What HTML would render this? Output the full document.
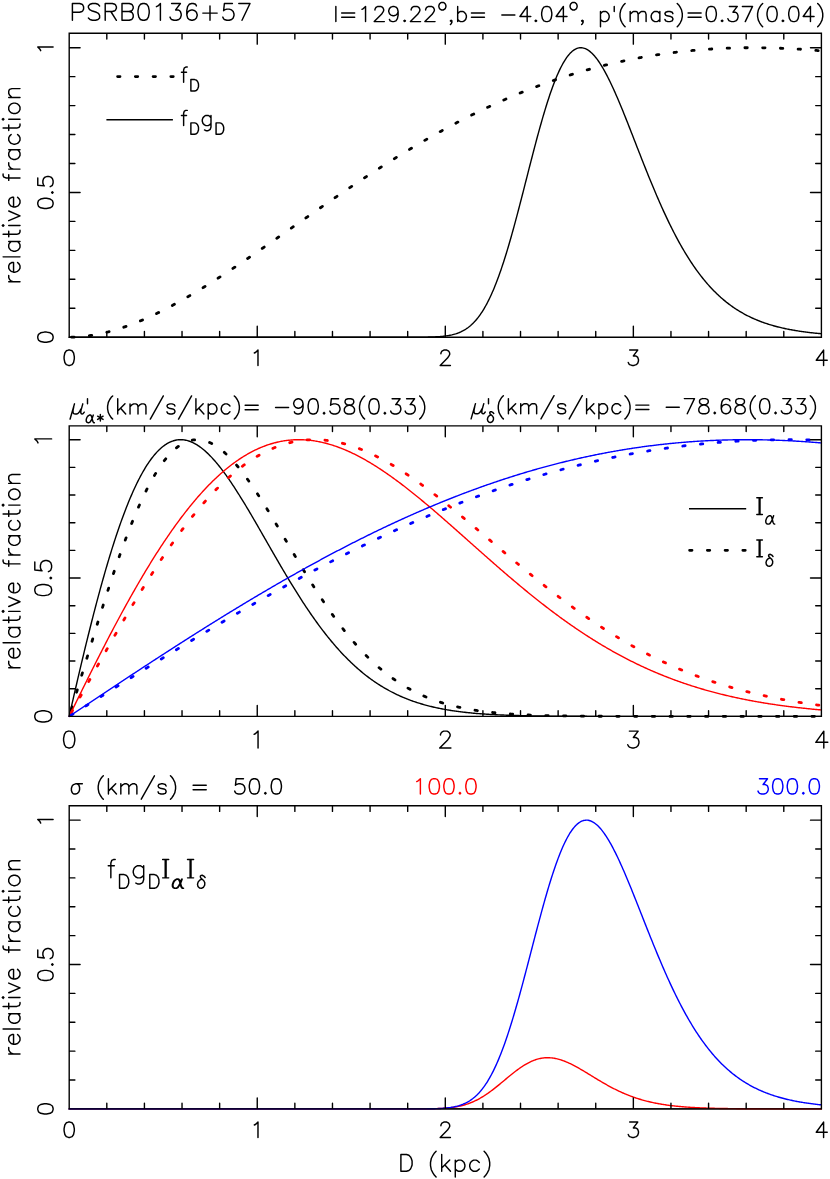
<!DOCTYPE html>
<html><head><meta charset="utf-8"><title>PSRB0136+57</title>
<style>html,body{margin:0;padding:0;background:#fff;font-family:"Liberation Sans",sans-serif}svg{display:block}</style>
</head><body>
<svg width="830" height="1179" viewBox="0 0 830 1179">
<title>PSRB0136+57 distance likelihood</title>
<desc>PSRB0136+57 l=129.22,b=-4.04, p'(mas)=0.37(0.04); relative fraction versus D (kpc); curves fD, fDgD, I alpha, I delta for sigma (km/s) = 50.0, 100.0, 300.0; mu'alpha*(km/s/kpc)= -90.58(0.33), mu'delta(km/s/kpc)= -78.68(0.33)</desc>
<rect width="830" height="1179" fill="#fff"/>
<g fill="none" stroke-linecap="round" stroke-linejoin="round">
<polyline points="69.20,337.20 70.14,337.20 71.08,337.19 72.02,337.17 72.96,337.15 73.90,337.12 74.84,337.08 75.78,337.04 76.72,336.99 77.66,336.93 78.60,336.87 79.54,336.80 80.48,336.73 81.42,336.64 82.36,336.56 83.30,336.46 84.24,336.36 85.18,336.26 86.12,336.15 87.06,336.03 88.01,335.91 88.95,335.78 89.89,335.64 90.83,335.50 91.77,335.35 92.71,335.20 93.65,335.04 94.59,334.88 95.53,334.71 96.47,334.53 97.41,334.35 98.35,334.17 99.29,333.98 100.23,333.78 101.17,333.58 102.11,333.37 103.05,333.16 103.99,332.94 104.93,332.72 105.87,332.49 106.81,332.25 107.75,332.01 108.69,331.77 109.63,331.52 110.57,331.27 111.51,331.01 112.45,330.75 113.39,330.48 114.33,330.20 115.27,329.93 116.21,329.64 117.15,329.36 118.09,329.06 119.03,328.77 119.97,328.46 120.91,328.16 121.85,327.85 122.79,327.53 123.73,327.21 124.67,326.89 125.62,326.56 126.56,326.23 127.50,325.89 128.44,325.55 129.38,325.21 130.32,324.86 131.26,324.50 132.20,324.14 133.14,323.78 134.08,323.42 135.02,323.05 135.96,322.67 136.90,322.29 137.84,321.91 138.78,321.53 139.72,321.14 140.66,320.74 141.60,320.34 142.54,319.94 143.48,319.54 144.42,319.13 145.36,318.72 146.30,318.30 147.24,317.88 148.18,317.46 149.12,317.03 150.06,316.60 151.00,316.17 151.94,315.73 152.88,315.29 153.82,314.85 154.76,314.40 155.70,313.95 156.64,313.50 157.58,313.04 158.52,312.58 159.46,312.12 160.40,311.65 161.34,311.18 162.28,310.71 163.23,310.23 164.17,309.76 165.11,309.27 166.05,308.79 166.99,308.30 167.93,307.81 168.87,307.32 169.81,306.82 170.75,306.32 171.69,305.82 172.63,305.32 173.57,304.81 174.51,304.30 175.45,303.79 176.39,303.27 177.33,302.75 178.27,302.23 179.21,301.71 180.15,301.18 181.09,300.66 182.03,300.12 182.97,299.59 183.91,299.06 184.85,298.52 185.79,297.98 186.73,297.44 187.67,296.89 188.61,296.34 189.55,295.79 190.49,295.24 191.43,294.69 192.37,294.13 193.31,293.57 194.25,293.01 195.19,292.45 196.13,291.89 197.07,291.32 198.01,290.75 198.95,290.18 199.89,289.61 200.84,289.03 201.78,288.46 202.72,287.88 203.66,287.30 204.60,286.72 205.54,286.13 206.48,285.55 207.42,284.96 208.36,284.37 209.30,283.78 210.24,283.19 211.18,282.59 212.12,282.00 213.06,281.40 214.00,280.80 214.94,280.20 215.88,279.60 216.82,279.00 217.76,278.39 218.70,277.78 219.64,277.18 220.58,276.57 221.52,275.96 222.46,275.34 223.40,274.73 224.34,274.11 225.28,273.50 226.22,272.88 227.16,272.26 228.10,271.64 229.04,271.02 229.98,270.40 230.92,269.77 231.86,269.15 232.80,268.52 233.74,267.89 234.68,267.26 235.62,266.64 236.56,266.00 237.50,265.37 238.45,264.74 239.39,264.11 240.33,263.47 241.27,262.84 242.21,262.20 243.15,261.56 244.09,260.92 245.03,260.28 245.97,259.64 246.91,259.00 247.85,258.36 248.79,257.72 249.73,257.08 250.67,256.43 251.61,255.79 252.55,255.14 253.49,254.49 254.43,253.85 255.37,253.20 256.31,252.55 257.25,251.90 258.19,251.25 259.13,250.60 260.07,249.95 261.01,249.30 261.95,248.65 262.89,248.00 263.83,247.34 264.77,246.69 265.71,246.04 266.65,245.38 267.59,244.73 268.53,244.07 269.47,243.42 270.41,242.76 271.35,242.11 272.29,241.45 273.23,240.79 274.17,240.14 275.11,239.48 276.06,238.82 277.00,238.16 277.94,237.50 278.88,236.85 279.82,236.19 280.76,235.53 281.70,234.87 282.64,234.21 283.58,233.55 284.52,232.89 285.46,232.23 286.40,231.57 287.34,230.91 288.28,230.25 289.22,229.59 290.16,228.93 291.10,228.27 292.04,227.61 292.98,226.95 293.92,226.29 294.86,225.64 295.80,224.98 296.74,224.32 297.68,223.66 298.62,223.00 299.56,222.34 300.50,221.68 301.44,221.02 302.38,220.36 303.32,219.70 304.26,219.04 305.20,218.39 306.14,217.73 307.08,217.07 308.02,216.41 308.96,215.75 309.90,215.10 310.84,214.44 311.78,213.78 312.72,213.13 313.67,212.47 314.61,211.82 315.55,211.16 316.49,210.51 317.43,209.85 318.37,209.20 319.31,208.55 320.25,207.89 321.19,207.24 322.13,206.59 323.07,205.94 324.01,205.28 324.95,204.63 325.89,203.98 326.83,203.33 327.77,202.68 328.71,202.04 329.65,201.39 330.59,200.74 331.53,200.09 332.47,199.45 333.41,198.80 334.35,198.15 335.29,197.51 336.23,196.87 337.17,196.22 338.11,195.58 339.05,194.94 339.99,194.30 340.93,193.65 341.87,193.01 342.81,192.38 343.75,191.74 344.69,191.10 345.63,190.46 346.57,189.82 347.51,189.19 348.45,188.55 349.39,187.92 350.33,187.29 351.28,186.65 352.22,186.02 353.16,185.39 354.10,184.76 355.04,184.13 355.98,183.50 356.92,182.87 357.86,182.25 358.80,181.62 359.74,181.00 360.68,180.37 361.62,179.75 362.56,179.13 363.50,178.51 364.44,177.88 365.38,177.27 366.32,176.65 367.26,176.03 368.20,175.41 369.14,174.80 370.08,174.18 371.02,173.57 371.96,172.95 372.90,172.34 373.84,171.73 374.78,171.12 375.72,170.51 376.66,169.91 377.60,169.30 378.54,168.69 379.48,168.09 380.42,167.49 381.36,166.88 382.30,166.28 383.24,165.68 384.18,165.08 385.12,164.49 386.06,163.89 387.00,163.29 387.94,162.70 388.89,162.10 389.83,161.51 390.77,160.92 391.71,160.33 392.65,159.74 393.59,159.16 394.53,158.57 395.47,157.98 396.41,157.40 397.35,156.82 398.29,156.24 399.23,155.66 400.17,155.08 401.11,154.50 402.05,153.92 402.99,153.35 403.93,152.77 404.87,152.20 405.81,151.63 406.75,151.06 407.69,150.49 408.63,149.92 409.57,149.35 410.51,148.79 411.45,148.23 412.39,147.66 413.33,147.10 414.27,146.54 415.21,145.98 416.15,145.43 417.09,144.87 418.03,144.32 418.97,143.76 419.91,143.21 420.85,142.66 421.79,142.11 422.73,141.56 423.67,141.02 424.61,140.47 425.55,139.93 426.50,139.39 427.44,138.85 428.38,138.31 429.32,137.77 430.26,137.23 431.20,136.70 432.14,136.16 433.08,135.63 434.02,135.10 434.96,134.57 435.90,134.04 436.84,133.52 437.78,132.99 438.72,132.47 439.66,131.94 440.60,131.42 441.54,130.91 442.48,130.39 443.42,129.87 444.36,129.36 445.30,128.84 446.24,128.33 447.18,127.82 448.12,127.31 449.06,126.81 450.00,126.30 450.94,125.80 451.88,125.29 452.82,124.79 453.76,124.29 454.70,123.79 455.64,123.30 456.58,122.80 457.52,122.31 458.46,121.82 459.40,121.33 460.34,120.84 461.28,120.35 462.22,119.86 463.16,119.38 464.11,118.90 465.05,118.42 465.99,117.94 466.93,117.46 467.87,116.98 468.81,116.51 469.75,116.03 470.69,115.56 471.63,115.09 472.57,114.62 473.51,114.16 474.45,113.69 475.39,113.23 476.33,112.76 477.27,112.30 478.21,111.85 479.15,111.39 480.09,110.93 481.03,110.48 481.97,110.03 482.91,109.57 483.85,109.13 484.79,108.68 485.73,108.23 486.67,107.79 487.61,107.34 488.55,106.90 489.49,106.46 490.43,106.03 491.37,105.59 492.31,105.16 493.25,104.72 494.19,104.29 495.13,103.86 496.07,103.43 497.01,103.01 497.95,102.58 498.89,102.16 499.83,101.74 500.77,101.32 501.72,100.90 502.66,100.48 503.60,100.07 504.54,99.66 505.48,99.24 506.42,98.84 507.36,98.43 508.30,98.02 509.24,97.62 510.18,97.21 511.12,96.81 512.06,96.41 513.00,96.01 513.94,95.62 514.88,95.22 515.82,94.83 516.76,94.44 517.70,94.05 518.64,93.66 519.58,93.27 520.52,92.89 521.46,92.51 522.40,92.12 523.34,91.75 524.28,91.37 525.22,90.99 526.16,90.62 527.10,90.24 528.04,89.87 528.98,89.50 529.92,89.14 530.86,88.77 531.80,88.40 532.74,88.04 533.68,87.68 534.62,87.32 535.56,86.96 536.50,86.61 537.44,86.25 538.38,85.90 539.33,85.55 540.27,85.20 541.21,84.85 542.15,84.51 543.09,84.16 544.03,83.82 544.97,83.48 545.91,83.14 546.85,82.80 547.79,82.47 548.73,82.13 549.67,81.80 550.61,81.47 551.55,81.14 552.49,80.82 553.43,80.49 554.37,80.17 555.31,79.84 556.25,79.52 557.19,79.21 558.13,78.89 559.07,78.57 560.01,78.26 560.95,77.95 561.89,77.64 562.83,77.33 563.77,77.02 564.71,76.72 565.65,76.41 566.59,76.11 567.53,75.81 568.47,75.51 569.41,75.22 570.35,74.92 571.29,74.63 572.23,74.34 573.17,74.05 574.11,73.76 575.05,73.47 575.99,73.19 576.94,72.90 577.88,72.62 578.82,72.34 579.76,72.06 580.70,71.79 581.64,71.51 582.58,71.24 583.52,70.97 584.46,70.70 585.40,70.43 586.34,70.16 587.28,69.90 588.22,69.64 589.16,69.38 590.10,69.12 591.04,68.86 591.98,68.60 592.92,68.35 593.86,68.09 594.80,67.84 595.74,67.59 596.68,67.34 597.62,67.10 598.56,66.85 599.50,66.61 600.44,66.37 601.38,66.13 602.32,65.89 603.26,65.65 604.20,65.42 605.14,65.19 606.08,64.96 607.02,64.73 607.96,64.50 608.90,64.27 609.84,64.05 610.78,63.82 611.72,63.60 612.66,63.38 613.60,63.16 614.55,62.95 615.49,62.73 616.43,62.52 617.37,62.31 618.31,62.10 619.25,61.89 620.19,61.68 621.13,61.47 622.07,61.27 623.01,61.07 623.95,60.87 624.89,60.67 625.83,60.47 626.77,60.28 627.71,60.08 628.65,59.89 629.59,59.70 630.53,59.51 631.47,59.32 632.41,59.14 633.35,58.95 634.29,58.77 635.23,58.59 636.17,58.41 637.11,58.23 638.05,58.05 638.99,57.88 639.93,57.71 640.87,57.53 641.81,57.36 642.75,57.20 643.69,57.03 644.63,56.86 645.57,56.70 646.51,56.54 647.45,56.38 648.39,56.22 649.33,56.06 650.27,55.90 651.21,55.75 652.16,55.60 653.10,55.45 654.04,55.30 654.98,55.15 655.92,55.00 656.86,54.86 657.80,54.71 658.74,54.57 659.68,54.43 660.62,54.29 661.56,54.15 662.50,54.02 663.44,53.88 664.38,53.75 665.32,53.62 666.26,53.49 667.20,53.36 668.14,53.24 669.08,53.11 670.02,52.99 670.96,52.87 671.90,52.74 672.84,52.63 673.78,52.51 674.72,52.39 675.66,52.28 676.60,52.16 677.54,52.05 678.48,51.94 679.42,51.83 680.36,51.73 681.30,51.62 682.24,51.52 683.18,51.41 684.12,51.31 685.06,51.21 686.00,51.12 686.94,51.02 687.88,50.92 688.82,50.83 689.77,50.74 690.71,50.65 691.65,50.56 692.59,50.47 693.53,50.38 694.47,50.30 695.41,50.21 696.35,50.13 697.29,50.05 698.23,49.97 699.17,49.89 700.11,49.82 701.05,49.74 701.99,49.67 702.93,49.59 703.87,49.52 704.81,49.45 705.75,49.39 706.69,49.32 707.63,49.25 708.57,49.19 709.51,49.13 710.45,49.07 711.39,49.01 712.33,48.95 713.27,48.89 714.21,48.84 715.15,48.78 716.09,48.73 717.03,48.68 717.97,48.63 718.91,48.58 719.85,48.53 720.79,48.49 721.73,48.44 722.67,48.40 723.61,48.36 724.55,48.32 725.49,48.28 726.43,48.24 727.38,48.21 728.32,48.17 729.26,48.14 730.20,48.10 731.14,48.07 732.08,48.04 733.02,48.02 733.96,47.99 734.90,47.96 735.84,47.94 736.78,47.92 737.72,47.89 738.66,47.87 739.60,47.86 740.54,47.84 741.48,47.82 742.42,47.81 743.36,47.79 744.30,47.78 745.24,47.77 746.18,47.76 747.12,47.75 748.06,47.74 749.00,47.74 749.94,47.73 750.88,47.73 751.82,47.72 752.76,47.72 753.70,47.72 754.64,47.73 755.58,47.73 756.52,47.73 757.46,47.74 758.40,47.74 759.34,47.75 760.28,47.76 761.22,47.77 762.16,47.78 763.10,47.79 764.04,47.81 764.99,47.82 765.93,47.84 766.87,47.86 767.81,47.88 768.75,47.90 769.69,47.92 770.63,47.94 771.57,47.96 772.51,47.99 773.45,48.01 774.39,48.04 775.33,48.07 776.27,48.10 777.21,48.13 778.15,48.16 779.09,48.19 780.03,48.23 780.97,48.26 781.91,48.30 782.85,48.34 783.79,48.38 784.73,48.42 785.67,48.46 786.61,48.50 787.55,48.54 788.49,48.59 789.43,48.63 790.37,48.68 791.31,48.73 792.25,48.78 793.19,48.83 794.13,48.88 795.07,48.93 796.01,48.99 796.95,49.04 797.89,49.10 798.83,49.15 799.77,49.21 800.71,49.27 801.65,49.33 802.60,49.39 803.54,49.46 804.48,49.52 805.42,49.58 806.36,49.65 807.30,49.72 808.24,49.78 809.18,49.85 810.12,49.92 811.06,49.99 812.00,50.07 812.94,50.14 813.88,50.21 814.82,50.29 815.76,50.37 816.70,50.44 817.64,50.52 818.58,50.60 819.52,50.68 820.46,50.76 821.40,50.85" stroke="#000" stroke-width="2.8" stroke-dasharray="2.4 15.35" stroke-dashoffset="-2.5"/>
<polyline points="69.20,337.20 70.14,337.20 71.08,337.20 72.02,337.20 72.96,337.20 73.90,337.20 74.84,337.20 75.78,337.20 76.72,337.20 77.66,337.20 78.60,337.20 79.54,337.20 80.48,337.20 81.42,337.20 82.36,337.20 83.30,337.20 84.24,337.20 85.18,337.20 86.12,337.20 87.06,337.20 88.01,337.20 88.95,337.20 89.89,337.20 90.83,337.20 91.77,337.20 92.71,337.20 93.65,337.20 94.59,337.20 95.53,337.20 96.47,337.20 97.41,337.20 98.35,337.20 99.29,337.20 100.23,337.20 101.17,337.20 102.11,337.20 103.05,337.20 103.99,337.20 104.93,337.20 105.87,337.20 106.81,337.20 107.75,337.20 108.69,337.20 109.63,337.20 110.57,337.20 111.51,337.20 112.45,337.20 113.39,337.20 114.33,337.20 115.27,337.20 116.21,337.20 117.15,337.20 118.09,337.20 119.03,337.20 119.97,337.20 120.91,337.20 121.85,337.20 122.79,337.20 123.73,337.20 124.67,337.20 125.62,337.20 126.56,337.20 127.50,337.20 128.44,337.20 129.38,337.20 130.32,337.20 131.26,337.20 132.20,337.20 133.14,337.20 134.08,337.20 135.02,337.20 135.96,337.20 136.90,337.20 137.84,337.20 138.78,337.20 139.72,337.20 140.66,337.20 141.60,337.20 142.54,337.20 143.48,337.20 144.42,337.20 145.36,337.20 146.30,337.20 147.24,337.20 148.18,337.20 149.12,337.20 150.06,337.20 151.00,337.20 151.94,337.20 152.88,337.20 153.82,337.20 154.76,337.20 155.70,337.20 156.64,337.20 157.58,337.20 158.52,337.20 159.46,337.20 160.40,337.20 161.34,337.20 162.28,337.20 163.23,337.20 164.17,337.20 165.11,337.20 166.05,337.20 166.99,337.20 167.93,337.20 168.87,337.20 169.81,337.20 170.75,337.20 171.69,337.20 172.63,337.20 173.57,337.20 174.51,337.20 175.45,337.20 176.39,337.20 177.33,337.20 178.27,337.20 179.21,337.20 180.15,337.20 181.09,337.20 182.03,337.20 182.97,337.20 183.91,337.20 184.85,337.20 185.79,337.20 186.73,337.20 187.67,337.20 188.61,337.20 189.55,337.20 190.49,337.20 191.43,337.20 192.37,337.20 193.31,337.20 194.25,337.20 195.19,337.20 196.13,337.20 197.07,337.20 198.01,337.20 198.95,337.20 199.89,337.20 200.84,337.20 201.78,337.20 202.72,337.20 203.66,337.20 204.60,337.20 205.54,337.20 206.48,337.20 207.42,337.20 208.36,337.20 209.30,337.20 210.24,337.20 211.18,337.20 212.12,337.20 213.06,337.20 214.00,337.20 214.94,337.20 215.88,337.20 216.82,337.20 217.76,337.20 218.70,337.20 219.64,337.20 220.58,337.20 221.52,337.20 222.46,337.20 223.40,337.20 224.34,337.20 225.28,337.20 226.22,337.20 227.16,337.20 228.10,337.20 229.04,337.20 229.98,337.20 230.92,337.20 231.86,337.20 232.80,337.20 233.74,337.20 234.68,337.20 235.62,337.20 236.56,337.20 237.50,337.20 238.45,337.20 239.39,337.20 240.33,337.20 241.27,337.20 242.21,337.20 243.15,337.20 244.09,337.20 245.03,337.20 245.97,337.20 246.91,337.20 247.85,337.20 248.79,337.20 249.73,337.20 250.67,337.20 251.61,337.20 252.55,337.20 253.49,337.20 254.43,337.20 255.37,337.20 256.31,337.20 257.25,337.20 258.19,337.20 259.13,337.20 260.07,337.20 261.01,337.20 261.95,337.20 262.89,337.20 263.83,337.20 264.77,337.20 265.71,337.20 266.65,337.20 267.59,337.20 268.53,337.20 269.47,337.20 270.41,337.20 271.35,337.20 272.29,337.20 273.23,337.20 274.17,337.20 275.11,337.20 276.06,337.20 277.00,337.20 277.94,337.20 278.88,337.20 279.82,337.20 280.76,337.20 281.70,337.20 282.64,337.20 283.58,337.20 284.52,337.20 285.46,337.20 286.40,337.20 287.34,337.20 288.28,337.20 289.22,337.20 290.16,337.20 291.10,337.20 292.04,337.20 292.98,337.20 293.92,337.20 294.86,337.20 295.80,337.20 296.74,337.20 297.68,337.20 298.62,337.20 299.56,337.20 300.50,337.20 301.44,337.20 302.38,337.20 303.32,337.20 304.26,337.20 305.20,337.20 306.14,337.20 307.08,337.20 308.02,337.20 308.96,337.20 309.90,337.20 310.84,337.20 311.78,337.20 312.72,337.20 313.67,337.20 314.61,337.20 315.55,337.20 316.49,337.20 317.43,337.20 318.37,337.20 319.31,337.20 320.25,337.20 321.19,337.20 322.13,337.20 323.07,337.20 324.01,337.20 324.95,337.20 325.89,337.20 326.83,337.20 327.77,337.20 328.71,337.20 329.65,337.20 330.59,337.20 331.53,337.20 332.47,337.20 333.41,337.20 334.35,337.20 335.29,337.20 336.23,337.20 337.17,337.20 338.11,337.20 339.05,337.20 339.99,337.20 340.93,337.20 341.87,337.20 342.81,337.20 343.75,337.20 344.69,337.20 345.63,337.20 346.57,337.20 347.51,337.20 348.45,337.20 349.39,337.20 350.33,337.20 351.28,337.20 352.22,337.20 353.16,337.20 354.10,337.20 355.04,337.20 355.98,337.20 356.92,337.20 357.86,337.20 358.80,337.20 359.74,337.20 360.68,337.20 361.62,337.20 362.56,337.20 363.50,337.20 364.44,337.20 365.38,337.20 366.32,337.20 367.26,337.20 368.20,337.20 369.14,337.20 370.08,337.20 371.02,337.20 371.96,337.20 372.90,337.20 373.84,337.20 374.78,337.20 375.72,337.20 376.66,337.20 377.60,337.20 378.54,337.20 379.48,337.20 380.42,337.20 381.36,337.20 382.30,337.20 383.24,337.20 384.18,337.20 385.12,337.20 386.06,337.20 387.00,337.20 387.94,337.20 388.89,337.20 389.83,337.20 390.77,337.20 391.71,337.20 392.65,337.20 393.59,337.20 394.53,337.20 395.47,337.20 396.41,337.20 397.35,337.20 398.29,337.20 399.23,337.20 400.17,337.20 401.11,337.20 402.05,337.20 402.99,337.20 403.93,337.20 404.87,337.20 405.81,337.20 406.75,337.20 407.69,337.20 408.63,337.19 409.57,337.19 410.51,337.19 411.45,337.19 412.39,337.19 413.33,337.19 414.27,337.19 415.21,337.18 416.15,337.18 417.09,337.18 418.03,337.17 418.97,337.17 419.91,337.16 420.85,337.16 421.79,337.15 422.73,337.14 423.67,337.13 424.61,337.12 425.55,337.11 426.50,337.10 427.44,337.08 428.38,337.06 429.32,337.04 430.26,337.02 431.20,337.00 432.14,336.97 433.08,336.94 434.02,336.90 434.96,336.86 435.90,336.82 436.84,336.77 437.78,336.72 438.72,336.66 439.66,336.60 440.60,336.52 441.54,336.45 442.48,336.36 443.42,336.26 444.36,336.16 445.30,336.04 446.24,335.92 447.18,335.78 448.12,335.63 449.06,335.47 450.00,335.29 450.94,335.09 451.88,334.89 452.82,334.66 453.76,334.41 454.70,334.15 455.64,333.87 456.58,333.56 457.52,333.23 458.46,332.88 459.40,332.50 460.34,332.09 461.28,331.66 462.22,331.19 463.16,330.70 464.11,330.17 465.05,329.61 465.99,329.01 466.93,328.37 467.87,327.70 468.81,326.99 469.75,326.24 470.69,325.44 471.63,324.60 472.57,323.71 473.51,322.78 474.45,321.80 475.39,320.77 476.33,319.68 477.27,318.55 478.21,317.36 479.15,316.11 480.09,314.81 481.03,313.45 481.97,312.03 482.91,310.56 483.85,309.02 484.79,307.42 485.73,305.76 486.67,304.04 487.61,302.25 488.55,300.40 489.49,298.48 490.43,296.50 491.37,294.45 492.31,292.34 493.25,290.16 494.19,287.92 495.13,285.61 496.07,283.23 497.01,280.79 497.95,278.29 498.89,275.72 499.83,273.09 500.77,270.40 501.72,267.64 502.66,264.83 503.60,261.96 504.54,259.02 505.48,256.04 506.42,252.99 507.36,249.89 508.30,246.75 509.24,243.55 510.18,240.30 511.12,237.01 512.06,233.67 513.00,230.29 513.94,226.87 514.88,223.42 515.82,219.93 516.76,216.40 517.70,212.85 518.64,209.27 519.58,205.67 520.52,202.05 521.46,198.40 522.40,194.75 523.34,191.07 524.28,187.39 525.22,183.70 526.16,180.01 527.10,176.32 528.04,172.63 528.98,168.95 529.92,165.27 530.86,161.61 531.80,157.96 532.74,154.33 533.68,150.72 534.62,147.13 535.56,143.57 536.50,140.04 537.44,136.55 538.38,133.08 539.33,129.66 540.27,126.28 541.21,122.95 542.15,119.66 543.09,116.42 544.03,113.23 544.97,110.10 545.91,107.02 546.85,104.01 547.79,101.05 548.73,98.16 549.67,95.34 550.61,92.58 551.55,89.90 552.49,87.28 553.43,84.74 554.37,82.28 555.31,79.89 556.25,77.58 557.19,75.35 558.13,73.20 559.07,71.14 560.01,69.16 560.95,67.26 561.89,65.45 562.83,63.72 563.77,62.08 564.71,60.53 565.65,59.07 566.59,57.70 567.53,56.41 568.47,55.21 569.41,54.11 570.35,53.09 571.29,52.16 572.23,51.32 573.17,50.57 574.11,49.91 575.05,49.34 575.99,48.85 576.94,48.45 577.88,48.14 578.82,47.92 579.76,47.78 580.70,47.72 581.64,47.75 582.58,47.86 583.52,48.06 584.46,48.33 585.40,48.69 586.34,49.12 587.28,49.63 588.22,50.21 589.16,50.87 590.10,51.61 591.04,52.41 591.98,53.29 592.92,54.23 593.86,55.25 594.80,56.33 595.74,57.47 596.68,58.68 597.62,59.94 598.56,61.27 599.50,62.66 600.44,64.10 601.38,65.60 602.32,67.15 603.26,68.75 604.20,70.40 605.14,72.10 606.08,73.85 607.02,75.64 607.96,77.48 608.90,79.35 609.84,81.27 610.78,83.22 611.72,85.21 612.66,87.24 613.60,89.30 614.55,91.39 615.49,93.51 616.43,95.66 617.37,97.83 618.31,100.03 619.25,102.26 620.19,104.51 621.13,106.77 622.07,109.06 623.01,111.36 623.95,113.68 624.89,116.02 625.83,118.37 626.77,120.73 627.71,123.10 628.65,125.48 629.59,127.87 630.53,130.27 631.47,132.67 632.41,135.07 633.35,137.48 634.29,139.90 635.23,142.31 636.17,144.72 637.11,147.13 638.05,149.54 638.99,151.95 639.93,154.35 640.87,156.75 641.81,159.14 642.75,161.53 643.69,163.90 644.63,166.27 645.57,168.63 646.51,170.98 647.45,173.32 648.39,175.65 649.33,177.96 650.27,180.26 651.21,182.55 652.16,184.83 653.10,187.09 654.04,189.33 654.98,191.56 655.92,193.77 656.86,195.97 657.80,198.15 658.74,200.31 659.68,202.45 660.62,204.58 661.56,206.68 662.50,208.77 663.44,210.84 664.38,212.89 665.32,214.91 666.26,216.92 667.20,218.91 668.14,220.88 669.08,222.82 670.02,224.75 670.96,226.65 671.90,228.53 672.84,230.39 673.78,232.23 674.72,234.05 675.66,235.84 676.60,237.62 677.54,239.37 678.48,241.10 679.42,242.81 680.36,244.49 681.30,246.15 682.24,247.80 683.18,249.42 684.12,251.01 685.06,252.59 686.00,254.14 686.94,255.67 687.88,257.18 688.82,258.67 689.77,260.14 690.71,261.59 691.65,263.01 692.59,264.41 693.53,265.79 694.47,267.16 695.41,268.50 696.35,269.81 697.29,271.11 698.23,272.39 699.17,273.65 700.11,274.89 701.05,276.11 701.99,277.30 702.93,278.48 703.87,279.64 704.81,280.78 705.75,281.90 706.69,283.01 707.63,284.09 708.57,285.16 709.51,286.20 710.45,287.23 711.39,288.24 712.33,289.24 713.27,290.21 714.21,291.17 715.15,292.11 716.09,293.04 717.03,293.95 717.97,294.84 718.91,295.72 719.85,296.58 720.79,297.42 721.73,298.25 722.67,299.06 723.61,299.86 724.55,300.64 725.49,301.41 726.43,302.17 727.38,302.91 728.32,303.63 729.26,304.35 730.20,305.05 731.14,305.73 732.08,306.40 733.02,307.06 733.96,307.71 734.90,308.34 735.84,308.96 736.78,309.57 737.72,310.17 738.66,310.75 739.60,311.33 740.54,311.89 741.48,312.44 742.42,312.98 743.36,313.51 744.30,314.03 745.24,314.53 746.18,315.03 747.12,315.52 748.06,316.00 749.00,316.46 749.94,316.92 750.88,317.37 751.82,317.81 752.76,318.24 753.70,318.66 754.64,319.07 755.58,319.48 756.52,319.87 757.46,320.26 758.40,320.64 759.34,321.01 760.28,321.37 761.22,321.73 762.16,322.07 763.10,322.41 764.04,322.75 764.99,323.07 765.93,323.39 766.87,323.70 767.81,324.01 768.75,324.31 769.69,324.60 770.63,324.89 771.57,325.17 772.51,325.44 773.45,325.71 774.39,325.97 775.33,326.22 776.27,326.48 777.21,326.72 778.15,326.96 779.09,327.19 780.03,327.42 780.97,327.65 781.91,327.87 782.85,328.08 783.79,328.29 784.73,328.50 785.67,328.70 786.61,328.89 787.55,329.08 788.49,329.27 789.43,329.45 790.37,329.63 791.31,329.81 792.25,329.98 793.19,330.15 794.13,330.31 795.07,330.47 796.01,330.62 796.95,330.78 797.89,330.93 798.83,331.07 799.77,331.21 800.71,331.35 801.65,331.49 802.60,331.62 803.54,331.75 804.48,331.88 805.42,332.00 806.36,332.12 807.30,332.24 808.24,332.36 809.18,332.47 810.12,332.58 811.06,332.69 812.00,332.80 812.94,332.90 813.88,333.00 814.82,333.10 815.76,333.19 816.70,333.29 817.64,333.38 818.58,333.47 819.52,333.56 820.46,333.64 821.40,333.72" stroke="#000" stroke-width="1.4"/>
<path d="M69.20 33.25H821.40V337.20H69.20ZM69.20 33.25v10.90M69.20 337.20v-10.90M106.81 33.25v5.70M106.81 337.20v-5.70M144.42 33.25v5.70M144.42 337.20v-5.70M182.03 33.25v5.70M182.03 337.20v-5.70M219.64 33.25v5.70M219.64 337.20v-5.70M257.25 33.25v10.90M257.25 337.20v-10.90M294.86 33.25v5.70M294.86 337.20v-5.70M332.47 33.25v5.70M332.47 337.20v-5.70M370.08 33.25v5.70M370.08 337.20v-5.70M407.69 33.25v5.70M407.69 337.20v-5.70M445.30 33.25v10.90M445.30 337.20v-10.90M482.91 33.25v5.70M482.91 337.20v-5.70M520.52 33.25v5.70M520.52 337.20v-5.70M558.13 33.25v5.70M558.13 337.20v-5.70M595.74 33.25v5.70M595.74 337.20v-5.70M633.35 33.25v10.90M633.35 337.20v-10.90M670.96 33.25v5.70M670.96 337.20v-5.70M708.57 33.25v5.70M708.57 337.20v-5.70M746.18 33.25v5.70M746.18 337.20v-5.70M783.79 33.25v5.70M783.79 337.20v-5.70M821.40 33.25v10.90M821.40 337.20v-10.90M69.20 337.20h10.90M821.40 337.20h-10.90M69.20 308.25h5.70M821.40 308.25h-5.70M69.20 279.30h5.70M821.40 279.30h-5.70M69.20 250.36h5.70M821.40 250.36h-5.70M69.20 221.41h5.70M821.40 221.41h-5.70M69.20 192.46h10.90M821.40 192.46h-10.90M69.20 163.51h5.70M821.40 163.51h-5.70M69.20 134.57h5.70M821.40 134.57h-5.70M69.20 105.62h5.70M821.40 105.62h-5.70M69.20 76.67h5.70M821.40 76.67h-5.70M69.20 47.72h10.90M821.40 47.72h-10.90" stroke="#000" stroke-width="1.4" stroke-linejoin="miter"/>
<path d="M68.47 350.07L69.93 350.07L72.12 350.80L73.58 352.99L74.31 356.64L74.31 358.83L73.58 362.48L72.12 364.67L69.93 365.40L68.47 365.40L66.28 364.67L64.82 362.48L64.09 358.83L64.09 356.64L64.82 352.99L66.28 350.80L68.47 350.07" stroke="#000" stroke-width="1.45"/>
<path d="M254.33 352.99L255.79 352.26L257.98 350.07L257.98 365.40" stroke="#000" stroke-width="1.45"/>
<path d="M440.92 353.72L440.92 352.99L441.65 351.53L442.38 350.80L443.84 350.07L446.76 350.07L448.22 350.80L448.95 351.53L449.68 352.99L449.68 354.45L448.95 355.91L447.49 358.10L440.19 365.40L450.41 365.40" stroke="#000" stroke-width="1.45"/>
<path d="M629.70 350.07L637.73 350.07L633.35 355.91L635.54 355.91L637.00 356.64L637.73 357.37L638.46 359.56L638.46 361.02L637.73 363.21L636.27 364.67L634.08 365.40L631.89 365.40L629.70 364.67L628.97 363.94L628.24 362.48" stroke="#000" stroke-width="1.45"/>
<path d="M827.24 360.29L823.59 360.29L823.59 350.07L816.29 360.29L823.59 360.29L823.59 365.40" stroke="#000" stroke-width="1.45"/>
<path d="M37.77 337.93L37.77 336.47L38.50 334.28L40.69 332.82L44.34 332.09L46.53 332.09L50.18 332.82L52.37 334.28L53.10 336.47L53.10 337.93L52.37 340.12L50.18 341.58L46.53 342.31L44.34 342.31L40.69 341.58L38.50 340.12L37.77 337.93" stroke="#000" stroke-width="1.45"/>
<path d="M37.77 204.14L37.77 202.68L38.50 200.49L40.69 199.03L44.34 198.30L46.53 198.30L50.18 199.03L52.37 200.49L53.10 202.68L53.10 204.14L52.37 206.33L50.18 207.79L46.53 208.52L44.34 208.52L40.69 207.79L38.50 206.33L37.77 204.14M51.64 192.46L52.37 193.19L53.10 192.46L52.37 191.73L51.64 192.46M52.37 192.46L52.37 192.46M37.77 177.86L37.77 185.16L44.34 185.89L43.61 185.16L42.88 182.97L42.88 180.78L43.61 178.59L45.07 177.13L47.26 176.40L48.72 176.40L50.91 177.13L52.37 178.59L53.10 180.78L53.10 182.97L52.37 185.16L51.64 185.89L50.18 186.62" stroke="#000" stroke-width="1.45"/>
<path d="M40.69 50.64L39.96 49.18L37.77 46.99L53.10 46.99" stroke="#000" stroke-width="1.45"/>
<path d="M8.73 281.82L13.56 281.82L11.14 281.02L9.53 279.41L8.73 277.80L8.73 275.38M13.56 281.82L20.00 281.82M13.56 272.17L11.14 271.36L9.53 269.75L8.73 268.14L8.73 265.73L9.53 264.12L10.34 263.31L11.95 262.50L13.56 262.50L13.56 272.17L15.17 272.17L17.58 271.36L19.19 269.75L20.00 268.14L20.00 265.73L19.19 264.12L17.58 262.50M3.09 256.87L20.00 256.87M8.73 241.57L11.14 241.57L9.53 243.19L8.73 244.79L8.73 247.21L9.53 248.82L11.14 250.43L13.56 251.24L15.17 251.24L17.58 250.43L19.19 248.82L20.00 247.21L20.00 244.79L19.19 243.19L17.58 241.57L11.14 241.57M17.58 241.57L20.00 241.57M3.09 234.33L8.73 234.33L8.73 236.75M8.73 231.11L8.73 234.33L16.78 234.33L19.19 233.53L20.00 231.91L20.00 230.31M8.73 225.47L20.00 225.47M2.29 225.47L3.09 226.28L3.90 225.47L3.09 224.67L2.29 225.47M8.73 220.64L20.00 215.81L8.73 210.98M13.56 206.96L11.14 206.16L9.54 204.54L8.73 202.94L8.73 200.52L9.54 198.91L10.34 198.10L11.95 197.30L13.56 197.30L13.56 206.96L15.17 206.96L17.59 206.16L19.20 204.54L20.00 202.94L20.00 200.52L19.20 198.91L17.59 197.30M3.09 173.95L3.09 175.56L3.90 177.17L6.31 177.98L8.73 177.98L8.73 180.39M8.73 174.76L8.73 177.98L20.00 177.98M8.73 169.12L13.56 169.12L11.14 168.32L9.54 166.71L8.73 165.10L8.73 162.69M13.56 169.12L20.00 169.12M8.73 149.81L11.15 149.81L9.54 151.41L8.73 153.02L8.73 155.44L9.54 157.05L11.14 158.66L13.56 159.47L15.17 159.47L17.59 158.66L19.20 157.05L20.00 155.44L20.00 153.02L19.20 151.41L17.59 149.81L11.15 149.81M17.59 149.81L20.00 149.81M11.15 134.51L9.54 136.12L8.73 137.73L8.73 140.14L9.54 141.75L11.15 143.37L13.56 144.17L15.17 144.17L17.59 143.37L19.20 141.75L20.00 140.14L20.00 137.73L19.20 136.12L17.59 134.51M3.10 128.07L8.73 128.07L8.73 130.48M8.73 124.85L8.73 128.07L16.78 128.07L19.20 127.26L20.00 125.66L20.00 124.04M8.73 119.21L20.00 119.21M2.29 119.21L3.10 120.02L3.90 119.21L3.10 118.41L2.29 119.21M8.73 109.55L8.73 107.14L9.54 105.53L11.15 103.92L13.56 103.11L15.17 103.11L17.59 103.92L19.20 105.53L20.00 107.14L20.00 109.55L19.20 111.16L17.59 112.77L15.17 113.58L13.56 113.58L11.15 112.77L9.54 111.16L8.73 109.55M8.73 97.48L11.95 97.48L9.54 95.06L8.73 93.45L8.73 91.04L9.54 89.43L11.95 88.62L20.00 88.62M11.95 97.48L20.00 97.48" stroke="#000" stroke-width="1.45"/>
<polyline points="69.20,716.40 70.14,712.23 71.08,708.08 72.02,703.94 72.96,699.82 73.90,695.71 74.84,691.61 75.78,687.53 76.72,683.47 77.66,679.43 78.60,675.40 79.54,671.39 80.48,667.40 81.42,663.44 82.36,659.49 83.30,655.56 84.24,651.65 85.18,647.77 86.12,643.91 87.06,640.08 88.01,636.26 88.95,632.48 89.89,628.72 90.83,624.98 91.77,621.27 92.71,617.59 93.65,613.93 94.59,610.31 95.53,606.71 96.47,603.14 97.41,599.60 98.35,596.09 99.29,592.62 100.23,589.17 101.17,585.75 102.11,582.37 103.05,579.02 103.99,575.70 104.93,572.42 105.87,569.17 106.81,565.96 107.75,562.78 108.69,559.63 109.63,556.52 110.57,553.45 111.51,550.41 112.45,547.41 113.39,544.45 114.33,541.52 115.27,538.64 116.21,535.79 117.15,532.98 118.09,530.20 119.03,527.47 119.97,524.78 120.91,522.12 121.85,519.51 122.79,516.94 123.73,514.40 124.67,511.91 125.62,509.46 126.56,507.05 127.50,504.68 128.44,502.35 129.38,500.07 130.32,497.82 131.26,495.62 132.20,493.46 133.14,491.34 134.08,489.27 135.02,487.24 135.96,485.25 136.90,483.30 137.84,481.40 138.78,479.54 139.72,477.72 140.66,475.95 141.60,474.21 142.54,472.53 143.48,470.88 144.42,469.28 145.36,467.72 146.30,466.21 147.24,464.74 148.18,463.31 149.12,461.92 150.06,460.58 151.00,459.28 151.94,458.03 152.88,456.81 153.82,455.64 154.76,454.52 155.70,453.43 156.64,452.39 157.58,451.39 158.52,450.43 159.46,449.52 160.40,448.65 161.34,447.82 162.28,447.03 163.23,446.28 164.17,445.57 165.11,444.91 166.05,444.28 166.99,443.70 167.93,443.16 168.87,442.66 169.81,442.19 170.75,441.77 171.69,441.39 172.63,441.05 173.57,440.74 174.51,440.48 175.45,440.25 176.39,440.06 177.33,439.91 178.27,439.80 179.21,439.73 180.15,439.69 181.09,439.69 182.03,439.72 182.97,439.79 183.91,439.90 184.85,440.04 185.79,440.22 186.73,440.43 187.67,440.68 188.61,440.96 189.55,441.27 190.49,441.62 191.43,442.00 192.37,442.41 193.31,442.86 194.25,443.34 195.19,443.84 196.13,444.38 197.07,444.95 198.01,445.55 198.95,446.18 199.89,446.84 200.84,447.53 201.78,448.25 202.72,448.99 203.66,449.76 204.60,450.56 205.54,451.39 206.48,452.24 207.42,453.12 208.36,454.02 209.30,454.95 210.24,455.91 211.18,456.89 212.12,457.89 213.06,458.91 214.00,459.96 214.94,461.03 215.88,462.12 216.82,463.23 217.76,464.37 218.70,465.52 219.64,466.70 220.58,467.90 221.52,469.11 222.46,470.34 223.40,471.59 224.34,472.86 225.28,474.15 226.22,475.45 227.16,476.78 228.10,478.11 229.04,479.46 229.98,480.83 230.92,482.21 231.86,483.61 232.80,485.02 233.74,486.45 234.68,487.88 235.62,489.33 236.56,490.80 237.50,492.27 238.45,493.76 239.39,495.25 240.33,496.76 241.27,498.28 242.21,499.80 243.15,501.34 244.09,502.88 245.03,504.44 245.97,506.00 246.91,507.57 247.85,509.14 248.79,510.72 249.73,512.31 250.67,513.91 251.61,515.51 252.55,517.12 253.49,518.73 254.43,520.34 255.37,521.96 256.31,523.59 257.25,525.21 258.19,526.84 259.13,528.48 260.07,530.11 261.01,531.75 261.95,533.39 262.89,535.03 263.83,536.67 264.77,538.31 265.71,539.95 266.65,541.60 267.59,543.24 268.53,544.88 269.47,546.52 270.41,548.16 271.35,549.80 272.29,551.43 273.23,553.07 274.17,554.70 275.11,556.33 276.06,557.95 277.00,559.58 277.94,561.20 278.88,562.81 279.82,564.42 280.76,566.03 281.70,567.63 282.64,569.23 283.58,570.83 284.52,572.41 285.46,574.00 286.40,575.57 287.34,577.14 288.28,578.71 289.22,580.27 290.16,581.82 291.10,583.37 292.04,584.90 292.98,586.44 293.92,587.96 294.86,589.48 295.80,590.99 296.74,592.49 297.68,593.98 298.62,595.47 299.56,596.94 300.50,598.41 301.44,599.87 302.38,601.32 303.32,602.77 304.26,604.20 305.20,605.63 306.14,607.04 307.08,608.45 308.02,609.84 308.96,611.23 309.90,612.61 310.84,613.98 311.78,615.33 312.72,616.68 313.67,618.02 314.61,619.35 315.55,620.66 316.49,621.97 317.43,623.27 318.37,624.55 319.31,625.83 320.25,627.09 321.19,628.35 322.13,629.59 323.07,630.82 324.01,632.05 324.95,633.26 325.89,634.46 326.83,635.65 327.77,636.82 328.71,637.99 329.65,639.15 330.59,640.29 331.53,641.43 332.47,642.55 333.41,643.66 334.35,644.76 335.29,645.85 336.23,646.93 337.17,648.00 338.11,649.05 339.05,650.10 339.99,651.13 340.93,652.16 341.87,653.17 342.81,654.17 343.75,655.16 344.69,656.14 345.63,657.11 346.57,658.06 347.51,659.01 348.45,659.94 349.39,660.87 350.33,661.78 351.28,662.68 352.22,663.57 353.16,664.45 354.10,665.32 355.04,666.18 355.98,667.03 356.92,667.87 357.86,668.70 358.80,669.51 359.74,670.32 360.68,671.12 361.62,671.90 362.56,672.68 363.50,673.44 364.44,674.20 365.38,674.94 366.32,675.68 367.26,676.40 368.20,677.12 369.14,677.82 370.08,678.52 371.02,679.21 371.96,679.88 372.90,680.55 373.84,681.21 374.78,681.85 375.72,682.49 376.66,683.12 377.60,683.74 378.54,684.35 379.48,684.96 380.42,685.55 381.36,686.13 382.30,686.71 383.24,687.27 384.18,687.83 385.12,688.38 386.06,688.92 387.00,689.46 387.94,689.98 388.89,690.50 389.83,691.00 390.77,691.50 391.71,692.00 392.65,692.48 393.59,692.96 394.53,693.42 395.47,693.89 396.41,694.34 397.35,694.78 398.29,695.22 399.23,695.65 400.17,696.08 401.11,696.49 402.05,696.90 402.99,697.31 403.93,697.70 404.87,698.09 405.81,698.47 406.75,698.85 407.69,699.22 408.63,699.58 409.57,699.94 410.51,700.29 411.45,700.63 412.39,700.97 413.33,701.30 414.27,701.62 415.21,701.94 416.15,702.26 417.09,702.56 418.03,702.87 418.97,703.16 419.91,703.45 420.85,703.74 421.79,704.02 422.73,704.29 423.67,704.56 424.61,704.83 425.55,705.09 426.50,705.34 427.44,705.59 428.38,705.84 429.32,706.08 430.26,706.31 431.20,706.54 432.14,706.77 433.08,706.99 434.02,707.21 434.96,707.42 435.90,707.63 436.84,707.83 437.78,708.03 438.72,708.23 439.66,708.42 440.60,708.61 441.54,708.79 442.48,708.97 443.42,709.15 444.36,709.32 445.30,709.49 446.24,709.66 447.18,709.82 448.12,709.98 449.06,710.14 450.00,710.29 450.94,710.44 451.88,710.59 452.82,710.73 453.76,710.87 454.70,711.00 455.64,711.14 456.58,711.27 457.52,711.40 458.46,711.52 459.40,711.64 460.34,711.76 461.28,711.88 462.22,711.99 463.16,712.11 464.11,712.22 465.05,712.32 465.99,712.43 466.93,712.53 467.87,712.63 468.81,712.73 469.75,712.82 470.69,712.91 471.63,713.00 472.57,713.09 473.51,713.18 474.45,713.26 475.39,713.35 476.33,713.43 477.27,713.51 478.21,713.58 479.15,713.66 480.09,713.73 481.03,713.80 481.97,713.87 482.91,713.94 483.85,714.01 484.79,714.07 485.73,714.13 486.67,714.19 487.61,714.26 488.55,714.31 489.49,714.37 490.43,714.43 491.37,714.48 492.31,714.53 493.25,714.59 494.19,714.64 495.13,714.69 496.07,714.73 497.01,714.78 497.95,714.83 498.89,714.87 499.83,714.91 500.77,714.95 501.72,715.00 502.66,715.04 503.60,715.07 504.54,715.11 505.48,715.15 506.42,715.18 507.36,715.22 508.30,715.25 509.24,715.29 510.18,715.32 511.12,715.35 512.06,715.38 513.00,715.41 513.94,715.44 514.88,715.47 515.82,715.50 516.76,715.52 517.70,715.55 518.64,715.57 519.58,715.60 520.52,715.62 521.46,715.65 522.40,715.67 523.34,715.69 524.28,715.71 525.22,715.73 526.16,715.75 527.10,715.77 528.04,715.79 528.98,715.81 529.92,715.83 530.86,715.85 531.80,715.86 532.74,715.88 533.68,715.89 534.62,715.91 535.56,715.93 536.50,715.94 537.44,715.95 538.38,715.97 539.33,715.98 540.27,715.99 541.21,716.01 542.15,716.02 543.09,716.03 544.03,716.04 544.97,716.05 545.91,716.07 546.85,716.08 547.79,716.09 548.73,716.10 549.67,716.11 550.61,716.12 551.55,716.13 552.49,716.13 553.43,716.14 554.37,716.15 555.31,716.16 556.25,716.17 557.19,716.17 558.13,716.18 559.07,716.19 560.01,716.20 560.95,716.20 561.89,716.21 562.83,716.22 563.77,716.22 564.71,716.23 565.65,716.23 566.59,716.24 567.53,716.24 568.47,716.25 569.41,716.25 570.35,716.26 571.29,716.26 572.23,716.27 573.17,716.27 574.11,716.28 575.05,716.28 575.99,716.29 576.94,716.29 577.88,716.29 578.82,716.30 579.76,716.30 580.70,716.30 581.64,716.31 582.58,716.31 583.52,716.31 584.46,716.32 585.40,716.32 586.34,716.32 587.28,716.33 588.22,716.33 589.16,716.33 590.10,716.33 591.04,716.34 591.98,716.34 592.92,716.34 593.86,716.34 594.80,716.34 595.74,716.35 596.68,716.35 597.62,716.35 598.56,716.35 599.50,716.35 600.44,716.35 601.38,716.36 602.32,716.36 603.26,716.36 604.20,716.36 605.14,716.36 606.08,716.36 607.02,716.37 607.96,716.37 608.90,716.37 609.84,716.37 610.78,716.37 611.72,716.37 612.66,716.37 613.60,716.37 614.55,716.37 615.49,716.38 616.43,716.38 617.37,716.38 618.31,716.38 619.25,716.38 620.19,716.38 621.13,716.38 622.07,716.38 623.01,716.38 623.95,716.38 624.89,716.38 625.83,716.38 626.77,716.38 627.71,716.38 628.65,716.39 629.59,716.39 630.53,716.39 631.47,716.39 632.41,716.39 633.35,716.39 634.29,716.39 635.23,716.39 636.17,716.39 637.11,716.39 638.05,716.39 638.99,716.39 639.93,716.39 640.87,716.39 641.81,716.39 642.75,716.39 643.69,716.39 644.63,716.39 645.57,716.39 646.51,716.39 647.45,716.39 648.39,716.39 649.33,716.39 650.27,716.39 651.21,716.39 652.16,716.39 653.10,716.39 654.04,716.40 654.98,716.40 655.92,716.40 656.86,716.40 657.80,716.40 658.74,716.40 659.68,716.40 660.62,716.40 661.56,716.40 662.50,716.40 663.44,716.40 664.38,716.40 665.32,716.40 666.26,716.40 667.20,716.40 668.14,716.40 669.08,716.40 670.02,716.40 670.96,716.40 671.90,716.40 672.84,716.40 673.78,716.40 674.72,716.40 675.66,716.40 676.60,716.40 677.54,716.40 678.48,716.40 679.42,716.40 680.36,716.40 681.30,716.40 682.24,716.40 683.18,716.40 684.12,716.40 685.06,716.40 686.00,716.40 686.94,716.40 687.88,716.40 688.82,716.40 689.77,716.40 690.71,716.40 691.65,716.40 692.59,716.40 693.53,716.40 694.47,716.40 695.41,716.40 696.35,716.40 697.29,716.40 698.23,716.40 699.17,716.40 700.11,716.40 701.05,716.40 701.99,716.40 702.93,716.40 703.87,716.40 704.81,716.40 705.75,716.40 706.69,716.40 707.63,716.40 708.57,716.40 709.51,716.40 710.45,716.40 711.39,716.40 712.33,716.40 713.27,716.40 714.21,716.40 715.15,716.40 716.09,716.40 717.03,716.40 717.97,716.40 718.91,716.40 719.85,716.40 720.79,716.40 721.73,716.40 722.67,716.40 723.61,716.40 724.55,716.40 725.49,716.40 726.43,716.40 727.38,716.40 728.32,716.40 729.26,716.40 730.20,716.40 731.14,716.40 732.08,716.40 733.02,716.40 733.96,716.40 734.90,716.40 735.84,716.40 736.78,716.40 737.72,716.40 738.66,716.40 739.60,716.40 740.54,716.40 741.48,716.40 742.42,716.40 743.36,716.40 744.30,716.40 745.24,716.40 746.18,716.40 747.12,716.40 748.06,716.40 749.00,716.40 749.94,716.40 750.88,716.40 751.82,716.40 752.76,716.40 753.70,716.40 754.64,716.40 755.58,716.40 756.52,716.40 757.46,716.40 758.40,716.40 759.34,716.40 760.28,716.40 761.22,716.40 762.16,716.40 763.10,716.40 764.04,716.40 764.99,716.40 765.93,716.40 766.87,716.40 767.81,716.40 768.75,716.40 769.69,716.40 770.63,716.40 771.57,716.40 772.51,716.40 773.45,716.40 774.39,716.40 775.33,716.40 776.27,716.40 777.21,716.40 778.15,716.40 779.09,716.40 780.03,716.40 780.97,716.40 781.91,716.40 782.85,716.40 783.79,716.40 784.73,716.40 785.67,716.40 786.61,716.40 787.55,716.40 788.49,716.40 789.43,716.40 790.37,716.40 791.31,716.40 792.25,716.40 793.19,716.40 794.13,716.40 795.07,716.40 796.01,716.40 796.95,716.40 797.89,716.40 798.83,716.40 799.77,716.40 800.71,716.40 801.65,716.40 802.60,716.40 803.54,716.40 804.48,716.40 805.42,716.40 806.36,716.40 807.30,716.40 808.24,716.40 809.18,716.40 810.12,716.40 811.06,716.40 812.00,716.40 812.94,716.40 813.88,716.40 814.82,716.40 815.76,716.40 816.70,716.40 817.64,716.40 818.58,716.40 819.52,716.40 820.46,716.40 821.40,716.40" stroke="#000" stroke-width="1.4"/>
<polyline points="69.20,716.40 70.14,713.35 71.08,710.29 72.02,707.22 72.96,704.15 73.90,701.07 74.84,697.98 75.78,694.89 76.72,691.80 77.66,688.70 78.60,685.59 79.54,682.49 80.48,679.38 81.42,676.27 82.36,673.16 83.30,670.04 84.24,666.93 85.18,663.82 86.12,660.71 87.06,657.60 88.01,654.50 88.95,651.40 89.89,648.30 90.83,645.21 91.77,642.12 92.71,639.03 93.65,635.96 94.59,632.89 95.53,629.82 96.47,626.77 97.41,623.72 98.35,620.68 99.29,617.66 100.23,614.64 101.17,611.63 102.11,608.64 103.05,605.66 103.99,602.69 104.93,599.73 105.87,596.79 106.81,593.86 107.75,590.94 108.69,588.05 109.63,585.16 110.57,582.30 111.51,579.45 112.45,576.62 113.39,573.80 114.33,571.01 115.27,568.24 116.21,565.48 117.15,562.74 118.09,560.03 119.03,557.34 119.97,554.66 120.91,552.02 121.85,549.39 122.79,546.78 123.73,544.20 124.67,541.65 125.62,539.12 126.56,536.61 127.50,534.13 128.44,531.67 129.38,529.24 130.32,526.84 131.26,524.46 132.20,522.12 133.14,519.80 134.08,517.50 135.02,515.24 135.96,513.00 136.90,510.80 137.84,508.62 138.78,506.48 139.72,504.36 140.66,502.27 141.60,500.22 142.54,498.20 143.48,496.20 144.42,494.24 145.36,492.32 146.30,490.42 147.24,488.56 148.18,486.73 149.12,484.93 150.06,483.17 151.00,481.43 151.94,479.74 152.88,478.07 153.82,476.45 154.76,474.85 155.70,473.29 156.64,471.77 157.58,470.28 158.52,468.82 159.46,467.40 160.40,466.01 161.34,464.66 162.28,463.35 163.23,462.07 164.17,460.82 165.11,459.62 166.05,458.44 166.99,457.31 167.93,456.21 168.87,455.14 169.81,454.11 170.75,453.12 171.69,452.16 172.63,451.24 173.57,450.35 174.51,449.50 175.45,448.69 176.39,447.91 177.33,447.17 178.27,446.46 179.21,445.79 180.15,445.16 181.09,444.56 182.03,444.00 182.97,443.47 183.91,442.97 184.85,442.51 185.79,442.09 186.73,441.70 187.67,441.35 188.61,441.03 189.55,440.74 190.49,440.49 191.43,440.28 192.37,440.10 193.31,439.95 194.25,439.83 195.19,439.75 196.13,439.70 197.07,439.69 198.01,439.70 198.95,439.75 199.89,439.83 200.84,439.95 201.78,440.09 202.72,440.27 203.66,440.48 204.60,440.72 205.54,440.99 206.48,441.29 207.42,441.62 208.36,441.98 209.30,442.37 210.24,442.79 211.18,443.24 212.12,443.72 213.06,444.23 214.00,444.76 214.94,445.32 215.88,445.91 216.82,446.53 217.76,447.17 218.70,447.84 219.64,448.54 220.58,449.26 221.52,450.01 222.46,450.78 223.40,451.58 224.34,452.40 225.28,453.24 226.22,454.11 227.16,455.00 228.10,455.92 229.04,456.85 229.98,457.81 230.92,458.80 231.86,459.80 232.80,460.82 233.74,461.87 234.68,462.93 235.62,464.02 236.56,465.12 237.50,466.24 238.45,467.38 239.39,468.54 240.33,469.72 241.27,470.92 242.21,472.13 243.15,473.36 244.09,474.60 245.03,475.87 245.97,477.14 246.91,478.44 247.85,479.74 248.79,481.06 249.73,482.40 250.67,483.75 251.61,485.11 252.55,486.49 253.49,487.87 254.43,489.27 255.37,490.68 256.31,492.11 257.25,493.54 258.19,494.98 259.13,496.44 260.07,497.90 261.01,499.38 261.95,500.86 262.89,502.35 263.83,503.85 264.77,505.36 265.71,506.87 266.65,508.39 267.59,509.92 268.53,511.46 269.47,513.00 270.41,514.54 271.35,516.10 272.29,517.65 273.23,519.22 274.17,520.78 275.11,522.35 276.06,523.93 277.00,525.50 277.94,527.09 278.88,528.67 279.82,530.25 280.76,531.84 281.70,533.43 282.64,535.02 283.58,536.61 284.52,538.21 285.46,539.80 286.40,541.39 287.34,542.99 288.28,544.58 289.22,546.17 290.16,547.76 291.10,549.35 292.04,550.94 292.98,552.53 293.92,554.12 294.86,555.70 295.80,557.28 296.74,558.86 297.68,560.43 298.62,562.00 299.56,563.57 300.50,565.13 301.44,566.69 302.38,568.25 303.32,569.80 304.26,571.35 305.20,572.89 306.14,574.42 307.08,575.96 308.02,577.48 308.96,579.00 309.90,580.52 310.84,582.02 311.78,583.53 312.72,585.02 313.67,586.51 314.61,587.99 315.55,589.47 316.49,590.93 317.43,592.39 318.37,593.85 319.31,595.29 320.25,596.73 321.19,598.16 322.13,599.58 323.07,601.00 324.01,602.40 324.95,603.80 325.89,605.19 326.83,606.57 327.77,607.94 328.71,609.30 329.65,610.65 330.59,612.00 331.53,613.33 332.47,614.66 333.41,615.97 334.35,617.28 335.29,618.58 336.23,619.86 337.17,621.14 338.11,622.41 339.05,623.67 339.99,624.91 340.93,626.15 341.87,627.38 342.81,628.60 343.75,629.81 344.69,631.00 345.63,632.19 346.57,633.37 347.51,634.54 348.45,635.69 349.39,636.84 350.33,637.97 351.28,639.10 352.22,640.21 353.16,641.32 354.10,642.41 355.04,643.50 355.98,644.57 356.92,645.63 357.86,646.68 358.80,647.72 359.74,648.75 360.68,649.77 361.62,650.78 362.56,651.78 363.50,652.77 364.44,653.75 365.38,654.72 366.32,655.67 367.26,656.62 368.20,657.56 369.14,658.48 370.08,659.40 371.02,660.30 371.96,661.20 372.90,662.08 373.84,662.95 374.78,663.82 375.72,664.67 376.66,665.52 377.60,666.35 378.54,667.17 379.48,667.98 380.42,668.79 381.36,669.58 382.30,670.36 383.24,671.14 384.18,671.90 385.12,672.66 386.06,673.40 387.00,674.14 387.94,674.86 388.89,675.58 389.83,676.28 390.77,676.98 391.71,677.67 392.65,678.35 393.59,679.01 394.53,679.67 395.47,680.33 396.41,680.97 397.35,681.60 398.29,682.22 399.23,682.84 400.17,683.45 401.11,684.04 402.05,684.63 402.99,685.21 403.93,685.79 404.87,686.35 405.81,686.91 406.75,687.45 407.69,687.99 408.63,688.52 409.57,689.05 410.51,689.56 411.45,690.07 412.39,690.57 413.33,691.06 414.27,691.55 415.21,692.02 416.15,692.49 417.09,692.95 418.03,693.41 418.97,693.86 419.91,694.30 420.85,694.73 421.79,695.16 422.73,695.58 423.67,695.99 424.61,696.39 425.55,696.79 426.50,697.19 427.44,697.57 428.38,697.95 429.32,698.32 430.26,698.69 431.20,699.05 432.14,699.41 433.08,699.75 434.02,700.10 434.96,700.43 435.90,700.76 436.84,701.09 437.78,701.41 438.72,701.72 439.66,702.03 440.60,702.33 441.54,702.63 442.48,702.92 443.42,703.21 444.36,703.49 445.30,703.76 446.24,704.03 447.18,704.30 448.12,704.56 449.06,704.82 450.00,705.07 450.94,705.32 451.88,705.56 452.82,705.80 453.76,706.03 454.70,706.26 455.64,706.48 456.58,706.70 457.52,706.92 458.46,707.13 459.40,707.34 460.34,707.54 461.28,707.74 462.22,707.94 463.16,708.13 464.11,708.32 465.05,708.50 465.99,708.68 466.93,708.86 467.87,709.03 468.81,709.20 469.75,709.37 470.69,709.53 471.63,709.69 472.57,709.85 473.51,710.00 474.45,710.15 475.39,710.30 476.33,710.44 477.27,710.58 478.21,710.72 479.15,710.86 480.09,710.99 481.03,711.12 481.97,711.24 482.91,711.37 483.85,711.49 484.79,711.61 485.73,711.73 486.67,711.84 487.61,711.95 488.55,712.06 489.49,712.17 490.43,712.27 491.37,712.37 492.31,712.47 493.25,712.57 494.19,712.66 495.13,712.76 496.07,712.85 497.01,712.94 497.95,713.02 498.89,713.11 499.83,713.19 500.77,713.27 501.72,713.35 502.66,713.43 503.60,713.51 504.54,713.58 505.48,713.65 506.42,713.72 507.36,713.79 508.30,713.86 509.24,713.93 510.18,713.99 511.12,714.05 512.06,714.11 513.00,714.17 513.94,714.23 514.88,714.29 515.82,714.34 516.76,714.40 517.70,714.45 518.64,714.50 519.58,714.55 520.52,714.60 521.46,714.65 522.40,714.70 523.34,714.74 524.28,714.79 525.22,714.83 526.16,714.88 527.10,714.92 528.04,714.96 528.98,715.00 529.92,715.03 530.86,715.07 531.80,715.11 532.74,715.14 533.68,715.18 534.62,715.21 535.56,715.25 536.50,715.28 537.44,715.31 538.38,715.34 539.33,715.37 540.27,715.40 541.21,715.43 542.15,715.45 543.09,715.48 544.03,715.51 544.97,715.53 545.91,715.56 546.85,715.58 547.79,715.60 548.73,715.63 549.67,715.65 550.61,715.67 551.55,715.69 552.49,715.71 553.43,715.73 554.37,715.75 555.31,715.77 556.25,715.79 557.19,715.81 558.13,715.82 559.07,715.84 560.01,715.86 560.95,715.87 561.89,715.89 562.83,715.90 563.77,715.92 564.71,715.93 565.65,715.95 566.59,715.96 567.53,715.97 568.47,715.99 569.41,716.00 570.35,716.01 571.29,716.02 572.23,716.03 573.17,716.05 574.11,716.06 575.05,716.07 575.99,716.08 576.94,716.09 577.88,716.10 578.82,716.11 579.76,716.11 580.70,716.12 581.64,716.13 582.58,716.14 583.52,716.15 584.46,716.16 585.40,716.16 586.34,716.17 587.28,716.18 588.22,716.19 589.16,716.19 590.10,716.20 591.04,716.20 591.98,716.21 592.92,716.22 593.86,716.22 594.80,716.23 595.74,716.23 596.68,716.24 597.62,716.24 598.56,716.25 599.50,716.25 600.44,716.26 601.38,716.26 602.32,716.27 603.26,716.27 604.20,716.28 605.14,716.28 606.08,716.28 607.02,716.29 607.96,716.29 608.90,716.30 609.84,716.30 610.78,716.30 611.72,716.31 612.66,716.31 613.60,716.31 614.55,716.31 615.49,716.32 616.43,716.32 617.37,716.32 618.31,716.33 619.25,716.33 620.19,716.33 621.13,716.33 622.07,716.33 623.01,716.34 623.95,716.34 624.89,716.34 625.83,716.34 626.77,716.35 627.71,716.35 628.65,716.35 629.59,716.35 630.53,716.35 631.47,716.35 632.41,716.36 633.35,716.36 634.29,716.36 635.23,716.36 636.17,716.36 637.11,716.36 638.05,716.36 638.99,716.37 639.93,716.37 640.87,716.37 641.81,716.37 642.75,716.37 643.69,716.37 644.63,716.37 645.57,716.37 646.51,716.37 647.45,716.37 648.39,716.38 649.33,716.38 650.27,716.38 651.21,716.38 652.16,716.38 653.10,716.38 654.04,716.38 654.98,716.38 655.92,716.38 656.86,716.38 657.80,716.38 658.74,716.38 659.68,716.38 660.62,716.38 661.56,716.39 662.50,716.39 663.44,716.39 664.38,716.39 665.32,716.39 666.26,716.39 667.20,716.39 668.14,716.39 669.08,716.39 670.02,716.39 670.96,716.39 671.90,716.39 672.84,716.39 673.78,716.39 674.72,716.39 675.66,716.39 676.60,716.39 677.54,716.39 678.48,716.39 679.42,716.39 680.36,716.39 681.30,716.39 682.24,716.39 683.18,716.39 684.12,716.39 685.06,716.39 686.00,716.39 686.94,716.39 687.88,716.39 688.82,716.40 689.77,716.40 690.71,716.40 691.65,716.40 692.59,716.40 693.53,716.40 694.47,716.40 695.41,716.40 696.35,716.40 697.29,716.40 698.23,716.40 699.17,716.40 700.11,716.40 701.05,716.40 701.99,716.40 702.93,716.40 703.87,716.40 704.81,716.40 705.75,716.40 706.69,716.40 707.63,716.40 708.57,716.40 709.51,716.40 710.45,716.40 711.39,716.40 712.33,716.40 713.27,716.40 714.21,716.40 715.15,716.40 716.09,716.40 717.03,716.40 717.97,716.40 718.91,716.40 719.85,716.40 720.79,716.40 721.73,716.40 722.67,716.40 723.61,716.40 724.55,716.40 725.49,716.40 726.43,716.40 727.38,716.40 728.32,716.40 729.26,716.40 730.20,716.40 731.14,716.40 732.08,716.40 733.02,716.40 733.96,716.40 734.90,716.40 735.84,716.40 736.78,716.40 737.72,716.40 738.66,716.40 739.60,716.40 740.54,716.40 741.48,716.40 742.42,716.40 743.36,716.40 744.30,716.40 745.24,716.40 746.18,716.40 747.12,716.40 748.06,716.40 749.00,716.40 749.94,716.40 750.88,716.40 751.82,716.40 752.76,716.40 753.70,716.40 754.64,716.40 755.58,716.40 756.52,716.40 757.46,716.40 758.40,716.40 759.34,716.40 760.28,716.40 761.22,716.40 762.16,716.40 763.10,716.40 764.04,716.40 764.99,716.40 765.93,716.40 766.87,716.40 767.81,716.40 768.75,716.40 769.69,716.40 770.63,716.40 771.57,716.40 772.51,716.40 773.45,716.40 774.39,716.40 775.33,716.40 776.27,716.40 777.21,716.40 778.15,716.40 779.09,716.40 780.03,716.40 780.97,716.40 781.91,716.40 782.85,716.40 783.79,716.40 784.73,716.40 785.67,716.40 786.61,716.40 787.55,716.40 788.49,716.40 789.43,716.40 790.37,716.40 791.31,716.40 792.25,716.40 793.19,716.40 794.13,716.40 795.07,716.40 796.01,716.40 796.95,716.40 797.89,716.40 798.83,716.40 799.77,716.40 800.71,716.40 801.65,716.40 802.60,716.40 803.54,716.40 804.48,716.40 805.42,716.40 806.36,716.40 807.30,716.40 808.24,716.40 809.18,716.40 810.12,716.40 811.06,716.40 812.00,716.40 812.94,716.40 813.88,716.40 814.82,716.40 815.76,716.40 816.70,716.40 817.64,716.40 818.58,716.40 819.52,716.40 820.46,716.40 821.40,716.40" stroke="#000" stroke-width="2.8" stroke-dasharray="2.4 15.35" stroke-dashoffset="-7.55"/>
<polyline points="69.20,716.40 70.14,714.47 71.08,712.54 72.02,710.61 72.96,708.69 73.90,706.76 74.84,704.84 75.78,702.92 76.72,701.00 77.66,699.08 78.60,697.17 79.54,695.25 80.48,693.34 81.42,691.44 82.36,689.53 83.30,687.63 84.24,685.73 85.18,683.83 86.12,681.94 87.06,680.04 88.01,678.15 88.95,676.27 89.89,674.39 90.83,672.51 91.77,670.63 92.71,668.76 93.65,666.89 94.59,665.02 95.53,663.16 96.47,661.30 97.41,659.44 98.35,657.59 99.29,655.74 100.23,653.90 101.17,652.06 102.11,650.22 103.05,648.39 103.99,646.56 104.93,644.74 105.87,642.92 106.81,641.11 107.75,639.30 108.69,637.49 109.63,635.69 110.57,633.90 111.51,632.11 112.45,630.32 113.39,628.54 114.33,626.77 115.27,625.00 116.21,623.23 117.15,621.47 118.09,619.72 119.03,617.97 119.97,616.22 120.91,614.49 121.85,612.75 122.79,611.03 123.73,609.31 124.67,607.59 125.62,605.88 126.56,604.18 127.50,602.48 128.44,600.79 129.38,599.11 130.32,597.43 131.26,595.76 132.20,594.09 133.14,592.43 134.08,590.78 135.02,589.13 135.96,587.49 136.90,585.86 137.84,584.24 138.78,582.62 139.72,581.00 140.66,579.40 141.60,577.80 142.54,576.21 143.48,574.63 144.42,573.05 145.36,571.48 146.30,569.92 147.24,568.36 148.18,566.82 149.12,565.28 150.06,563.75 151.00,562.22 151.94,560.70 152.88,559.19 153.82,557.69 154.76,556.20 155.70,554.71 156.64,553.24 157.58,551.77 158.52,550.31 159.46,548.85 160.40,547.41 161.34,545.97 162.28,544.54 163.23,543.12 164.17,541.71 165.11,540.31 166.05,538.91 166.99,537.53 167.93,536.15 168.87,534.78 169.81,533.42 170.75,532.07 171.69,530.72 172.63,529.39 173.57,528.06 174.51,526.75 175.45,525.44 176.39,524.14 177.33,522.85 178.27,521.57 179.21,520.30 180.15,519.03 181.09,517.78 182.03,516.54 182.97,515.30 183.91,514.08 184.85,512.86 185.79,511.65 186.73,510.46 187.67,509.27 188.61,508.09 189.55,506.92 190.49,505.76 191.43,504.61 192.37,503.47 193.31,502.34 194.25,501.22 195.19,500.11 196.13,499.00 197.07,497.91 198.01,496.83 198.95,495.76 199.89,494.69 200.84,493.64 201.78,492.60 202.72,491.57 203.66,490.54 204.60,489.53 205.54,488.53 206.48,487.53 207.42,486.55 208.36,485.58 209.30,484.61 210.24,483.66 211.18,482.72 212.12,481.78 213.06,480.86 214.00,479.95 214.94,479.05 215.88,478.15 216.82,477.27 217.76,476.40 218.70,475.54 219.64,474.69 220.58,473.85 221.52,473.02 222.46,472.20 223.40,471.39 224.34,470.59 225.28,469.80 226.22,469.02 227.16,468.25 228.10,467.49 229.04,466.74 229.98,466.00 230.92,465.28 231.86,464.56 232.80,463.85 233.74,463.15 234.68,462.47 235.62,461.79 236.56,461.13 237.50,460.47 238.45,459.83 239.39,459.19 240.33,458.57 241.27,457.96 242.21,457.35 243.15,456.76 244.09,456.18 245.03,455.60 245.97,455.04 246.91,454.49 247.85,453.95 248.79,453.42 249.73,452.90 250.67,452.39 251.61,451.89 252.55,451.40 253.49,450.92 254.43,450.45 255.37,449.99 256.31,449.54 257.25,449.11 258.19,448.68 259.13,448.26 260.07,447.85 261.01,447.45 261.95,447.07 262.89,446.69 263.83,446.32 264.77,445.97 265.71,445.62 266.65,445.28 267.59,444.96 268.53,444.64 269.47,444.33 270.41,444.04 271.35,443.75 272.29,443.48 273.23,443.21 274.17,442.95 275.11,442.71 276.06,442.47 277.00,442.24 277.94,442.03 278.88,441.82 279.82,441.62 280.76,441.43 281.70,441.26 282.64,441.09 283.58,440.93 284.52,440.78 285.46,440.64 286.40,440.51 287.34,440.39 288.28,440.28 289.22,440.18 290.16,440.09 291.10,440.01 292.04,439.93 292.98,439.87 293.92,439.82 294.86,439.77 295.80,439.74 296.74,439.71 297.68,439.69 298.62,439.69 299.56,439.69 300.50,439.70 301.44,439.72 302.38,439.75 303.32,439.78 304.26,439.83 305.20,439.89 306.14,439.95 307.08,440.02 308.02,440.11 308.96,440.20 309.90,440.30 310.84,440.40 311.78,440.52 312.72,440.65 313.67,440.78 314.61,440.92 315.55,441.07 316.49,441.23 317.43,441.40 318.37,441.58 319.31,441.76 320.25,441.95 321.19,442.15 322.13,442.36 323.07,442.58 324.01,442.81 324.95,443.04 325.89,443.28 326.83,443.53 327.77,443.79 328.71,444.05 329.65,444.32 330.59,444.60 331.53,444.89 332.47,445.19 333.41,445.49 334.35,445.80 335.29,446.12 336.23,446.45 337.17,446.78 338.11,447.12 339.05,447.47 339.99,447.82 340.93,448.19 341.87,448.55 342.81,448.93 343.75,449.31 344.69,449.71 345.63,450.10 346.57,450.51 347.51,450.92 348.45,451.34 349.39,451.76 350.33,452.19 351.28,452.63 352.22,453.08 353.16,453.53 354.10,453.98 355.04,454.45 355.98,454.92 356.92,455.40 357.86,455.88 358.80,456.37 359.74,456.86 360.68,457.37 361.62,457.87 362.56,458.39 363.50,458.91 364.44,459.43 365.38,459.96 366.32,460.50 367.26,461.04 368.20,461.59 369.14,462.14 370.08,462.70 371.02,463.27 371.96,463.84 372.90,464.41 373.84,464.99 374.78,465.58 375.72,466.17 376.66,466.77 377.60,467.37 378.54,467.98 379.48,468.59 380.42,469.20 381.36,469.82 382.30,470.45 383.24,471.08 384.18,471.72 385.12,472.36 386.06,473.00 387.00,473.65 387.94,474.31 388.89,474.96 389.83,475.63 390.77,476.29 391.71,476.96 392.65,477.64 393.59,478.32 394.53,479.00 395.47,479.69 396.41,480.38 397.35,481.08 398.29,481.78 399.23,482.48 400.17,483.18 401.11,483.90 402.05,484.61 402.99,485.33 403.93,486.05 404.87,486.77 405.81,487.50 406.75,488.23 407.69,488.97 408.63,489.70 409.57,490.45 410.51,491.19 411.45,491.94 412.39,492.69 413.33,493.44 414.27,494.20 415.21,494.95 416.15,495.72 417.09,496.48 418.03,497.25 418.97,498.02 419.91,498.79 420.85,499.57 421.79,500.34 422.73,501.12 423.67,501.90 424.61,502.69 425.55,503.48 426.50,504.26 427.44,505.06 428.38,505.85 429.32,506.64 430.26,507.44 431.20,508.24 432.14,509.04 433.08,509.84 434.02,510.65 434.96,511.46 435.90,512.26 436.84,513.07 437.78,513.88 438.72,514.70 439.66,515.51 440.60,516.33 441.54,517.14 442.48,517.96 443.42,518.78 444.36,519.60 445.30,520.43 446.24,521.25 447.18,522.07 448.12,522.90 449.06,523.73 450.00,524.55 450.94,525.38 451.88,526.21 452.82,527.04 453.76,527.87 454.70,528.70 455.64,529.54 456.58,530.37 457.52,531.20 458.46,532.04 459.40,532.87 460.34,533.71 461.28,534.54 462.22,535.38 463.16,536.21 464.11,537.05 465.05,537.89 465.99,538.72 466.93,539.56 467.87,540.40 468.81,541.23 469.75,542.07 470.69,542.91 471.63,543.74 472.57,544.58 473.51,545.42 474.45,546.25 475.39,547.09 476.33,547.93 477.27,548.76 478.21,549.60 479.15,550.43 480.09,551.26 481.03,552.10 481.97,552.93 482.91,553.76 483.85,554.60 484.79,555.43 485.73,556.26 486.67,557.09 487.61,557.92 488.55,558.75 489.49,559.58 490.43,560.40 491.37,561.23 492.31,562.05 493.25,562.88 494.19,563.70 495.13,564.52 496.07,565.35 497.01,566.17 497.95,566.99 498.89,567.80 499.83,568.62 500.77,569.44 501.72,570.25 502.66,571.06 503.60,571.87 504.54,572.69 505.48,573.49 506.42,574.30 507.36,575.11 508.30,575.91 509.24,576.72 510.18,577.52 511.12,578.32 512.06,579.12 513.00,579.91 513.94,580.71 514.88,581.50 515.82,582.29 516.76,583.08 517.70,583.87 518.64,584.66 519.58,585.45 520.52,586.23 521.46,587.01 522.40,587.79 523.34,588.57 524.28,589.34 525.22,590.12 526.16,590.89 527.10,591.66 528.04,592.43 528.98,593.19 529.92,593.96 530.86,594.72 531.80,595.48 532.74,596.23 533.68,596.99 534.62,597.74 535.56,598.49 536.50,599.24 537.44,599.99 538.38,600.73 539.33,601.47 540.27,602.21 541.21,602.95 542.15,603.69 543.09,604.42 544.03,605.15 544.97,605.88 545.91,606.60 546.85,607.33 547.79,608.05 548.73,608.77 549.67,609.48 550.61,610.20 551.55,610.91 552.49,611.62 553.43,612.32 554.37,613.02 555.31,613.73 556.25,614.42 557.19,615.12 558.13,615.81 559.07,616.50 560.01,617.19 560.95,617.88 561.89,618.56 562.83,619.24 563.77,619.92 564.71,620.59 565.65,621.26 566.59,621.93 567.53,622.60 568.47,623.26 569.41,623.93 570.35,624.58 571.29,625.24 572.23,625.89 573.17,626.54 574.11,627.19 575.05,627.84 575.99,628.48 576.94,629.12 577.88,629.75 578.82,630.39 579.76,631.02 580.70,631.65 581.64,632.27 582.58,632.89 583.52,633.51 584.46,634.13 585.40,634.74 586.34,635.35 587.28,635.96 588.22,636.57 589.16,637.17 590.10,637.77 591.04,638.37 591.98,638.96 592.92,639.55 593.86,640.14 594.80,640.72 595.74,641.31 596.68,641.89 597.62,642.46 598.56,643.04 599.50,643.61 600.44,644.17 601.38,644.74 602.32,645.30 603.26,645.86 604.20,646.41 605.14,646.97 606.08,647.52 607.02,648.06 607.96,648.61 608.90,649.15 609.84,649.69 610.78,650.22 611.72,650.76 612.66,651.29 613.60,651.81 614.55,652.34 615.49,652.86 616.43,653.38 617.37,653.89 618.31,654.40 619.25,654.91 620.19,655.42 621.13,655.92 622.07,656.42 623.01,656.92 623.95,657.42 624.89,657.91 625.83,658.40 626.77,658.88 627.71,659.37 628.65,659.85 629.59,660.33 630.53,660.80 631.47,661.27 632.41,661.74 633.35,662.21 634.29,662.67 635.23,663.13 636.17,663.59 637.11,664.04 638.05,664.50 638.99,664.94 639.93,665.39 640.87,665.83 641.81,666.27 642.75,666.71 643.69,667.15 644.63,667.58 645.57,668.01 646.51,668.44 647.45,668.86 648.39,669.28 649.33,669.70 650.27,670.12 651.21,670.53 652.16,670.94 653.10,671.35 654.04,671.75 654.98,672.15 655.92,672.55 656.86,672.95 657.80,673.34 658.74,673.73 659.68,674.12 660.62,674.51 661.56,674.89 662.50,675.27 663.44,675.65 664.38,676.03 665.32,676.40 666.26,676.77 667.20,677.14 668.14,677.50 669.08,677.86 670.02,678.22 670.96,678.58 671.90,678.93 672.84,679.29 673.78,679.64 674.72,679.98 675.66,680.33 676.60,680.67 677.54,681.01 678.48,681.35 679.42,681.68 680.36,682.01 681.30,682.34 682.24,682.67 683.18,682.99 684.12,683.32 685.06,683.64 686.00,683.95 686.94,684.27 687.88,684.58 688.82,684.89 689.77,685.20 690.71,685.50 691.65,685.81 692.59,686.11 693.53,686.40 694.47,686.70 695.41,686.99 696.35,687.29 697.29,687.57 698.23,687.86 699.17,688.15 700.11,688.43 701.05,688.71 701.99,688.99 702.93,689.26 703.87,689.54 704.81,689.81 705.75,690.08 706.69,690.34 707.63,690.61 708.57,690.87 709.51,691.13 710.45,691.39 711.39,691.64 712.33,691.90 713.27,692.15 714.21,692.40 715.15,692.65 716.09,692.89 717.03,693.14 717.97,693.38 718.91,693.62 719.85,693.85 720.79,694.09 721.73,694.32 722.67,694.55 723.61,694.78 724.55,695.01 725.49,695.24 726.43,695.46 727.38,695.68 728.32,695.90 729.26,696.12 730.20,696.33 731.14,696.55 732.08,696.76 733.02,696.97 733.96,697.18 734.90,697.39 735.84,697.59 736.78,697.79 737.72,697.99 738.66,698.19 739.60,698.39 740.54,698.59 741.48,698.78 742.42,698.97 743.36,699.16 744.30,699.35 745.24,699.54 746.18,699.72 747.12,699.91 748.06,700.09 749.00,700.27 749.94,700.45 750.88,700.63 751.82,700.80 752.76,700.97 753.70,701.15 754.64,701.32 755.58,701.49 756.52,701.65 757.46,701.82 758.40,701.98 759.34,702.15 760.28,702.31 761.22,702.47 762.16,702.62 763.10,702.78 764.04,702.94 764.99,703.09 765.93,703.24 766.87,703.39 767.81,703.54 768.75,703.69 769.69,703.83 770.63,703.98 771.57,704.12 772.51,704.26 773.45,704.40 774.39,704.54 775.33,704.68 776.27,704.82 777.21,704.95 778.15,705.09 779.09,705.22 780.03,705.35 780.97,705.48 781.91,705.61 782.85,705.73 783.79,705.86 784.73,705.99 785.67,706.11 786.61,706.23 787.55,706.35 788.49,706.47 789.43,706.59 790.37,706.71 791.31,706.82 792.25,706.94 793.19,707.05 794.13,707.16 795.07,707.27 796.01,707.38 796.95,707.49 797.89,707.60 798.83,707.71 799.77,707.81 800.71,707.92 801.65,708.02 802.60,708.12 803.54,708.22 804.48,708.32 805.42,708.42 806.36,708.52 807.30,708.62 808.24,708.71 809.18,708.81 810.12,708.90 811.06,709.00 812.00,709.09 812.94,709.18 813.88,709.27 814.82,709.36 815.76,709.45 816.70,709.53 817.64,709.62 818.58,709.70 819.52,709.79 820.46,709.87 821.40,709.95" stroke="#ff0000" stroke-width="1.4"/>
<polyline points="69.20,716.40 70.14,714.73 71.08,713.05 72.02,711.38 72.96,709.70 73.90,708.02 74.84,706.35 75.78,704.67 76.72,702.99 77.66,701.31 78.60,699.63 79.54,697.95 80.48,696.27 81.42,694.59 82.36,692.90 83.30,691.22 84.24,689.54 85.18,687.86 86.12,686.18 87.06,684.50 88.01,682.82 88.95,681.14 89.89,679.46 90.83,677.78 91.77,676.10 92.71,674.42 93.65,672.75 94.59,671.07 95.53,669.40 96.47,667.72 97.41,666.05 98.35,664.38 99.29,662.71 100.23,661.04 101.17,659.37 102.11,657.71 103.05,656.05 103.99,654.38 104.93,652.72 105.87,651.06 106.81,649.41 107.75,647.75 108.69,646.10 109.63,644.45 110.57,642.80 111.51,641.16 112.45,639.52 113.39,637.88 114.33,636.24 115.27,634.60 116.21,632.97 117.15,631.34 118.09,629.71 119.03,628.09 119.97,626.47 120.91,624.85 121.85,623.24 122.79,621.63 123.73,620.02 124.67,618.42 125.62,616.82 126.56,615.22 127.50,613.63 128.44,612.04 129.38,610.45 130.32,608.87 131.26,607.29 132.20,605.72 133.14,604.15 134.08,602.59 135.02,601.02 135.96,599.47 136.90,597.92 137.84,596.37 138.78,594.83 139.72,593.29 140.66,591.75 141.60,590.22 142.54,588.70 143.48,587.18 144.42,585.67 145.36,584.16 146.30,582.65 147.24,581.16 148.18,579.66 149.12,578.17 150.06,576.69 151.00,575.21 151.94,573.74 152.88,572.28 153.82,570.81 154.76,569.36 155.70,567.91 156.64,566.47 157.58,565.03 158.52,563.60 159.46,562.17 160.40,560.76 161.34,559.34 162.28,557.94 163.23,556.54 164.17,555.14 165.11,553.75 166.05,552.37 166.99,551.00 167.93,549.63 168.87,548.27 169.81,546.91 170.75,545.57 171.69,544.22 172.63,542.89 173.57,541.56 174.51,540.24 175.45,538.93 176.39,537.62 177.33,536.32 178.27,535.03 179.21,533.75 180.15,532.47 181.09,531.20 182.03,529.94 182.97,528.68 183.91,527.43 184.85,526.19 185.79,524.96 186.73,523.74 187.67,522.52 188.61,521.31 189.55,520.11 190.49,518.91 191.43,517.73 192.37,516.55 193.31,515.38 194.25,514.22 195.19,513.06 196.13,511.92 197.07,510.78 198.01,509.65 198.95,508.53 199.89,507.42 200.84,506.31 201.78,505.21 202.72,504.13 203.66,503.05 204.60,501.97 205.54,500.91 206.48,499.86 207.42,498.81 208.36,497.77 209.30,496.75 210.24,495.73 211.18,494.71 212.12,493.71 213.06,492.72 214.00,491.73 214.94,490.76 215.88,489.79 216.82,488.83 217.76,487.88 218.70,486.94 219.64,486.01 220.58,485.08 221.52,484.17 222.46,483.26 223.40,482.37 224.34,481.48 225.28,480.60 226.22,479.73 227.16,478.87 228.10,478.02 229.04,477.18 229.98,476.35 230.92,475.53 231.86,474.71 232.80,473.91 233.74,473.11 234.68,472.33 235.62,471.55 236.56,470.78 237.50,470.03 238.45,469.28 239.39,468.54 240.33,467.81 241.27,467.09 242.21,466.37 243.15,465.67 244.09,464.98 245.03,464.30 245.97,463.62 246.91,462.96 247.85,462.30 248.79,461.66 249.73,461.02 250.67,460.40 251.61,459.78 252.55,459.17 253.49,458.57 254.43,457.98 255.37,457.40 256.31,456.83 257.25,456.27 258.19,455.72 259.13,455.18 260.07,454.65 261.01,454.13 261.95,453.61 262.89,453.11 263.83,452.62 264.77,452.13 265.71,451.66 266.65,451.19 267.59,450.74 268.53,450.29 269.47,449.85 270.41,449.42 271.35,449.00 272.29,448.60 273.23,448.20 274.17,447.81 275.11,447.42 276.06,447.05 277.00,446.69 277.94,446.34 278.88,445.99 279.82,445.66 280.76,445.34 281.70,445.02 282.64,444.71 283.58,444.42 284.52,444.13 285.46,443.85 286.40,443.58 287.34,443.32 288.28,443.07 289.22,442.83 290.16,442.60 291.10,442.37 292.04,442.16 292.98,441.95 293.92,441.76 294.86,441.57 295.80,441.39 296.74,441.22 297.68,441.06 298.62,440.91 299.56,440.77 300.50,440.63 301.44,440.51 302.38,440.39 303.32,440.29 304.26,440.19 305.20,440.10 306.14,440.02 307.08,439.95 308.02,439.89 308.96,439.83 309.90,439.79 310.84,439.75 311.78,439.72 312.72,439.70 313.67,439.69 314.61,439.69 315.55,439.69 316.49,439.71 317.43,439.73 318.37,439.76 319.31,439.80 320.25,439.84 321.19,439.90 322.13,439.96 323.07,440.04 324.01,440.12 324.95,440.21 325.89,440.30 326.83,440.41 327.77,440.52 328.71,440.64 329.65,440.77 330.59,440.90 331.53,441.05 332.47,441.20 333.41,441.36 334.35,441.53 335.29,441.70 336.23,441.89 337.17,442.08 338.11,442.27 339.05,442.48 339.99,442.69 340.93,442.91 341.87,443.14 342.81,443.38 343.75,443.62 344.69,443.87 345.63,444.13 346.57,444.39 347.51,444.67 348.45,444.94 349.39,445.23 350.33,445.52 351.28,445.82 352.22,446.13 353.16,446.45 354.10,446.77 355.04,447.09 355.98,447.43 356.92,447.77 357.86,448.12 358.80,448.47 359.74,448.83 360.68,449.20 361.62,449.58 362.56,449.96 363.50,450.34 364.44,450.74 365.38,451.14 366.32,451.54 367.26,451.95 368.20,452.37 369.14,452.80 370.08,453.23 371.02,453.66 371.96,454.11 372.90,454.56 373.84,455.01 374.78,455.47 375.72,455.94 376.66,456.41 377.60,456.89 378.54,457.37 379.48,457.86 380.42,458.35 381.36,458.85 382.30,459.36 383.24,459.87 384.18,460.38 385.12,460.90 386.06,461.43 387.00,461.96 387.94,462.50 388.89,463.04 389.83,463.59 390.77,464.14 391.71,464.69 392.65,465.26 393.59,465.82 394.53,466.39 395.47,466.97 396.41,467.55 397.35,468.13 398.29,468.72 399.23,469.32 400.17,469.92 401.11,470.52 402.05,471.13 402.99,471.74 403.93,472.36 404.87,472.98 405.81,473.60 406.75,474.23 407.69,474.86 408.63,475.50 409.57,476.14 410.51,476.78 411.45,477.43 412.39,478.08 413.33,478.74 414.27,479.40 415.21,480.06 416.15,480.73 417.09,481.40 418.03,482.07 418.97,482.75 419.91,483.43 420.85,484.12 421.79,484.80 422.73,485.50 423.67,486.19 424.61,486.89 425.55,487.59 426.50,488.29 427.44,489.00 428.38,489.71 429.32,490.42 430.26,491.13 431.20,491.85 432.14,492.57 433.08,493.29 434.02,494.02 434.96,494.75 435.90,495.48 436.84,496.21 437.78,496.95 438.72,497.69 439.66,498.43 440.60,499.17 441.54,499.92 442.48,500.66 443.42,501.41 444.36,502.17 445.30,502.92 446.24,503.68 447.18,504.43 448.12,505.19 449.06,505.96 450.00,506.72 450.94,507.49 451.88,508.25 452.82,509.02 453.76,509.79 454.70,510.56 455.64,511.34 456.58,512.11 457.52,512.89 458.46,513.67 459.40,514.45 460.34,515.23 461.28,516.01 462.22,516.79 463.16,517.58 464.11,518.36 465.05,519.15 465.99,519.94 466.93,520.73 467.87,521.52 468.81,522.31 469.75,523.10 470.69,523.89 471.63,524.69 472.57,525.48 473.51,526.28 474.45,527.07 475.39,527.87 476.33,528.67 477.27,529.46 478.21,530.26 479.15,531.06 480.09,531.86 481.03,532.66 481.97,533.46 482.91,534.26 483.85,535.06 484.79,535.86 485.73,536.66 486.67,537.46 487.61,538.26 488.55,539.07 489.49,539.87 490.43,540.67 491.37,541.47 492.31,542.27 493.25,543.07 494.19,543.87 495.13,544.67 496.07,545.48 497.01,546.28 497.95,547.08 498.89,547.88 499.83,548.68 500.77,549.48 501.72,550.27 502.66,551.07 503.60,551.87 504.54,552.67 505.48,553.46 506.42,554.26 507.36,555.06 508.30,555.85 509.24,556.65 510.18,557.44 511.12,558.23 512.06,559.02 513.00,559.82 513.94,560.61 514.88,561.40 515.82,562.19 516.76,562.97 517.70,563.76 518.64,564.55 519.58,565.33 520.52,566.11 521.46,566.90 522.40,567.68 523.34,568.46 524.28,569.24 525.22,570.02 526.16,570.79 527.10,571.57 528.04,572.34 528.98,573.12 529.92,573.89 530.86,574.66 531.80,575.43 532.74,576.20 533.68,576.96 534.62,577.73 535.56,578.49 536.50,579.25 537.44,580.01 538.38,580.77 539.33,581.53 540.27,582.29 541.21,583.04 542.15,583.79 543.09,584.54 544.03,585.29 544.97,586.04 545.91,586.79 546.85,587.53 547.79,588.27 548.73,589.01 549.67,589.75 550.61,590.49 551.55,591.22 552.49,591.96 553.43,592.69 554.37,593.42 555.31,594.14 556.25,594.87 557.19,595.59 558.13,596.32 559.07,597.03 560.01,597.75 560.95,598.47 561.89,599.18 562.83,599.89 563.77,600.60 564.71,601.31 565.65,602.01 566.59,602.72 567.53,603.42 568.47,604.12 569.41,604.81 570.35,605.51 571.29,606.20 572.23,606.89 573.17,607.58 574.11,608.26 575.05,608.95 575.99,609.63 576.94,610.30 577.88,610.98 578.82,611.66 579.76,612.33 580.70,613.00 581.64,613.66 582.58,614.33 583.52,614.99 584.46,615.65 585.40,616.31 586.34,616.96 587.28,617.61 588.22,618.26 589.16,618.91 590.10,619.56 591.04,620.20 591.98,620.84 592.92,621.48 593.86,622.11 594.80,622.75 595.74,623.38 596.68,624.01 597.62,624.63 598.56,625.25 599.50,625.87 600.44,626.49 601.38,627.11 602.32,627.72 603.26,628.33 604.20,628.94 605.14,629.54 606.08,630.15 607.02,630.75 607.96,631.34 608.90,631.94 609.84,632.53 610.78,633.12 611.72,633.71 612.66,634.29 613.60,634.87 614.55,635.45 615.49,636.03 616.43,636.60 617.37,637.17 618.31,637.74 619.25,638.31 620.19,638.87 621.13,639.43 622.07,639.99 623.01,640.55 623.95,641.10 624.89,641.65 625.83,642.20 626.77,642.74 627.71,643.29 628.65,643.82 629.59,644.36 630.53,644.90 631.47,645.43 632.41,645.96 633.35,646.48 634.29,647.01 635.23,647.53 636.17,648.05 637.11,648.56 638.05,649.08 638.99,649.59 639.93,650.09 640.87,650.60 641.81,651.10 642.75,651.60 643.69,652.10 644.63,652.59 645.57,653.08 646.51,653.57 647.45,654.06 648.39,654.54 649.33,655.03 650.27,655.50 651.21,655.98 652.16,656.45 653.10,656.92 654.04,657.39 654.98,657.86 655.92,658.32 656.86,658.78 657.80,659.24 658.74,659.69 659.68,660.15 660.62,660.60 661.56,661.04 662.50,661.49 663.44,661.93 664.38,662.37 665.32,662.81 666.26,663.24 667.20,663.67 668.14,664.10 669.08,664.53 670.02,664.95 670.96,665.38 671.90,665.79 672.84,666.21 673.78,666.62 674.72,667.04 675.66,667.45 676.60,667.85 677.54,668.26 678.48,668.66 679.42,669.06 680.36,669.45 681.30,669.85 682.24,670.24 683.18,670.63 684.12,671.01 685.06,671.40 686.00,671.78 686.94,672.16 687.88,672.54 688.82,672.91 689.77,673.28 690.71,673.65 691.65,674.02 692.59,674.38 693.53,674.75 694.47,675.11 695.41,675.46 696.35,675.82 697.29,676.17 698.23,676.52 699.17,676.87 700.11,677.22 701.05,677.56 701.99,677.90 702.93,678.24 703.87,678.58 704.81,678.91 705.75,679.24 706.69,679.57 707.63,679.90 708.57,680.22 709.51,680.55 710.45,680.87 711.39,681.18 712.33,681.50 713.27,681.81 714.21,682.13 715.15,682.44 716.09,682.74 717.03,683.05 717.97,683.35 718.91,683.65 719.85,683.95 720.79,684.25 721.73,684.54 722.67,684.83 723.61,685.12 724.55,685.41 725.49,685.70 726.43,685.98 727.38,686.26 728.32,686.54 729.26,686.82 730.20,687.09 731.14,687.37 732.08,687.64 733.02,687.91 733.96,688.18 734.90,688.44 735.84,688.70 736.78,688.96 737.72,689.22 738.66,689.48 739.60,689.74 740.54,689.99 741.48,690.24 742.42,690.49 743.36,690.74 744.30,690.98 745.24,691.23 746.18,691.47 747.12,691.71 748.06,691.95 749.00,692.18 749.94,692.42 750.88,692.65 751.82,692.88 752.76,693.11 753.70,693.34 754.64,693.56 755.58,693.78 756.52,694.01 757.46,694.23 758.40,694.44 759.34,694.66 760.28,694.87 761.22,695.09 762.16,695.30 763.10,695.51 764.04,695.71 764.99,695.92 765.93,696.12 766.87,696.33 767.81,696.53 768.75,696.73 769.69,696.92 770.63,697.12 771.57,697.31 772.51,697.51 773.45,697.70 774.39,697.89 775.33,698.07 776.27,698.26 777.21,698.45 778.15,698.63 779.09,698.81 780.03,698.99 780.97,699.17 781.91,699.34 782.85,699.52 783.79,699.69 784.73,699.87 785.67,700.04 786.61,700.21 787.55,700.37 788.49,700.54 789.43,700.71 790.37,700.87 791.31,701.03 792.25,701.19 793.19,701.35 794.13,701.51 795.07,701.66 796.01,701.82 796.95,701.97 797.89,702.13 798.83,702.28 799.77,702.43 800.71,702.57 801.65,702.72 802.60,702.87 803.54,703.01 804.48,703.15 805.42,703.29 806.36,703.43 807.30,703.57 808.24,703.71 809.18,703.85 810.12,703.98 811.06,704.12 812.00,704.25 812.94,704.38 813.88,704.51 814.82,704.64 815.76,704.77 816.70,704.90 817.64,705.02 818.58,705.14 819.52,705.27 820.46,705.39 821.40,705.51" stroke="#ff0000" stroke-width="2.8" stroke-dasharray="2.4 15.35" stroke-dashoffset="-4.35"/>
<polyline points="69.20,716.40 70.14,715.77 71.08,715.14 72.02,714.52 72.96,713.89 73.90,713.26 74.84,712.63 75.78,712.00 76.72,711.38 77.66,710.75 78.60,710.12 79.54,709.49 80.48,708.86 81.42,708.24 82.36,707.61 83.30,706.98 84.24,706.36 85.18,705.73 86.12,705.10 87.06,704.47 88.01,703.85 88.95,703.22 89.89,702.59 90.83,701.97 91.77,701.34 92.71,700.72 93.65,700.09 94.59,699.46 95.53,698.84 96.47,698.21 97.41,697.59 98.35,696.96 99.29,696.34 100.23,695.71 101.17,695.09 102.11,694.46 103.05,693.84 103.99,693.21 104.93,692.59 105.87,691.96 106.81,691.34 107.75,690.72 108.69,690.09 109.63,689.47 110.57,688.85 111.51,688.22 112.45,687.60 113.39,686.98 114.33,686.36 115.27,685.73 116.21,685.11 117.15,684.49 118.09,683.87 119.03,683.25 119.97,682.62 120.91,682.00 121.85,681.38 122.79,680.76 123.73,680.14 124.67,679.52 125.62,678.90 126.56,678.28 127.50,677.66 128.44,677.04 129.38,676.42 130.32,675.80 131.26,675.19 132.20,674.57 133.14,673.95 134.08,673.33 135.02,672.71 135.96,672.10 136.90,671.48 137.84,670.86 138.78,670.25 139.72,669.63 140.66,669.01 141.60,668.40 142.54,667.78 143.48,667.17 144.42,666.55 145.36,665.94 146.30,665.33 147.24,664.71 148.18,664.10 149.12,663.48 150.06,662.87 151.00,662.26 151.94,661.65 152.88,661.03 153.82,660.42 154.76,659.81 155.70,659.20 156.64,658.59 157.58,657.98 158.52,657.37 159.46,656.76 160.40,656.15 161.34,655.54 162.28,654.93 163.23,654.32 164.17,653.72 165.11,653.11 166.05,652.50 166.99,651.89 167.93,651.29 168.87,650.68 169.81,650.08 170.75,649.47 171.69,648.87 172.63,648.26 173.57,647.66 174.51,647.05 175.45,646.45 176.39,645.85 177.33,645.24 178.27,644.64 179.21,644.04 180.15,643.44 181.09,642.84 182.03,642.24 182.97,641.64 183.91,641.04 184.85,640.44 185.79,639.84 186.73,639.24 187.67,638.64 188.61,638.04 189.55,637.45 190.49,636.85 191.43,636.25 192.37,635.66 193.31,635.06 194.25,634.47 195.19,633.87 196.13,633.28 197.07,632.68 198.01,632.09 198.95,631.50 199.89,630.91 200.84,630.31 201.78,629.72 202.72,629.13 203.66,628.54 204.60,627.95 205.54,627.36 206.48,626.77 207.42,626.18 208.36,625.60 209.30,625.01 210.24,624.42 211.18,623.84 212.12,623.25 213.06,622.66 214.00,622.08 214.94,621.50 215.88,620.91 216.82,620.33 217.76,619.75 218.70,619.16 219.64,618.58 220.58,618.00 221.52,617.42 222.46,616.84 223.40,616.26 224.34,615.68 225.28,615.10 226.22,614.52 227.16,613.95 228.10,613.37 229.04,612.79 229.98,612.22 230.92,611.64 231.86,611.07 232.80,610.49 233.74,609.92 234.68,609.35 235.62,608.78 236.56,608.20 237.50,607.63 238.45,607.06 239.39,606.49 240.33,605.92 241.27,605.35 242.21,604.79 243.15,604.22 244.09,603.65 245.03,603.09 245.97,602.52 246.91,601.95 247.85,601.39 248.79,600.83 249.73,600.26 250.67,599.70 251.61,599.14 252.55,598.58 253.49,598.02 254.43,597.46 255.37,596.90 256.31,596.34 257.25,595.78 258.19,595.22 259.13,594.67 260.07,594.11 261.01,593.55 261.95,593.00 262.89,592.45 263.83,591.89 264.77,591.34 265.71,590.79 266.65,590.24 267.59,589.68 268.53,589.13 269.47,588.58 270.41,588.04 271.35,587.49 272.29,586.94 273.23,586.39 274.17,585.85 275.11,585.30 276.06,584.76 277.00,584.21 277.94,583.67 278.88,583.13 279.82,582.59 280.76,582.05 281.70,581.50 282.64,580.97 283.58,580.43 284.52,579.89 285.46,579.35 286.40,578.81 287.34,578.28 288.28,577.74 289.22,577.21 290.16,576.67 291.10,576.14 292.04,575.61 292.98,575.08 293.92,574.55 294.86,574.02 295.80,573.49 296.74,572.96 297.68,572.43 298.62,571.90 299.56,571.38 300.50,570.85 301.44,570.33 302.38,569.80 303.32,569.28 304.26,568.76 305.20,568.24 306.14,567.72 307.08,567.20 308.02,566.68 308.96,566.16 309.90,565.64 310.84,565.12 311.78,564.61 312.72,564.09 313.67,563.58 314.61,563.07 315.55,562.55 316.49,562.04 317.43,561.53 318.37,561.02 319.31,560.51 320.25,560.00 321.19,559.49 322.13,558.99 323.07,558.48 324.01,557.98 324.95,557.47 325.89,556.97 326.83,556.46 327.77,555.96 328.71,555.46 329.65,554.96 330.59,554.46 331.53,553.96 332.47,553.47 333.41,552.97 334.35,552.47 335.29,551.98 336.23,551.48 337.17,550.99 338.11,550.50 339.05,550.01 339.99,549.52 340.93,549.03 341.87,548.54 342.81,548.05 343.75,547.56 344.69,547.07 345.63,546.59 346.57,546.10 347.51,545.62 348.45,545.14 349.39,544.66 350.33,544.18 351.28,543.70 352.22,543.22 353.16,542.74 354.10,542.26 355.04,541.78 355.98,541.31 356.92,540.83 357.86,540.36 358.80,539.89 359.74,539.42 360.68,538.95 361.62,538.48 362.56,538.01 363.50,537.54 364.44,537.07 365.38,536.60 366.32,536.14 367.26,535.68 368.20,535.21 369.14,534.75 370.08,534.29 371.02,533.83 371.96,533.37 372.90,532.91 373.84,532.45 374.78,531.99 375.72,531.54 376.66,531.08 377.60,530.63 378.54,530.18 379.48,529.73 380.42,529.27 381.36,528.82 382.30,528.38 383.24,527.93 384.18,527.48 385.12,527.03 386.06,526.59 387.00,526.14 387.94,525.70 388.89,525.26 389.83,524.82 390.77,524.38 391.71,523.94 392.65,523.50 393.59,523.06 394.53,522.63 395.47,522.19 396.41,521.76 397.35,521.33 398.29,520.89 399.23,520.46 400.17,520.03 401.11,519.60 402.05,519.17 402.99,518.75 403.93,518.32 404.87,517.90 405.81,517.47 406.75,517.05 407.69,516.63 408.63,516.21 409.57,515.79 410.51,515.37 411.45,514.95 412.39,514.53 413.33,514.12 414.27,513.70 415.21,513.29 416.15,512.88 417.09,512.47 418.03,512.06 418.97,511.65 419.91,511.24 420.85,510.83 421.79,510.42 422.73,510.02 423.67,509.61 424.61,509.21 425.55,508.81 426.50,508.41 427.44,508.01 428.38,507.61 429.32,507.21 430.26,506.81 431.20,506.42 432.14,506.02 433.08,505.63 434.02,505.24 434.96,504.85 435.90,504.46 436.84,504.07 437.78,503.68 438.72,503.29 439.66,502.91 440.60,502.52 441.54,502.14 442.48,501.76 443.42,501.37 444.36,500.99 445.30,500.61 446.24,500.24 447.18,499.86 448.12,499.48 449.06,499.11 450.00,498.73 450.94,498.36 451.88,497.99 452.82,497.62 453.76,497.25 454.70,496.88 455.64,496.51 456.58,496.15 457.52,495.78 458.46,495.42 459.40,495.06 460.34,494.69 461.28,494.33 462.22,493.97 463.16,493.62 464.11,493.26 465.05,492.90 465.99,492.55 466.93,492.19 467.87,491.84 468.81,491.49 469.75,491.14 470.69,490.79 471.63,490.44 472.57,490.09 473.51,489.75 474.45,489.40 475.39,489.06 476.33,488.72 477.27,488.38 478.21,488.04 479.15,487.70 480.09,487.36 481.03,487.02 481.97,486.69 482.91,486.35 483.85,486.02 484.79,485.69 485.73,485.36 486.67,485.03 487.61,484.70 488.55,484.37 489.49,484.04 490.43,483.72 491.37,483.39 492.31,483.07 493.25,482.75 494.19,482.43 495.13,482.11 496.07,481.79 497.01,481.47 497.95,481.16 498.89,480.84 499.83,480.53 500.77,480.22 501.72,479.90 502.66,479.59 503.60,479.29 504.54,478.98 505.48,478.67 506.42,478.37 507.36,478.06 508.30,477.76 509.24,477.46 510.18,477.16 511.12,476.86 512.06,476.56 513.00,476.26 513.94,475.97 514.88,475.67 515.82,475.38 516.76,475.08 517.70,474.79 518.64,474.50 519.58,474.21 520.52,473.93 521.46,473.64 522.40,473.35 523.34,473.07 524.28,472.79 525.22,472.51 526.16,472.22 527.10,471.95 528.04,471.67 528.98,471.39 529.92,471.11 530.86,470.84 531.80,470.57 532.74,470.29 533.68,470.02 534.62,469.75 535.56,469.48 536.50,469.22 537.44,468.95 538.38,468.69 539.33,468.42 540.27,468.16 541.21,467.90 542.15,467.64 543.09,467.38 544.03,467.12 544.97,466.86 545.91,466.61 546.85,466.35 547.79,466.10 548.73,465.85 549.67,465.60 550.61,465.35 551.55,465.10 552.49,464.86 553.43,464.61 554.37,464.36 555.31,464.12 556.25,463.88 557.19,463.64 558.13,463.40 559.07,463.16 560.01,462.92 560.95,462.69 561.89,462.45 562.83,462.22 563.77,461.99 564.71,461.75 565.65,461.52 566.59,461.30 567.53,461.07 568.47,460.84 569.41,460.62 570.35,460.39 571.29,460.17 572.23,459.95 573.17,459.73 574.11,459.51 575.05,459.29 575.99,459.07 576.94,458.86 577.88,458.64 578.82,458.43 579.76,458.22 580.70,458.01 581.64,457.80 582.58,457.59 583.52,457.39 584.46,457.18 585.40,456.98 586.34,456.77 587.28,456.57 588.22,456.37 589.16,456.17 590.10,455.97 591.04,455.77 591.98,455.58 592.92,455.38 593.86,455.19 594.80,455.00 595.74,454.81 596.68,454.62 597.62,454.43 598.56,454.24 599.50,454.05 600.44,453.87 601.38,453.69 602.32,453.50 603.26,453.32 604.20,453.14 605.14,452.96 606.08,452.78 607.02,452.61 607.96,452.43 608.90,452.26 609.84,452.09 610.78,451.91 611.72,451.74 612.66,451.58 613.60,451.41 614.55,451.24 615.49,451.08 616.43,450.91 617.37,450.75 618.31,450.59 619.25,450.43 620.19,450.27 621.13,450.11 622.07,449.95 623.01,449.79 623.95,449.64 624.89,449.49 625.83,449.33 626.77,449.18 627.71,449.03 628.65,448.89 629.59,448.74 630.53,448.59 631.47,448.45 632.41,448.30 633.35,448.16 634.29,448.02 635.23,447.88 636.17,447.74 637.11,447.60 638.05,447.47 638.99,447.33 639.93,447.20 640.87,447.07 641.81,446.93 642.75,446.80 643.69,446.67 644.63,446.55 645.57,446.42 646.51,446.29 647.45,446.17 648.39,446.05 649.33,445.93 650.27,445.80 651.21,445.69 652.16,445.57 653.10,445.45 654.04,445.33 654.98,445.22 655.92,445.11 656.86,444.99 657.80,444.88 658.74,444.77 659.68,444.66 660.62,444.56 661.56,444.45 662.50,444.35 663.44,444.24 664.38,444.14 665.32,444.04 666.26,443.94 667.20,443.84 668.14,443.74 669.08,443.64 670.02,443.55 670.96,443.45 671.90,443.36 672.84,443.27 673.78,443.18 674.72,443.09 675.66,443.00 676.60,442.91 677.54,442.83 678.48,442.74 679.42,442.66 680.36,442.58 681.30,442.49 682.24,442.41 683.18,442.34 684.12,442.26 685.06,442.18 686.00,442.11 686.94,442.03 687.88,441.96 688.82,441.89 689.77,441.82 690.71,441.75 691.65,441.68 692.59,441.61 693.53,441.55 694.47,441.48 695.41,441.42 696.35,441.35 697.29,441.29 698.23,441.23 699.17,441.17 700.11,441.12 701.05,441.06 701.99,441.00 702.93,440.95 703.87,440.90 704.81,440.84 705.75,440.79 706.69,440.74 707.63,440.70 708.57,440.65 709.51,440.60 710.45,440.56 711.39,440.51 712.33,440.47 713.27,440.43 714.21,440.39 715.15,440.35 716.09,440.31 717.03,440.27 717.97,440.24 718.91,440.20 719.85,440.17 720.79,440.14 721.73,440.11 722.67,440.07 723.61,440.05 724.55,440.02 725.49,439.99 726.43,439.97 727.38,439.94 728.32,439.92 729.26,439.90 730.20,439.87 731.14,439.85 732.08,439.84 733.02,439.82 733.96,439.80 734.90,439.79 735.84,439.77 736.78,439.76 737.72,439.75 738.66,439.73 739.60,439.72 740.54,439.72 741.48,439.71 742.42,439.70 743.36,439.70 744.30,439.69 745.24,439.69 746.18,439.69 747.12,439.69 748.06,439.69 749.00,439.69 749.94,439.69 750.88,439.69 751.82,439.70 752.76,439.70 753.70,439.71 754.64,439.72 755.58,439.73 756.52,439.74 757.46,439.75 758.40,439.76 759.34,439.77 760.28,439.79 761.22,439.80 762.16,439.82 763.10,439.84 764.04,439.86 764.99,439.87 765.93,439.90 766.87,439.92 767.81,439.94 768.75,439.96 769.69,439.99 770.63,440.02 771.57,440.04 772.51,440.07 773.45,440.10 774.39,440.13 775.33,440.16 776.27,440.20 777.21,440.23 778.15,440.26 779.09,440.30 780.03,440.34 780.97,440.37 781.91,440.41 782.85,440.45 783.79,440.49 784.73,440.54 785.67,440.58 786.61,440.62 787.55,440.67 788.49,440.71 789.43,440.76 790.37,440.81 791.31,440.86 792.25,440.91 793.19,440.96 794.13,441.01 795.07,441.07 796.01,441.12 796.95,441.18 797.89,441.23 798.83,441.29 799.77,441.35 800.71,441.41 801.65,441.47 802.60,441.53 803.54,441.59 804.48,441.66 805.42,441.72 806.36,441.79 807.30,441.85 808.24,441.92 809.18,441.99 810.12,442.06 811.06,442.13 812.00,442.20 812.94,442.27 813.88,442.35 814.82,442.42 815.76,442.50 816.70,442.57 817.64,442.65 818.58,442.73 819.52,442.81 820.46,442.89 821.40,442.97" stroke="#0000ff" stroke-width="1.4"/>
<polyline points="69.20,716.40 70.14,715.81 71.08,715.22 72.02,714.63 72.96,714.04 73.90,713.45 74.84,712.86 75.78,712.27 76.72,711.69 77.66,711.10 78.60,710.51 79.54,709.92 80.48,709.33 81.42,708.74 82.36,708.15 83.30,707.56 84.24,706.97 85.18,706.38 86.12,705.79 87.06,705.20 88.01,704.61 88.95,704.02 89.89,703.43 90.83,702.84 91.77,702.25 92.71,701.66 93.65,701.08 94.59,700.49 95.53,699.90 96.47,699.31 97.41,698.72 98.35,698.13 99.29,697.54 100.23,696.95 101.17,696.36 102.11,695.77 103.05,695.18 103.99,694.60 104.93,694.01 105.87,693.42 106.81,692.83 107.75,692.24 108.69,691.65 109.63,691.07 110.57,690.48 111.51,689.89 112.45,689.30 113.39,688.71 114.33,688.13 115.27,687.54 116.21,686.95 117.15,686.36 118.09,685.78 119.03,685.19 119.97,684.60 120.91,684.01 121.85,683.43 122.79,682.84 123.73,682.25 124.67,681.67 125.62,681.08 126.56,680.49 127.50,679.91 128.44,679.32 129.38,678.74 130.32,678.15 131.26,677.57 132.20,676.98 133.14,676.40 134.08,675.81 135.02,675.23 135.96,674.64 136.90,674.06 137.84,673.47 138.78,672.89 139.72,672.31 140.66,671.72 141.60,671.14 142.54,670.55 143.48,669.97 144.42,669.39 145.36,668.81 146.30,668.22 147.24,667.64 148.18,667.06 149.12,666.48 150.06,665.90 151.00,665.31 151.94,664.73 152.88,664.15 153.82,663.57 154.76,662.99 155.70,662.41 156.64,661.83 157.58,661.25 158.52,660.67 159.46,660.09 160.40,659.51 161.34,658.94 162.28,658.36 163.23,657.78 164.17,657.20 165.11,656.62 166.05,656.05 166.99,655.47 167.93,654.89 168.87,654.32 169.81,653.74 170.75,653.16 171.69,652.59 172.63,652.01 173.57,651.44 174.51,650.86 175.45,650.29 176.39,649.71 177.33,649.14 178.27,648.57 179.21,647.99 180.15,647.42 181.09,646.85 182.03,646.28 182.97,645.71 183.91,645.13 184.85,644.56 185.79,643.99 186.73,643.42 187.67,642.85 188.61,642.28 189.55,641.71 190.49,641.14 191.43,640.57 192.37,640.01 193.31,639.44 194.25,638.87 195.19,638.30 196.13,637.74 197.07,637.17 198.01,636.60 198.95,636.04 199.89,635.47 200.84,634.91 201.78,634.34 202.72,633.78 203.66,633.21 204.60,632.65 205.54,632.09 206.48,631.52 207.42,630.96 208.36,630.40 209.30,629.84 210.24,629.28 211.18,628.72 212.12,628.16 213.06,627.60 214.00,627.04 214.94,626.48 215.88,625.92 216.82,625.36 217.76,624.80 218.70,624.25 219.64,623.69 220.58,623.13 221.52,622.58 222.46,622.02 223.40,621.47 224.34,620.91 225.28,620.36 226.22,619.81 227.16,619.25 228.10,618.70 229.04,618.15 229.98,617.60 230.92,617.04 231.86,616.49 232.80,615.94 233.74,615.39 234.68,614.84 235.62,614.30 236.56,613.75 237.50,613.20 238.45,612.65 239.39,612.11 240.33,611.56 241.27,611.01 242.21,610.47 243.15,609.92 244.09,609.38 245.03,608.84 245.97,608.29 246.91,607.75 247.85,607.21 248.79,606.67 249.73,606.13 250.67,605.58 251.61,605.04 252.55,604.50 253.49,603.97 254.43,603.43 255.37,602.89 256.31,602.35 257.25,601.82 258.19,601.28 259.13,600.74 260.07,600.21 261.01,599.67 261.95,599.14 262.89,598.61 263.83,598.07 264.77,597.54 265.71,597.01 266.65,596.48 267.59,595.95 268.53,595.42 269.47,594.89 270.41,594.36 271.35,593.83 272.29,593.31 273.23,592.78 274.17,592.25 275.11,591.73 276.06,591.20 277.00,590.68 277.94,590.15 278.88,589.63 279.82,589.11 280.76,588.59 281.70,588.06 282.64,587.54 283.58,587.02 284.52,586.50 285.46,585.98 286.40,585.47 287.34,584.95 288.28,584.43 289.22,583.92 290.16,583.40 291.10,582.88 292.04,582.37 292.98,581.86 293.92,581.34 294.86,580.83 295.80,580.32 296.74,579.81 297.68,579.30 298.62,578.79 299.56,578.28 300.50,577.77 301.44,577.26 302.38,576.75 303.32,576.25 304.26,575.74 305.20,575.24 306.14,574.73 307.08,574.23 308.02,573.73 308.96,573.22 309.90,572.72 310.84,572.22 311.78,571.72 312.72,571.22 313.67,570.72 314.61,570.23 315.55,569.73 316.49,569.23 317.43,568.74 318.37,568.24 319.31,567.75 320.25,567.25 321.19,566.76 322.13,566.27 323.07,565.77 324.01,565.28 324.95,564.79 325.89,564.30 326.83,563.82 327.77,563.33 328.71,562.84 329.65,562.35 330.59,561.87 331.53,561.38 332.47,560.90 333.41,560.42 334.35,559.93 335.29,559.45 336.23,558.97 337.17,558.49 338.11,558.01 339.05,557.53 339.99,557.05 340.93,556.57 341.87,556.10 342.81,555.62 343.75,555.15 344.69,554.67 345.63,554.20 346.57,553.73 347.51,553.25 348.45,552.78 349.39,552.31 350.33,551.84 351.28,551.37 352.22,550.91 353.16,550.44 354.10,549.97 355.04,549.51 355.98,549.04 356.92,548.58 357.86,548.12 358.80,547.65 359.74,547.19 360.68,546.73 361.62,546.27 362.56,545.81 363.50,545.35 364.44,544.90 365.38,544.44 366.32,543.98 367.26,543.53 368.20,543.07 369.14,542.62 370.08,542.17 371.02,541.72 371.96,541.27 372.90,540.82 373.84,540.37 374.78,539.92 375.72,539.47 376.66,539.02 377.60,538.58 378.54,538.13 379.48,537.69 380.42,537.25 381.36,536.80 382.30,536.36 383.24,535.92 384.18,535.48 385.12,535.04 386.06,534.61 387.00,534.17 387.94,533.73 388.89,533.30 389.83,532.86 390.77,532.43 391.71,532.00 392.65,531.56 393.59,531.13 394.53,530.70 395.47,530.27 396.41,529.84 397.35,529.42 398.29,528.99 399.23,528.56 400.17,528.14 401.11,527.72 402.05,527.29 402.99,526.87 403.93,526.45 404.87,526.03 405.81,525.61 406.75,525.19 407.69,524.77 408.63,524.36 409.57,523.94 410.51,523.53 411.45,523.11 412.39,522.70 413.33,522.29 414.27,521.88 415.21,521.46 416.15,521.06 417.09,520.65 418.03,520.24 418.97,519.83 419.91,519.43 420.85,519.02 421.79,518.62 422.73,518.22 423.67,517.81 424.61,517.41 425.55,517.01 426.50,516.61 427.44,516.21 428.38,515.82 429.32,515.42 430.26,515.03 431.20,514.63 432.14,514.24 433.08,513.84 434.02,513.45 434.96,513.06 435.90,512.67 436.84,512.28 437.78,511.90 438.72,511.51 439.66,511.12 440.60,510.74 441.54,510.35 442.48,509.97 443.42,509.59 444.36,509.21 445.30,508.83 446.24,508.45 447.18,508.07 448.12,507.69 449.06,507.32 450.00,506.94 450.94,506.57 451.88,506.19 452.82,505.82 453.76,505.45 454.70,505.08 455.64,504.71 456.58,504.34 457.52,503.97 458.46,503.61 459.40,503.24 460.34,502.88 461.28,502.51 462.22,502.15 463.16,501.79 464.11,501.43 465.05,501.07 465.99,500.71 466.93,500.35 467.87,500.00 468.81,499.64 469.75,499.29 470.69,498.93 471.63,498.58 472.57,498.23 473.51,497.88 474.45,497.53 475.39,497.18 476.33,496.83 477.27,496.48 478.21,496.14 479.15,495.79 480.09,495.45 481.03,495.11 481.97,494.77 482.91,494.43 483.85,494.09 484.79,493.75 485.73,493.41 486.67,493.07 487.61,492.74 488.55,492.40 489.49,492.07 490.43,491.74 491.37,491.41 492.31,491.08 493.25,490.75 494.19,490.42 495.13,490.09 496.07,489.76 497.01,489.44 497.95,489.12 498.89,488.79 499.83,488.47 500.77,488.15 501.72,487.83 502.66,487.51 503.60,487.19 504.54,486.87 505.48,486.56 506.42,486.24 507.36,485.93 508.30,485.62 509.24,485.30 510.18,484.99 511.12,484.68 512.06,484.38 513.00,484.07 513.94,483.76 514.88,483.46 515.82,483.15 516.76,482.85 517.70,482.55 518.64,482.24 519.58,481.94 520.52,481.64 521.46,481.35 522.40,481.05 523.34,480.75 524.28,480.46 525.22,480.16 526.16,479.87 527.10,479.58 528.04,479.29 528.98,479.00 529.92,478.71 530.86,478.42 531.80,478.13 532.74,477.85 533.68,477.56 534.62,477.28 535.56,477.00 536.50,476.72 537.44,476.44 538.38,476.16 539.33,475.88 540.27,475.60 541.21,475.33 542.15,475.05 543.09,474.78 544.03,474.50 544.97,474.23 545.91,473.96 546.85,473.69 547.79,473.42 548.73,473.16 549.67,472.89 550.61,472.62 551.55,472.36 552.49,472.10 553.43,471.83 554.37,471.57 555.31,471.31 556.25,471.05 557.19,470.80 558.13,470.54 559.07,470.28 560.01,470.03 560.95,469.77 561.89,469.52 562.83,469.27 563.77,469.02 564.71,468.77 565.65,468.52 566.59,468.27 567.53,468.03 568.47,467.78 569.41,467.54 570.35,467.30 571.29,467.05 572.23,466.81 573.17,466.57 574.11,466.34 575.05,466.10 575.99,465.86 576.94,465.63 577.88,465.39 578.82,465.16 579.76,464.93 580.70,464.70 581.64,464.46 582.58,464.24 583.52,464.01 584.46,463.78 585.40,463.56 586.34,463.33 587.28,463.11 588.22,462.88 589.16,462.66 590.10,462.44 591.04,462.22 591.98,462.01 592.92,461.79 593.86,461.57 594.80,461.36 595.74,461.14 596.68,460.93 597.62,460.72 598.56,460.51 599.50,460.30 600.44,460.09 601.38,459.88 602.32,459.68 603.26,459.47 604.20,459.27 605.14,459.06 606.08,458.86 607.02,458.66 607.96,458.46 608.90,458.26 609.84,458.07 610.78,457.87 611.72,457.67 612.66,457.48 613.60,457.29 614.55,457.09 615.49,456.90 616.43,456.71 617.37,456.52 618.31,456.34 619.25,456.15 620.19,455.96 621.13,455.78 622.07,455.59 623.01,455.41 623.95,455.23 624.89,455.05 625.83,454.87 626.77,454.69 627.71,454.52 628.65,454.34 629.59,454.16 630.53,453.99 631.47,453.82 632.41,453.65 633.35,453.47 634.29,453.31 635.23,453.14 636.17,452.97 637.11,452.80 638.05,452.64 638.99,452.47 639.93,452.31 640.87,452.15 641.81,451.99 642.75,451.83 643.69,451.67 644.63,451.51 645.57,451.35 646.51,451.20 647.45,451.04 648.39,450.89 649.33,450.74 650.27,450.59 651.21,450.44 652.16,450.29 653.10,450.14 654.04,449.99 654.98,449.85 655.92,449.70 656.86,449.56 657.80,449.41 658.74,449.27 659.68,449.13 660.62,448.99 661.56,448.85 662.50,448.72 663.44,448.58 664.38,448.44 665.32,448.31 666.26,448.18 667.20,448.05 668.14,447.91 669.08,447.78 670.02,447.66 670.96,447.53 671.90,447.40 672.84,447.27 673.78,447.15 674.72,447.03 675.66,446.90 676.60,446.78 677.54,446.66 678.48,446.54 679.42,446.42 680.36,446.31 681.30,446.19 682.24,446.08 683.18,445.96 684.12,445.85 685.06,445.74 686.00,445.63 686.94,445.52 687.88,445.41 688.82,445.30 689.77,445.19 690.71,445.09 691.65,444.98 692.59,444.88 693.53,444.78 694.47,444.68 695.41,444.57 696.35,444.48 697.29,444.38 698.23,444.28 699.17,444.18 700.11,444.09 701.05,443.99 701.99,443.90 702.93,443.81 703.87,443.72 704.81,443.63 705.75,443.54 706.69,443.45 707.63,443.36 708.57,443.28 709.51,443.19 710.45,443.11 711.39,443.03 712.33,442.95 713.27,442.87 714.21,442.79 715.15,442.71 716.09,442.63 717.03,442.55 717.97,442.48 718.91,442.40 719.85,442.33 720.79,442.26 721.73,442.19 722.67,442.12 723.61,442.05 724.55,441.98 725.49,441.91 726.43,441.84 727.38,441.78 728.32,441.72 729.26,441.65 730.20,441.59 731.14,441.53 732.08,441.47 733.02,441.41 733.96,441.35 734.90,441.29 735.84,441.24 736.78,441.18 737.72,441.13 738.66,441.08 739.60,441.02 740.54,440.97 741.48,440.92 742.42,440.87 743.36,440.83 744.30,440.78 745.24,440.73 746.18,440.69 747.12,440.64 748.06,440.60 749.00,440.56 749.94,440.52 750.88,440.48 751.82,440.44 752.76,440.40 753.70,440.36 754.64,440.33 755.58,440.29 756.52,440.26 757.46,440.23 758.40,440.19 759.34,440.16 760.28,440.13 761.22,440.10 762.16,440.08 763.10,440.05 764.04,440.02 764.99,440.00 765.93,439.97 766.87,439.95 767.81,439.93 768.75,439.91 769.69,439.89 770.63,439.87 771.57,439.85 772.51,439.83 773.45,439.82 774.39,439.80 775.33,439.79 776.27,439.77 777.21,439.76 778.15,439.75 779.09,439.74 780.03,439.73 780.97,439.72 781.91,439.71 782.85,439.71 783.79,439.70 784.73,439.70 785.67,439.69 786.61,439.69 787.55,439.69 788.49,439.69 789.43,439.69 790.37,439.69 791.31,439.69 792.25,439.69 793.19,439.70 794.13,439.70 795.07,439.71 796.01,439.71 796.95,439.72 797.89,439.73 798.83,439.74 799.77,439.75 800.71,439.76 801.65,439.77 802.60,439.78 803.54,439.80 804.48,439.81 805.42,439.83 806.36,439.85 807.30,439.86 808.24,439.88 809.18,439.90 810.12,439.92 811.06,439.95 812.00,439.97 812.94,439.99 813.88,440.02 814.82,440.04 815.76,440.07 816.70,440.09 817.64,440.12 818.58,440.15 819.52,440.18 820.46,440.21 821.40,440.24" stroke="#0000ff" stroke-width="2.8" stroke-dasharray="2.4 15.35" stroke-dashoffset="-2.0"/>
<path d="M69.20 425.85H821.40V716.40H69.20ZM69.20 425.85v10.90M69.20 716.40v-10.90M106.81 425.85v5.70M106.81 716.40v-5.70M144.42 425.85v5.70M144.42 716.40v-5.70M182.03 425.85v5.70M182.03 716.40v-5.70M219.64 425.85v5.70M219.64 716.40v-5.70M257.25 425.85v10.90M257.25 716.40v-10.90M294.86 425.85v5.70M294.86 716.40v-5.70M332.47 425.85v5.70M332.47 716.40v-5.70M370.08 425.85v5.70M370.08 716.40v-5.70M407.69 425.85v5.70M407.69 716.40v-5.70M445.30 425.85v10.90M445.30 716.40v-10.90M482.91 425.85v5.70M482.91 716.40v-5.70M520.52 425.85v5.70M520.52 716.40v-5.70M558.13 425.85v5.70M558.13 716.40v-5.70M595.74 425.85v5.70M595.74 716.40v-5.70M633.35 425.85v10.90M633.35 716.40v-10.90M670.96 425.85v5.70M670.96 716.40v-5.70M708.57 425.85v5.70M708.57 716.40v-5.70M746.18 425.85v5.70M746.18 716.40v-5.70M783.79 425.85v5.70M783.79 716.40v-5.70M821.40 425.85v10.90M821.40 716.40v-10.90M69.20 716.40h10.90M821.40 716.40h-10.90M69.20 688.73h5.70M821.40 688.73h-5.70M69.20 661.06h5.70M821.40 661.06h-5.70M69.20 633.39h5.70M821.40 633.39h-5.70M69.20 605.71h5.70M821.40 605.71h-5.70M69.20 578.04h10.90M821.40 578.04h-10.90M69.20 550.37h5.70M821.40 550.37h-5.70M69.20 522.70h5.70M821.40 522.70h-5.70M69.20 495.03h5.70M821.40 495.03h-5.70M69.20 467.36h5.70M821.40 467.36h-5.70M69.20 439.69h10.90M821.40 439.69h-10.90" stroke="#000" stroke-width="1.4" stroke-linejoin="miter"/>
<path d="M68.40 731.10L70.00 731.10L72.40 731.90L74.00 734.30L74.80 738.30L74.80 740.70L74.00 744.70L72.40 747.10L70.00 747.90L68.40 747.90L66.00 747.10L64.40 744.70L63.60 740.70L63.60 738.30L64.40 734.30L66.00 731.90L68.40 731.10" stroke="#000" stroke-width="1.45"/>
<path d="M254.05 734.30L255.65 733.50L258.05 731.10L258.05 747.90" stroke="#000" stroke-width="1.45"/>
<path d="M440.50 735.10L440.50 734.30L441.30 732.70L442.10 731.90L443.70 731.10L446.90 731.10L448.50 731.90L449.30 732.70L450.10 734.30L450.10 735.90L449.30 737.50L447.70 739.90L439.70 747.90L450.90 747.90" stroke="#000" stroke-width="1.45"/>
<path d="M629.35 731.10L638.15 731.10L633.35 737.50L635.75 737.50L637.35 738.30L638.15 739.10L638.95 741.50L638.95 743.10L638.15 745.50L636.55 747.10L634.15 747.90L631.75 747.90L629.35 747.10L628.55 746.30L627.75 744.70" stroke="#000" stroke-width="1.45"/>
<path d="M827.80 742.30L823.80 742.30L823.80 731.10L815.80 742.30L823.80 742.30L823.80 747.90" stroke="#000" stroke-width="1.45"/>
<path d="M34.80 717.20L34.80 715.60L35.60 713.20L38.00 711.60L42.00 710.80L44.40 710.80L48.40 711.60L50.80 713.20L51.60 715.60L51.60 717.20L50.80 719.60L48.40 721.20L44.40 722.00L42.00 722.00L38.00 721.20L35.60 719.60L34.80 717.20" stroke="#000" stroke-width="1.45"/>
<path d="M34.80 590.84L34.80 589.24L35.60 586.84L38.00 585.24L42.00 584.44L44.40 584.44L48.40 585.24L50.80 586.84L51.60 589.24L51.60 590.84L50.80 593.24L48.40 594.84L44.40 595.64L42.00 595.64L38.00 594.84L35.60 593.24L34.80 590.84M50.00 578.04L50.80 578.84L51.60 578.04L50.80 577.24L50.00 578.04M50.80 578.04L50.80 578.04M34.80 562.04L34.80 570.04L42.00 570.84L41.20 570.04L40.40 567.64L40.40 565.24L41.20 562.84L42.80 561.24L45.20 560.44L46.80 560.44L49.20 561.24L50.80 562.84L51.60 565.24L51.60 567.64L50.80 570.04L50.00 570.84L48.40 571.64" stroke="#000" stroke-width="1.45"/>
<path d="M38.00 442.89L37.20 441.29L34.80 438.89L51.60 438.89" stroke="#000" stroke-width="1.45"/>
<path d="M8.73 667.73L13.56 667.73L11.14 666.92L9.53 665.31L8.73 663.70L8.73 661.28M13.56 667.73L20.00 667.73M13.56 658.07L11.14 657.26L9.53 655.65L8.73 654.04L8.73 651.62L9.53 650.01L10.34 649.21L11.95 648.40L13.56 648.40L13.56 658.07L15.17 658.07L17.58 657.26L19.19 655.65L20.00 654.04L20.00 651.62L19.19 650.01L17.58 648.40M3.09 642.77L20.00 642.77M8.73 627.48L11.14 627.48L9.53 629.09L8.73 630.70L8.73 633.11L9.53 634.72L11.14 636.33L13.56 637.13L15.17 637.13L17.58 636.33L19.19 634.72L20.00 633.11L20.00 630.70L19.19 629.09L17.58 627.48L11.14 627.48M17.58 627.48L20.00 627.48M3.09 620.23L8.73 620.23L8.73 622.64M8.73 617.01L8.73 620.23L16.78 620.23L19.19 619.42L20.00 617.82L20.00 616.21M8.73 611.38L20.00 611.38M2.29 611.38L3.09 612.18L3.90 611.38L3.09 610.57L2.29 611.38M8.73 606.54L20.00 601.72L8.73 596.88M13.56 592.86L11.14 592.05L9.54 590.45L8.73 588.84L8.73 586.42L9.54 584.81L10.34 584.00L11.95 583.20L13.56 583.20L13.56 592.86L15.17 592.86L17.59 592.05L19.20 590.45L20.00 588.84L20.00 586.42L19.20 584.81L17.59 583.20M3.09 559.86L3.09 561.47L3.90 563.08L6.31 563.88L8.73 563.88L8.73 566.29M8.73 560.66L8.73 563.88L20.00 563.88M8.73 555.02L13.56 555.02L11.14 554.22L9.54 552.61L8.73 551.00L8.73 548.59M13.56 555.02L20.00 555.02M8.73 535.71L11.15 535.71L9.54 537.32L8.73 538.92L8.73 541.34L9.54 542.95L11.14 544.56L13.56 545.37L15.17 545.37L17.59 544.56L19.20 542.95L20.00 541.34L20.00 538.92L19.20 537.32L17.59 535.71L11.15 535.71M17.59 535.71L20.00 535.71M11.15 520.41L9.54 522.02L8.73 523.63L8.73 526.04L9.54 527.65L11.15 529.26L13.56 530.07L15.17 530.07L17.59 529.26L19.20 527.65L20.00 526.04L20.00 523.63L19.20 522.02L17.59 520.41M3.10 513.97L8.73 513.97L8.73 516.38M8.73 510.75L8.73 513.97L16.78 513.97L19.20 513.16L20.00 511.56L20.00 509.94M8.73 505.12L20.00 505.12M2.29 505.12L3.10 505.92L3.90 505.12L3.10 504.31L2.29 505.12M8.73 495.45L8.73 493.04L9.54 491.43L11.15 489.82L13.56 489.01L15.17 489.01L17.59 489.82L19.20 491.43L20.00 493.04L20.00 495.45L19.20 497.06L17.59 498.68L15.17 499.48L13.56 499.48L11.15 498.68L9.54 497.06L8.73 495.45M8.73 483.38L11.95 483.38L9.54 480.96L8.73 479.36L8.73 476.94L9.54 475.33L11.95 474.52L20.00 474.52M11.95 483.38L20.00 483.38" stroke="#000" stroke-width="1.45"/>
<polyline points="69.20,1108.90 70.14,1108.90 71.08,1108.90 72.02,1108.90 72.96,1108.90 73.90,1108.90 74.84,1108.90 75.78,1108.90 76.72,1108.90 77.66,1108.90 78.60,1108.90 79.54,1108.90 80.48,1108.90 81.42,1108.90 82.36,1108.90 83.30,1108.90 84.24,1108.90 85.18,1108.90 86.12,1108.90 87.06,1108.90 88.01,1108.90 88.95,1108.90 89.89,1108.90 90.83,1108.90 91.77,1108.90 92.71,1108.90 93.65,1108.90 94.59,1108.90 95.53,1108.90 96.47,1108.90 97.41,1108.90 98.35,1108.90 99.29,1108.90 100.23,1108.90 101.17,1108.90 102.11,1108.90 103.05,1108.90 103.99,1108.90 104.93,1108.90 105.87,1108.90 106.81,1108.90 107.75,1108.90 108.69,1108.90 109.63,1108.90 110.57,1108.90 111.51,1108.90 112.45,1108.90 113.39,1108.90 114.33,1108.90 115.27,1108.90 116.21,1108.90 117.15,1108.90 118.09,1108.90 119.03,1108.90 119.97,1108.90 120.91,1108.90 121.85,1108.90 122.79,1108.90 123.73,1108.90 124.67,1108.90 125.62,1108.90 126.56,1108.90 127.50,1108.90 128.44,1108.90 129.38,1108.90 130.32,1108.90 131.26,1108.90 132.20,1108.90 133.14,1108.90 134.08,1108.90 135.02,1108.90 135.96,1108.90 136.90,1108.90 137.84,1108.90 138.78,1108.90 139.72,1108.90 140.66,1108.90 141.60,1108.90 142.54,1108.90 143.48,1108.90 144.42,1108.90 145.36,1108.90 146.30,1108.90 147.24,1108.90 148.18,1108.90 149.12,1108.90 150.06,1108.90 151.00,1108.90 151.94,1108.90 152.88,1108.90 153.82,1108.90 154.76,1108.90 155.70,1108.90 156.64,1108.90 157.58,1108.90 158.52,1108.90 159.46,1108.90 160.40,1108.90 161.34,1108.90 162.28,1108.90 163.23,1108.90 164.17,1108.90 165.11,1108.90 166.05,1108.90 166.99,1108.90 167.93,1108.90 168.87,1108.90 169.81,1108.90 170.75,1108.90 171.69,1108.90 172.63,1108.90 173.57,1108.90 174.51,1108.90 175.45,1108.90 176.39,1108.90 177.33,1108.90 178.27,1108.90 179.21,1108.90 180.15,1108.90 181.09,1108.90 182.03,1108.90 182.97,1108.90 183.91,1108.90 184.85,1108.90 185.79,1108.90 186.73,1108.90 187.67,1108.90 188.61,1108.90 189.55,1108.90 190.49,1108.90 191.43,1108.90 192.37,1108.90 193.31,1108.90 194.25,1108.90 195.19,1108.90 196.13,1108.90 197.07,1108.90 198.01,1108.90 198.95,1108.90 199.89,1108.90 200.84,1108.90 201.78,1108.90 202.72,1108.90 203.66,1108.90 204.60,1108.90 205.54,1108.90 206.48,1108.90 207.42,1108.90 208.36,1108.90 209.30,1108.90 210.24,1108.90 211.18,1108.90 212.12,1108.90 213.06,1108.90 214.00,1108.90 214.94,1108.90 215.88,1108.90 216.82,1108.90 217.76,1108.90 218.70,1108.90 219.64,1108.90 220.58,1108.90 221.52,1108.90 222.46,1108.90 223.40,1108.90 224.34,1108.90 225.28,1108.90 226.22,1108.90 227.16,1108.90 228.10,1108.90 229.04,1108.90 229.98,1108.90 230.92,1108.90 231.86,1108.90 232.80,1108.90 233.74,1108.90 234.68,1108.90 235.62,1108.90 236.56,1108.90 237.50,1108.90 238.45,1108.90 239.39,1108.90 240.33,1108.90 241.27,1108.90 242.21,1108.90 243.15,1108.90 244.09,1108.90 245.03,1108.90 245.97,1108.90 246.91,1108.90 247.85,1108.90 248.79,1108.90 249.73,1108.90 250.67,1108.90 251.61,1108.90 252.55,1108.90 253.49,1108.90 254.43,1108.90 255.37,1108.90 256.31,1108.90 257.25,1108.90 258.19,1108.90 259.13,1108.90 260.07,1108.90 261.01,1108.90 261.95,1108.90 262.89,1108.90 263.83,1108.90 264.77,1108.90 265.71,1108.90 266.65,1108.90 267.59,1108.90 268.53,1108.90 269.47,1108.90 270.41,1108.90 271.35,1108.90 272.29,1108.90 273.23,1108.90 274.17,1108.90 275.11,1108.90 276.06,1108.90 277.00,1108.90 277.94,1108.90 278.88,1108.90 279.82,1108.90 280.76,1108.90 281.70,1108.90 282.64,1108.90 283.58,1108.90 284.52,1108.90 285.46,1108.90 286.40,1108.90 287.34,1108.90 288.28,1108.90 289.22,1108.90 290.16,1108.90 291.10,1108.90 292.04,1108.90 292.98,1108.90 293.92,1108.90 294.86,1108.90 295.80,1108.90 296.74,1108.90 297.68,1108.90 298.62,1108.90 299.56,1108.90 300.50,1108.90 301.44,1108.90 302.38,1108.90 303.32,1108.90 304.26,1108.90 305.20,1108.90 306.14,1108.90 307.08,1108.90 308.02,1108.90 308.96,1108.90 309.90,1108.90 310.84,1108.90 311.78,1108.90 312.72,1108.90 313.67,1108.90 314.61,1108.90 315.55,1108.90 316.49,1108.90 317.43,1108.90 318.37,1108.90 319.31,1108.90 320.25,1108.90 321.19,1108.90 322.13,1108.90 323.07,1108.90 324.01,1108.90 324.95,1108.90 325.89,1108.90 326.83,1108.90 327.77,1108.90 328.71,1108.90 329.65,1108.90 330.59,1108.90 331.53,1108.90 332.47,1108.90 333.41,1108.90 334.35,1108.90 335.29,1108.90 336.23,1108.90 337.17,1108.90 338.11,1108.90 339.05,1108.90 339.99,1108.90 340.93,1108.90 341.87,1108.90 342.81,1108.90 343.75,1108.90 344.69,1108.90 345.63,1108.90 346.57,1108.90 347.51,1108.90 348.45,1108.90 349.39,1108.90 350.33,1108.90 351.28,1108.90 352.22,1108.90 353.16,1108.90 354.10,1108.90 355.04,1108.90 355.98,1108.90 356.92,1108.90 357.86,1108.90 358.80,1108.90 359.74,1108.90 360.68,1108.90 361.62,1108.90 362.56,1108.90 363.50,1108.90 364.44,1108.90 365.38,1108.90 366.32,1108.90 367.26,1108.90 368.20,1108.90 369.14,1108.90 370.08,1108.90 371.02,1108.90 371.96,1108.90 372.90,1108.90 373.84,1108.90 374.78,1108.90 375.72,1108.90 376.66,1108.90 377.60,1108.90 378.54,1108.90 379.48,1108.90 380.42,1108.90 381.36,1108.90 382.30,1108.90 383.24,1108.90 384.18,1108.90 385.12,1108.90 386.06,1108.90 387.00,1108.90 387.94,1108.90 388.89,1108.90 389.83,1108.90 390.77,1108.90 391.71,1108.90 392.65,1108.90 393.59,1108.90 394.53,1108.90 395.47,1108.90 396.41,1108.90 397.35,1108.90 398.29,1108.90 399.23,1108.90 400.17,1108.90 401.11,1108.90 402.05,1108.90 402.99,1108.90 403.93,1108.90 404.87,1108.90 405.81,1108.90 406.75,1108.90 407.69,1108.90 408.63,1108.90 409.57,1108.90 410.51,1108.90 411.45,1108.90 412.39,1108.90 413.33,1108.90 414.27,1108.90 415.21,1108.90 416.15,1108.90 417.09,1108.90 418.03,1108.90 418.97,1108.90 419.91,1108.90 420.85,1108.90 421.79,1108.90 422.73,1108.90 423.67,1108.90 424.61,1108.90 425.55,1108.90 426.50,1108.90 427.44,1108.90 428.38,1108.90 429.32,1108.90 430.26,1108.90 431.20,1108.90 432.14,1108.90 433.08,1108.90 434.02,1108.90 434.96,1108.90 435.90,1108.90 436.84,1108.90 437.78,1108.90 438.72,1108.90 439.66,1108.90 440.60,1108.90 441.54,1108.90 442.48,1108.90 443.42,1108.90 444.36,1108.90 445.30,1108.90 446.24,1108.90 447.18,1108.90 448.12,1108.90 449.06,1108.90 450.00,1108.90 450.94,1108.90 451.88,1108.90 452.82,1108.90 453.76,1108.90 454.70,1108.90 455.64,1108.90 456.58,1108.90 457.52,1108.90 458.46,1108.90 459.40,1108.90 460.34,1108.90 461.28,1108.90 462.22,1108.90 463.16,1108.90 464.11,1108.90 465.05,1108.90 465.99,1108.90 466.93,1108.90 467.87,1108.90 468.81,1108.90 469.75,1108.90 470.69,1108.90 471.63,1108.90 472.57,1108.90 473.51,1108.90 474.45,1108.90 475.39,1108.90 476.33,1108.90 477.27,1108.90 478.21,1108.90 479.15,1108.90 480.09,1108.89 481.03,1108.89 481.97,1108.89 482.91,1108.89 483.85,1108.89 484.79,1108.89 485.73,1108.89 486.67,1108.89 487.61,1108.89 488.55,1108.89 489.49,1108.89 490.43,1108.89 491.37,1108.89 492.31,1108.89 493.25,1108.89 494.19,1108.89 495.13,1108.90 496.07,1108.90 497.01,1108.90 497.95,1108.90 498.89,1108.90 499.83,1108.90 500.77,1108.90 501.72,1108.90 502.66,1108.90 503.60,1108.90 504.54,1108.90 505.48,1108.90 506.42,1108.90 507.36,1108.90 508.30,1108.90 509.24,1108.90 510.18,1108.90 511.12,1108.90 512.06,1108.90 513.00,1108.90 513.94,1108.90 514.88,1108.90 515.82,1108.90 516.76,1108.90 517.70,1108.90 518.64,1108.90 519.58,1108.90 520.52,1108.90 521.46,1108.90 522.40,1108.90 523.34,1108.90 524.28,1108.90 525.22,1108.90 526.16,1108.90 527.10,1108.90 528.04,1108.90 528.98,1108.90 529.92,1108.90 530.86,1108.90 531.80,1108.90 532.74,1108.90 533.68,1108.90 534.62,1108.90 535.56,1108.90 536.50,1108.90 537.44,1108.90 538.38,1108.90 539.33,1108.90 540.27,1108.90 541.21,1108.90 542.15,1108.90 543.09,1108.90 544.03,1108.90 544.97,1108.90 545.91,1108.90 546.85,1108.90 547.79,1108.90 548.73,1108.90 549.67,1108.90 550.61,1108.90 551.55,1108.90 552.49,1108.90 553.43,1108.90 554.37,1108.90 555.31,1108.90 556.25,1108.90 557.19,1108.90 558.13,1108.90 559.07,1108.90 560.01,1108.90 560.95,1108.90 561.89,1108.90 562.83,1108.90 563.77,1108.90 564.71,1108.90 565.65,1108.90 566.59,1108.90 567.53,1108.90 568.47,1108.90 569.41,1108.90 570.35,1108.90 571.29,1108.90 572.23,1108.90 573.17,1108.90 574.11,1108.90 575.05,1108.90 575.99,1108.90 576.94,1108.90 577.88,1108.90 578.82,1108.90 579.76,1108.90 580.70,1108.90 581.64,1108.90 582.58,1108.90 583.52,1108.90 584.46,1108.90 585.40,1108.90 586.34,1108.90 587.28,1108.90 588.22,1108.90 589.16,1108.90 590.10,1108.90 591.04,1108.90 591.98,1108.90 592.92,1108.90 593.86,1108.90 594.80,1108.90 595.74,1108.90 596.68,1108.90 597.62,1108.90 598.56,1108.90 599.50,1108.90 600.44,1108.90 601.38,1108.90 602.32,1108.90 603.26,1108.90 604.20,1108.90 605.14,1108.90 606.08,1108.90 607.02,1108.90 607.96,1108.90 608.90,1108.90 609.84,1108.90 610.78,1108.90 611.72,1108.90 612.66,1108.90 613.60,1108.90 614.55,1108.90 615.49,1108.90 616.43,1108.90 617.37,1108.90 618.31,1108.90 619.25,1108.90 620.19,1108.90 621.13,1108.90 622.07,1108.90 623.01,1108.90 623.95,1108.90 624.89,1108.90 625.83,1108.90 626.77,1108.90 627.71,1108.90 628.65,1108.90 629.59,1108.90 630.53,1108.90 631.47,1108.90 632.41,1108.90 633.35,1108.90 634.29,1108.90 635.23,1108.90 636.17,1108.90 637.11,1108.90 638.05,1108.90 638.99,1108.90 639.93,1108.90 640.87,1108.90 641.81,1108.90 642.75,1108.90 643.69,1108.90 644.63,1108.90 645.57,1108.90 646.51,1108.90 647.45,1108.90 648.39,1108.90 649.33,1108.90 650.27,1108.90 651.21,1108.90 652.16,1108.90 653.10,1108.90 654.04,1108.90 654.98,1108.90 655.92,1108.90 656.86,1108.90 657.80,1108.90 658.74,1108.90 659.68,1108.90 660.62,1108.90 661.56,1108.90 662.50,1108.90 663.44,1108.90 664.38,1108.90 665.32,1108.90 666.26,1108.90 667.20,1108.90 668.14,1108.90 669.08,1108.90 670.02,1108.90 670.96,1108.90 671.90,1108.90 672.84,1108.90 673.78,1108.90 674.72,1108.90 675.66,1108.90 676.60,1108.90 677.54,1108.90 678.48,1108.90 679.42,1108.90 680.36,1108.90 681.30,1108.90 682.24,1108.90 683.18,1108.90 684.12,1108.90 685.06,1108.90 686.00,1108.90 686.94,1108.90 687.88,1108.90 688.82,1108.90 689.77,1108.90 690.71,1108.90 691.65,1108.90 692.59,1108.90 693.53,1108.90 694.47,1108.90 695.41,1108.90 696.35,1108.90 697.29,1108.90 698.23,1108.90 699.17,1108.90 700.11,1108.90 701.05,1108.90 701.99,1108.90 702.93,1108.90 703.87,1108.90 704.81,1108.90 705.75,1108.90 706.69,1108.90 707.63,1108.90 708.57,1108.90 709.51,1108.90 710.45,1108.90 711.39,1108.90 712.33,1108.90 713.27,1108.90 714.21,1108.90 715.15,1108.90 716.09,1108.90 717.03,1108.90 717.97,1108.90 718.91,1108.90 719.85,1108.90 720.79,1108.90 721.73,1108.90 722.67,1108.90 723.61,1108.90 724.55,1108.90 725.49,1108.90 726.43,1108.90 727.38,1108.90 728.32,1108.90 729.26,1108.90 730.20,1108.90 731.14,1108.90 732.08,1108.90 733.02,1108.90 733.96,1108.90 734.90,1108.90 735.84,1108.90 736.78,1108.90 737.72,1108.90 738.66,1108.90 739.60,1108.90 740.54,1108.90 741.48,1108.90 742.42,1108.90 743.36,1108.90 744.30,1108.90 745.24,1108.90 746.18,1108.90 747.12,1108.90 748.06,1108.90 749.00,1108.90 749.94,1108.90 750.88,1108.90 751.82,1108.90 752.76,1108.90 753.70,1108.90 754.64,1108.90 755.58,1108.90 756.52,1108.90 757.46,1108.90 758.40,1108.90 759.34,1108.90 760.28,1108.90 761.22,1108.90 762.16,1108.90 763.10,1108.90 764.04,1108.90 764.99,1108.90 765.93,1108.90 766.87,1108.90 767.81,1108.90 768.75,1108.90 769.69,1108.90 770.63,1108.90 771.57,1108.90 772.51,1108.90 773.45,1108.90 774.39,1108.90 775.33,1108.90 776.27,1108.90 777.21,1108.90 778.15,1108.90 779.09,1108.90 780.03,1108.90 780.97,1108.90 781.91,1108.90 782.85,1108.90 783.79,1108.90 784.73,1108.90 785.67,1108.90 786.61,1108.90 787.55,1108.90 788.49,1108.90 789.43,1108.90 790.37,1108.90 791.31,1108.90 792.25,1108.90 793.19,1108.90 794.13,1108.90 795.07,1108.90 796.01,1108.90 796.95,1108.90 797.89,1108.90 798.83,1108.90 799.77,1108.90 800.71,1108.90 801.65,1108.90 802.60,1108.90 803.54,1108.90 804.48,1108.90 805.42,1108.90 806.36,1108.90 807.30,1108.90 808.24,1108.90 809.18,1108.90 810.12,1108.90 811.06,1108.90 812.00,1108.90 812.94,1108.90 813.88,1108.90 814.82,1108.90 815.76,1108.90 816.70,1108.90 817.64,1108.90 818.58,1108.90 819.52,1108.90 820.46,1108.90 821.40,1108.90" stroke="#000" stroke-width="1.4"/>
<polyline points="69.20,1108.90 70.14,1108.90 71.08,1108.90 72.02,1108.90 72.96,1108.90 73.90,1108.90 74.84,1108.90 75.78,1108.90 76.72,1108.90 77.66,1108.90 78.60,1108.90 79.54,1108.90 80.48,1108.90 81.42,1108.90 82.36,1108.90 83.30,1108.90 84.24,1108.90 85.18,1108.90 86.12,1108.90 87.06,1108.90 88.01,1108.90 88.95,1108.90 89.89,1108.90 90.83,1108.90 91.77,1108.90 92.71,1108.90 93.65,1108.90 94.59,1108.90 95.53,1108.90 96.47,1108.90 97.41,1108.90 98.35,1108.90 99.29,1108.90 100.23,1108.90 101.17,1108.90 102.11,1108.90 103.05,1108.90 103.99,1108.90 104.93,1108.90 105.87,1108.90 106.81,1108.90 107.75,1108.90 108.69,1108.90 109.63,1108.90 110.57,1108.90 111.51,1108.90 112.45,1108.90 113.39,1108.90 114.33,1108.90 115.27,1108.90 116.21,1108.90 117.15,1108.90 118.09,1108.90 119.03,1108.90 119.97,1108.90 120.91,1108.90 121.85,1108.90 122.79,1108.90 123.73,1108.90 124.67,1108.90 125.62,1108.90 126.56,1108.90 127.50,1108.90 128.44,1108.90 129.38,1108.90 130.32,1108.90 131.26,1108.90 132.20,1108.90 133.14,1108.90 134.08,1108.90 135.02,1108.90 135.96,1108.90 136.90,1108.90 137.84,1108.90 138.78,1108.90 139.72,1108.90 140.66,1108.90 141.60,1108.90 142.54,1108.90 143.48,1108.90 144.42,1108.90 145.36,1108.90 146.30,1108.90 147.24,1108.90 148.18,1108.90 149.12,1108.90 150.06,1108.90 151.00,1108.90 151.94,1108.90 152.88,1108.90 153.82,1108.90 154.76,1108.90 155.70,1108.90 156.64,1108.90 157.58,1108.90 158.52,1108.90 159.46,1108.90 160.40,1108.90 161.34,1108.90 162.28,1108.90 163.23,1108.90 164.17,1108.90 165.11,1108.90 166.05,1108.90 166.99,1108.90 167.93,1108.90 168.87,1108.90 169.81,1108.90 170.75,1108.90 171.69,1108.90 172.63,1108.90 173.57,1108.90 174.51,1108.90 175.45,1108.90 176.39,1108.90 177.33,1108.90 178.27,1108.90 179.21,1108.90 180.15,1108.90 181.09,1108.90 182.03,1108.90 182.97,1108.90 183.91,1108.90 184.85,1108.90 185.79,1108.90 186.73,1108.90 187.67,1108.90 188.61,1108.90 189.55,1108.90 190.49,1108.90 191.43,1108.90 192.37,1108.90 193.31,1108.90 194.25,1108.90 195.19,1108.90 196.13,1108.90 197.07,1108.90 198.01,1108.90 198.95,1108.90 199.89,1108.90 200.84,1108.90 201.78,1108.90 202.72,1108.90 203.66,1108.90 204.60,1108.90 205.54,1108.90 206.48,1108.90 207.42,1108.90 208.36,1108.90 209.30,1108.90 210.24,1108.90 211.18,1108.90 212.12,1108.90 213.06,1108.90 214.00,1108.90 214.94,1108.90 215.88,1108.90 216.82,1108.90 217.76,1108.90 218.70,1108.90 219.64,1108.90 220.58,1108.90 221.52,1108.90 222.46,1108.90 223.40,1108.90 224.34,1108.90 225.28,1108.90 226.22,1108.90 227.16,1108.90 228.10,1108.90 229.04,1108.90 229.98,1108.90 230.92,1108.90 231.86,1108.90 232.80,1108.90 233.74,1108.90 234.68,1108.90 235.62,1108.90 236.56,1108.90 237.50,1108.90 238.45,1108.90 239.39,1108.90 240.33,1108.90 241.27,1108.90 242.21,1108.90 243.15,1108.90 244.09,1108.90 245.03,1108.90 245.97,1108.90 246.91,1108.90 247.85,1108.90 248.79,1108.90 249.73,1108.90 250.67,1108.90 251.61,1108.90 252.55,1108.90 253.49,1108.90 254.43,1108.90 255.37,1108.90 256.31,1108.90 257.25,1108.90 258.19,1108.90 259.13,1108.90 260.07,1108.90 261.01,1108.90 261.95,1108.90 262.89,1108.90 263.83,1108.90 264.77,1108.90 265.71,1108.90 266.65,1108.90 267.59,1108.90 268.53,1108.90 269.47,1108.90 270.41,1108.90 271.35,1108.90 272.29,1108.90 273.23,1108.90 274.17,1108.90 275.11,1108.90 276.06,1108.90 277.00,1108.90 277.94,1108.90 278.88,1108.90 279.82,1108.90 280.76,1108.90 281.70,1108.90 282.64,1108.90 283.58,1108.90 284.52,1108.90 285.46,1108.90 286.40,1108.90 287.34,1108.90 288.28,1108.90 289.22,1108.90 290.16,1108.90 291.10,1108.90 292.04,1108.90 292.98,1108.90 293.92,1108.90 294.86,1108.90 295.80,1108.90 296.74,1108.90 297.68,1108.90 298.62,1108.90 299.56,1108.90 300.50,1108.90 301.44,1108.90 302.38,1108.90 303.32,1108.90 304.26,1108.90 305.20,1108.90 306.14,1108.90 307.08,1108.90 308.02,1108.90 308.96,1108.90 309.90,1108.90 310.84,1108.90 311.78,1108.90 312.72,1108.90 313.67,1108.90 314.61,1108.90 315.55,1108.90 316.49,1108.90 317.43,1108.90 318.37,1108.90 319.31,1108.90 320.25,1108.90 321.19,1108.90 322.13,1108.90 323.07,1108.90 324.01,1108.90 324.95,1108.90 325.89,1108.90 326.83,1108.90 327.77,1108.90 328.71,1108.90 329.65,1108.90 330.59,1108.90 331.53,1108.90 332.47,1108.90 333.41,1108.90 334.35,1108.90 335.29,1108.90 336.23,1108.90 337.17,1108.90 338.11,1108.90 339.05,1108.90 339.99,1108.90 340.93,1108.90 341.87,1108.90 342.81,1108.90 343.75,1108.90 344.69,1108.90 345.63,1108.90 346.57,1108.90 347.51,1108.90 348.45,1108.90 349.39,1108.90 350.33,1108.90 351.28,1108.90 352.22,1108.90 353.16,1108.90 354.10,1108.90 355.04,1108.90 355.98,1108.90 356.92,1108.90 357.86,1108.90 358.80,1108.90 359.74,1108.90 360.68,1108.90 361.62,1108.90 362.56,1108.90 363.50,1108.90 364.44,1108.90 365.38,1108.90 366.32,1108.90 367.26,1108.90 368.20,1108.90 369.14,1108.90 370.08,1108.90 371.02,1108.90 371.96,1108.90 372.90,1108.90 373.84,1108.90 374.78,1108.90 375.72,1108.90 376.66,1108.90 377.60,1108.90 378.54,1108.90 379.48,1108.90 380.42,1108.90 381.36,1108.90 382.30,1108.90 383.24,1108.90 384.18,1108.90 385.12,1108.90 386.06,1108.90 387.00,1108.90 387.94,1108.90 388.89,1108.90 389.83,1108.90 390.77,1108.90 391.71,1108.90 392.65,1108.90 393.59,1108.90 394.53,1108.90 395.47,1108.90 396.41,1108.90 397.35,1108.90 398.29,1108.90 399.23,1108.90 400.17,1108.90 401.11,1108.90 402.05,1108.90 402.99,1108.90 403.93,1108.90 404.87,1108.90 405.81,1108.90 406.75,1108.90 407.69,1108.90 408.63,1108.90 409.57,1108.89 410.51,1108.89 411.45,1108.89 412.39,1108.89 413.33,1108.89 414.27,1108.89 415.21,1108.89 416.15,1108.88 417.09,1108.88 418.03,1108.88 418.97,1108.87 419.91,1108.87 420.85,1108.87 421.79,1108.86 422.73,1108.85 423.67,1108.85 424.61,1108.84 425.55,1108.83 426.50,1108.82 427.44,1108.81 428.38,1108.80 429.32,1108.78 430.26,1108.77 431.20,1108.75 432.14,1108.73 433.08,1108.71 434.02,1108.69 434.96,1108.66 435.90,1108.63 436.84,1108.60 437.78,1108.57 438.72,1108.53 439.66,1108.49 440.60,1108.44 441.54,1108.39 442.48,1108.34 443.42,1108.28 444.36,1108.21 445.30,1108.14 446.24,1108.07 447.18,1107.99 448.12,1107.90 449.06,1107.80 450.00,1107.70 450.94,1107.59 451.88,1107.47 452.82,1107.34 453.76,1107.21 454.70,1107.06 455.64,1106.91 456.58,1106.74 457.52,1106.56 458.46,1106.38 459.40,1106.18 460.34,1105.97 461.28,1105.75 462.22,1105.51 463.16,1105.26 464.11,1105.00 465.05,1104.72 465.99,1104.44 466.93,1104.13 467.87,1103.81 468.81,1103.48 469.75,1103.13 470.69,1102.77 471.63,1102.39 472.57,1101.99 473.51,1101.58 474.45,1101.15 475.39,1100.71 476.33,1100.25 477.27,1099.77 478.21,1099.28 479.15,1098.77 480.09,1098.25 481.03,1097.71 481.97,1097.15 482.91,1096.58 483.85,1095.99 484.79,1095.39 485.73,1094.77 486.67,1094.14 487.61,1093.49 488.55,1092.84 489.49,1092.16 490.43,1091.48 491.37,1090.78 492.31,1090.08 493.25,1089.36 494.19,1088.63 495.13,1087.89 496.07,1087.15 497.01,1086.39 497.95,1085.63 498.89,1084.86 499.83,1084.09 500.77,1083.31 501.72,1082.53 502.66,1081.75 503.60,1080.97 504.54,1080.18 505.48,1079.39 506.42,1078.61 507.36,1077.83 508.30,1077.05 509.24,1076.27 510.18,1075.50 511.12,1074.74 512.06,1073.98 513.00,1073.23 513.94,1072.49 514.88,1071.75 515.82,1071.03 516.76,1070.32 517.70,1069.63 518.64,1068.94 519.58,1068.27 520.52,1067.62 521.46,1066.98 522.40,1066.36 523.34,1065.75 524.28,1065.17 525.22,1064.60 526.16,1064.05 527.10,1063.52 528.04,1063.01 528.98,1062.53 529.92,1062.06 530.86,1061.62 531.80,1061.20 532.74,1060.80 533.68,1060.42 534.62,1060.07 535.56,1059.74 536.50,1059.44 537.44,1059.16 538.38,1058.91 539.33,1058.68 540.27,1058.47 541.21,1058.29 542.15,1058.13 543.09,1058.00 544.03,1057.90 544.97,1057.81 545.91,1057.76 546.85,1057.72 547.79,1057.71 548.73,1057.73 549.67,1057.77 550.61,1057.83 551.55,1057.91 552.49,1058.02 553.43,1058.15 554.37,1058.30 555.31,1058.47 556.25,1058.67 557.19,1058.88 558.13,1059.11 559.07,1059.37 560.01,1059.64 560.95,1059.93 561.89,1060.24 562.83,1060.57 563.77,1060.91 564.71,1061.27 565.65,1061.65 566.59,1062.04 567.53,1062.44 568.47,1062.86 569.41,1063.29 570.35,1063.74 571.29,1064.19 572.23,1064.66 573.17,1065.14 574.11,1065.63 575.05,1066.13 575.99,1066.64 576.94,1067.15 577.88,1067.68 578.82,1068.21 579.76,1068.75 580.70,1069.29 581.64,1069.84 582.58,1070.40 583.52,1070.95 584.46,1071.52 585.40,1072.08 586.34,1072.65 587.28,1073.22 588.22,1073.80 589.16,1074.37 590.10,1074.95 591.04,1075.52 591.98,1076.10 592.92,1076.67 593.86,1077.25 594.80,1077.82 595.74,1078.39 596.68,1078.96 597.62,1079.53 598.56,1080.09 599.50,1080.65 600.44,1081.21 601.38,1081.77 602.32,1082.32 603.26,1082.86 604.20,1083.40 605.14,1083.94 606.08,1084.47 607.02,1085.00 607.96,1085.52 608.90,1086.03 609.84,1086.54 610.78,1087.05 611.72,1087.54 612.66,1088.04 613.60,1088.52 614.55,1089.00 615.49,1089.47 616.43,1089.93 617.37,1090.39 618.31,1090.84 619.25,1091.29 620.19,1091.72 621.13,1092.15 622.07,1092.58 623.01,1092.99 623.95,1093.40 624.89,1093.80 625.83,1094.20 626.77,1094.58 627.71,1094.96 628.65,1095.33 629.59,1095.70 630.53,1096.06 631.47,1096.41 632.41,1096.75 633.35,1097.09 634.29,1097.41 635.23,1097.74 636.17,1098.05 637.11,1098.36 638.05,1098.66 638.99,1098.96 639.93,1099.24 640.87,1099.53 641.81,1099.80 642.75,1100.07 643.69,1100.33 644.63,1100.59 645.57,1100.84 646.51,1101.08 647.45,1101.32 648.39,1101.55 649.33,1101.77 650.27,1101.99 651.21,1102.21 652.16,1102.42 653.10,1102.62 654.04,1102.82 654.98,1103.01 655.92,1103.20 656.86,1103.38 657.80,1103.56 658.74,1103.73 659.68,1103.90 660.62,1104.06 661.56,1104.22 662.50,1104.37 663.44,1104.52 664.38,1104.67 665.32,1104.81 666.26,1104.94 667.20,1105.08 668.14,1105.21 669.08,1105.33 670.02,1105.45 670.96,1105.57 671.90,1105.68 672.84,1105.79 673.78,1105.90 674.72,1106.00 675.66,1106.11 676.60,1106.20 677.54,1106.30 678.48,1106.39 679.42,1106.48 680.36,1106.56 681.30,1106.65 682.24,1106.73 683.18,1106.80 684.12,1106.88 685.06,1106.95 686.00,1107.02 686.94,1107.09 687.88,1107.16 688.82,1107.22 689.77,1107.28 690.71,1107.34 691.65,1107.40 692.59,1107.45 693.53,1107.51 694.47,1107.56 695.41,1107.61 696.35,1107.66 697.29,1107.70 698.23,1107.75 699.17,1107.79 700.11,1107.83 701.05,1107.87 701.99,1107.91 702.93,1107.95 703.87,1107.99 704.81,1108.02 705.75,1108.06 706.69,1108.09 707.63,1108.12 708.57,1108.15 709.51,1108.18 710.45,1108.21 711.39,1108.23 712.33,1108.26 713.27,1108.28 714.21,1108.31 715.15,1108.33 716.09,1108.35 717.03,1108.38 717.97,1108.40 718.91,1108.42 719.85,1108.44 720.79,1108.45 721.73,1108.47 722.67,1108.49 723.61,1108.51 724.55,1108.52 725.49,1108.54 726.43,1108.55 727.38,1108.57 728.32,1108.58 729.26,1108.59 730.20,1108.60 731.14,1108.62 732.08,1108.63 733.02,1108.64 733.96,1108.65 734.90,1108.66 735.84,1108.67 736.78,1108.68 737.72,1108.69 738.66,1108.70 739.60,1108.71 740.54,1108.71 741.48,1108.72 742.42,1108.73 743.36,1108.74 744.30,1108.74 745.24,1108.75 746.18,1108.76 747.12,1108.76 748.06,1108.77 749.00,1108.77 749.94,1108.78 750.88,1108.78 751.82,1108.79 752.76,1108.79 753.70,1108.80 754.64,1108.80 755.58,1108.81 756.52,1108.81 757.46,1108.81 758.40,1108.82 759.34,1108.82 760.28,1108.83 761.22,1108.83 762.16,1108.83 763.10,1108.83 764.04,1108.84 764.99,1108.84 765.93,1108.84 766.87,1108.84 767.81,1108.85 768.75,1108.85 769.69,1108.85 770.63,1108.85 771.57,1108.86 772.51,1108.86 773.45,1108.86 774.39,1108.86 775.33,1108.86 776.27,1108.86 777.21,1108.87 778.15,1108.87 779.09,1108.87 780.03,1108.87 780.97,1108.87 781.91,1108.87 782.85,1108.87 783.79,1108.88 784.73,1108.88 785.67,1108.88 786.61,1108.88 787.55,1108.88 788.49,1108.88 789.43,1108.88 790.37,1108.88 791.31,1108.88 792.25,1108.88 793.19,1108.88 794.13,1108.89 795.07,1108.89 796.01,1108.89 796.95,1108.89 797.89,1108.89 798.83,1108.89 799.77,1108.89 800.71,1108.89 801.65,1108.89 802.60,1108.89 803.54,1108.89 804.48,1108.89 805.42,1108.89 806.36,1108.89 807.30,1108.89 808.24,1108.89 809.18,1108.89 810.12,1108.89 811.06,1108.89 812.00,1108.89 812.94,1108.89 813.88,1108.89 814.82,1108.89 815.76,1108.89 816.70,1108.90 817.64,1108.90 818.58,1108.90 819.52,1108.90 820.46,1108.90 821.40,1108.90" stroke="#ff0000" stroke-width="1.4"/>
<polyline points="69.20,1108.90 70.14,1108.90 71.08,1108.90 72.02,1108.90 72.96,1108.90 73.90,1108.90 74.84,1108.90 75.78,1108.90 76.72,1108.90 77.66,1108.90 78.60,1108.90 79.54,1108.90 80.48,1108.90 81.42,1108.90 82.36,1108.90 83.30,1108.90 84.24,1108.90 85.18,1108.90 86.12,1108.90 87.06,1108.90 88.01,1108.90 88.95,1108.90 89.89,1108.90 90.83,1108.90 91.77,1108.90 92.71,1108.90 93.65,1108.90 94.59,1108.90 95.53,1108.90 96.47,1108.90 97.41,1108.90 98.35,1108.90 99.29,1108.90 100.23,1108.90 101.17,1108.90 102.11,1108.90 103.05,1108.90 103.99,1108.90 104.93,1108.90 105.87,1108.90 106.81,1108.90 107.75,1108.90 108.69,1108.90 109.63,1108.90 110.57,1108.90 111.51,1108.90 112.45,1108.90 113.39,1108.90 114.33,1108.90 115.27,1108.90 116.21,1108.90 117.15,1108.90 118.09,1108.90 119.03,1108.90 119.97,1108.90 120.91,1108.90 121.85,1108.90 122.79,1108.90 123.73,1108.90 124.67,1108.90 125.62,1108.90 126.56,1108.90 127.50,1108.90 128.44,1108.90 129.38,1108.90 130.32,1108.90 131.26,1108.90 132.20,1108.90 133.14,1108.90 134.08,1108.90 135.02,1108.90 135.96,1108.90 136.90,1108.90 137.84,1108.90 138.78,1108.90 139.72,1108.90 140.66,1108.90 141.60,1108.90 142.54,1108.90 143.48,1108.90 144.42,1108.90 145.36,1108.90 146.30,1108.90 147.24,1108.90 148.18,1108.90 149.12,1108.90 150.06,1108.90 151.00,1108.90 151.94,1108.90 152.88,1108.90 153.82,1108.90 154.76,1108.90 155.70,1108.90 156.64,1108.90 157.58,1108.90 158.52,1108.90 159.46,1108.90 160.40,1108.90 161.34,1108.90 162.28,1108.90 163.23,1108.90 164.17,1108.90 165.11,1108.90 166.05,1108.90 166.99,1108.90 167.93,1108.90 168.87,1108.90 169.81,1108.90 170.75,1108.90 171.69,1108.90 172.63,1108.90 173.57,1108.90 174.51,1108.90 175.45,1108.90 176.39,1108.90 177.33,1108.90 178.27,1108.90 179.21,1108.90 180.15,1108.90 181.09,1108.90 182.03,1108.90 182.97,1108.90 183.91,1108.90 184.85,1108.90 185.79,1108.90 186.73,1108.90 187.67,1108.90 188.61,1108.90 189.55,1108.90 190.49,1108.90 191.43,1108.90 192.37,1108.90 193.31,1108.90 194.25,1108.90 195.19,1108.90 196.13,1108.90 197.07,1108.90 198.01,1108.90 198.95,1108.90 199.89,1108.90 200.84,1108.90 201.78,1108.90 202.72,1108.90 203.66,1108.90 204.60,1108.90 205.54,1108.90 206.48,1108.90 207.42,1108.90 208.36,1108.90 209.30,1108.90 210.24,1108.90 211.18,1108.90 212.12,1108.90 213.06,1108.90 214.00,1108.90 214.94,1108.90 215.88,1108.90 216.82,1108.90 217.76,1108.90 218.70,1108.90 219.64,1108.90 220.58,1108.90 221.52,1108.90 222.46,1108.90 223.40,1108.90 224.34,1108.90 225.28,1108.90 226.22,1108.90 227.16,1108.90 228.10,1108.90 229.04,1108.90 229.98,1108.90 230.92,1108.90 231.86,1108.90 232.80,1108.90 233.74,1108.90 234.68,1108.90 235.62,1108.90 236.56,1108.90 237.50,1108.90 238.45,1108.90 239.39,1108.90 240.33,1108.90 241.27,1108.90 242.21,1108.90 243.15,1108.90 244.09,1108.90 245.03,1108.90 245.97,1108.90 246.91,1108.90 247.85,1108.90 248.79,1108.90 249.73,1108.90 250.67,1108.90 251.61,1108.90 252.55,1108.90 253.49,1108.90 254.43,1108.90 255.37,1108.90 256.31,1108.90 257.25,1108.90 258.19,1108.90 259.13,1108.90 260.07,1108.90 261.01,1108.90 261.95,1108.90 262.89,1108.90 263.83,1108.90 264.77,1108.90 265.71,1108.90 266.65,1108.90 267.59,1108.90 268.53,1108.90 269.47,1108.90 270.41,1108.90 271.35,1108.90 272.29,1108.90 273.23,1108.90 274.17,1108.90 275.11,1108.90 276.06,1108.90 277.00,1108.90 277.94,1108.90 278.88,1108.90 279.82,1108.90 280.76,1108.90 281.70,1108.90 282.64,1108.90 283.58,1108.90 284.52,1108.90 285.46,1108.90 286.40,1108.90 287.34,1108.90 288.28,1108.90 289.22,1108.90 290.16,1108.90 291.10,1108.90 292.04,1108.90 292.98,1108.90 293.92,1108.90 294.86,1108.90 295.80,1108.90 296.74,1108.90 297.68,1108.90 298.62,1108.90 299.56,1108.90 300.50,1108.90 301.44,1108.90 302.38,1108.90 303.32,1108.90 304.26,1108.90 305.20,1108.90 306.14,1108.90 307.08,1108.90 308.02,1108.90 308.96,1108.90 309.90,1108.90 310.84,1108.90 311.78,1108.90 312.72,1108.90 313.67,1108.90 314.61,1108.90 315.55,1108.90 316.49,1108.90 317.43,1108.90 318.37,1108.90 319.31,1108.90 320.25,1108.90 321.19,1108.90 322.13,1108.90 323.07,1108.90 324.01,1108.90 324.95,1108.90 325.89,1108.90 326.83,1108.90 327.77,1108.90 328.71,1108.90 329.65,1108.90 330.59,1108.90 331.53,1108.90 332.47,1108.90 333.41,1108.90 334.35,1108.90 335.29,1108.90 336.23,1108.90 337.17,1108.90 338.11,1108.90 339.05,1108.90 339.99,1108.90 340.93,1108.90 341.87,1108.90 342.81,1108.90 343.75,1108.90 344.69,1108.90 345.63,1108.90 346.57,1108.90 347.51,1108.90 348.45,1108.90 349.39,1108.90 350.33,1108.90 351.28,1108.90 352.22,1108.90 353.16,1108.90 354.10,1108.90 355.04,1108.90 355.98,1108.90 356.92,1108.90 357.86,1108.90 358.80,1108.90 359.74,1108.90 360.68,1108.90 361.62,1108.90 362.56,1108.90 363.50,1108.90 364.44,1108.90 365.38,1108.90 366.32,1108.90 367.26,1108.90 368.20,1108.90 369.14,1108.90 370.08,1108.90 371.02,1108.90 371.96,1108.90 372.90,1108.90 373.84,1108.90 374.78,1108.90 375.72,1108.90 376.66,1108.90 377.60,1108.90 378.54,1108.90 379.48,1108.90 380.42,1108.90 381.36,1108.90 382.30,1108.90 383.24,1108.90 384.18,1108.90 385.12,1108.90 386.06,1108.90 387.00,1108.90 387.94,1108.90 388.89,1108.90 389.83,1108.90 390.77,1108.90 391.71,1108.90 392.65,1108.90 393.59,1108.90 394.53,1108.90 395.47,1108.90 396.41,1108.90 397.35,1108.90 398.29,1108.90 399.23,1108.90 400.17,1108.90 401.11,1108.90 402.05,1108.90 402.99,1108.90 403.93,1108.90 404.87,1108.90 405.81,1108.90 406.75,1108.90 407.69,1108.90 408.63,1108.90 409.57,1108.90 410.51,1108.90 411.45,1108.89 412.39,1108.89 413.33,1108.89 414.27,1108.89 415.21,1108.89 416.15,1108.89 417.09,1108.89 418.03,1108.88 418.97,1108.88 419.91,1108.88 420.85,1108.87 421.79,1108.87 422.73,1108.86 423.67,1108.86 424.61,1108.85 425.55,1108.84 426.50,1108.83 427.44,1108.82 428.38,1108.81 429.32,1108.80 430.26,1108.79 431.20,1108.77 432.14,1108.75 433.08,1108.73 434.02,1108.71 434.96,1108.68 435.90,1108.65 436.84,1108.62 437.78,1108.58 438.72,1108.54 439.66,1108.50 440.60,1108.45 441.54,1108.39 442.48,1108.33 443.42,1108.26 444.36,1108.19 445.30,1108.11 446.24,1108.02 447.18,1107.92 448.12,1107.81 449.06,1107.70 450.00,1107.57 450.94,1107.43 451.88,1107.28 452.82,1107.11 453.76,1106.94 454.70,1106.74 455.64,1106.53 456.58,1106.31 457.52,1106.06 458.46,1105.80 459.40,1105.51 460.34,1105.21 461.28,1104.88 462.22,1104.53 463.16,1104.16 464.11,1103.75 465.05,1103.32 465.99,1102.87 466.93,1102.38 467.87,1101.86 468.81,1101.31 469.75,1100.72 470.69,1100.10 471.63,1099.44 472.57,1098.74 473.51,1098.00 474.45,1097.23 475.39,1096.40 476.33,1095.54 477.27,1094.63 478.21,1093.67 479.15,1092.67 480.09,1091.61 481.03,1090.51 481.97,1089.35 482.91,1088.14 483.85,1086.88 484.79,1085.56 485.73,1084.19 486.67,1082.76 487.61,1081.27 488.55,1079.72 489.49,1078.11 490.43,1076.44 491.37,1074.71 492.31,1072.92 493.25,1071.06 494.19,1069.15 495.13,1067.17 496.07,1065.12 497.01,1063.02 497.95,1060.85 498.89,1058.62 499.83,1056.32 500.77,1053.96 501.72,1051.54 502.66,1049.06 503.60,1046.51 504.54,1043.91 505.48,1041.24 506.42,1038.52 507.36,1035.74 508.30,1032.90 509.24,1030.01 510.18,1027.06 511.12,1024.06 512.06,1021.01 513.00,1017.91 513.94,1014.76 514.88,1011.56 515.82,1008.32 516.76,1005.04 517.70,1001.72 518.64,998.36 519.58,994.96 520.52,991.53 521.46,988.08 522.40,984.59 523.34,981.07 524.28,977.54 525.22,973.98 526.16,970.40 527.10,966.81 528.04,963.21 528.98,959.60 529.92,955.98 530.86,952.36 531.80,948.73 532.74,945.11 533.68,941.49 534.62,937.89 535.56,934.29 536.50,930.70 537.44,927.13 538.38,923.59 539.33,920.06 540.27,916.56 541.21,913.09 542.15,909.65 543.09,906.24 544.03,902.87 544.97,899.54 545.91,896.25 546.85,893.00 547.79,889.80 548.73,886.65 549.67,883.55 550.61,880.51 551.55,877.53 552.49,874.60 553.43,871.73 554.37,868.93 555.31,866.19 556.25,863.52 557.19,860.91 558.13,858.38 559.07,855.92 560.01,853.53 560.95,851.22 561.89,848.98 562.83,846.83 563.77,844.75 564.71,842.75 565.65,840.83 566.59,839.00 567.53,837.24 568.47,835.57 569.41,833.99 570.35,832.49 571.29,831.08 572.23,829.75 573.17,828.51 574.11,827.35 575.05,826.28 575.99,825.30 576.94,824.40 577.88,823.59 578.82,822.87 579.76,822.23 580.70,821.68 581.64,821.21 582.58,820.83 583.52,820.53 584.46,820.32 585.40,820.19 586.34,820.14 587.28,820.17 588.22,820.28 589.16,820.47 590.10,820.74 591.04,821.09 591.98,821.51 592.92,822.01 593.86,822.58 594.80,823.23 595.74,823.94 596.68,824.73 597.62,825.59 598.56,826.51 599.50,827.50 600.44,828.55 601.38,829.67 602.32,830.85 603.26,832.08 604.20,833.38 605.14,834.73 606.08,836.14 607.02,837.61 607.96,839.12 608.90,840.69 609.84,842.30 610.78,843.96 611.72,845.67 612.66,847.43 613.60,849.22 614.55,851.06 615.49,852.93 616.43,854.85 617.37,856.80 618.31,858.78 619.25,860.80 620.19,862.85 621.13,864.93 622.07,867.04 623.01,869.17 623.95,871.33 624.89,873.52 625.83,875.73 626.77,877.95 627.71,880.20 628.65,882.47 629.59,884.75 630.53,887.05 631.47,889.36 632.41,891.68 633.35,894.02 634.29,896.37 635.23,898.72 636.17,901.08 637.11,903.45 638.05,905.83 638.99,908.21 639.93,910.59 640.87,912.97 641.81,915.36 642.75,917.74 643.69,920.12 644.63,922.50 645.57,924.88 646.51,927.26 647.45,929.62 648.39,931.99 649.33,934.34 650.27,936.69 651.21,939.03 652.16,941.36 653.10,943.69 654.04,946.00 654.98,948.30 655.92,950.58 656.86,952.86 657.80,955.12 658.74,957.37 659.68,959.60 660.62,961.82 661.56,964.03 662.50,966.22 663.44,968.39 664.38,970.54 665.32,972.68 666.26,974.80 667.20,976.91 668.14,978.99 669.08,981.06 670.02,983.10 670.96,985.13 671.90,987.14 672.84,989.13 673.78,991.09 674.72,993.04 675.66,994.97 676.60,996.88 677.54,998.76 678.48,1000.63 679.42,1002.47 680.36,1004.30 681.30,1006.10 682.24,1007.88 683.18,1009.64 684.12,1011.38 685.06,1013.09 686.00,1014.79 686.94,1016.46 687.88,1018.11 688.82,1019.74 689.77,1021.35 690.71,1022.94 691.65,1024.51 692.59,1026.05 693.53,1027.57 694.47,1029.07 695.41,1030.55 696.35,1032.01 697.29,1033.45 698.23,1034.87 699.17,1036.26 700.11,1037.64 701.05,1038.99 701.99,1040.33 702.93,1041.64 703.87,1042.93 704.81,1044.21 705.75,1045.46 706.69,1046.69 707.63,1047.91 708.57,1049.10 709.51,1050.28 710.45,1051.43 711.39,1052.57 712.33,1053.69 713.27,1054.79 714.21,1055.87 715.15,1056.93 716.09,1057.98 717.03,1059.00 717.97,1060.01 718.91,1061.01 719.85,1061.98 720.79,1062.94 721.73,1063.88 722.67,1064.80 723.61,1065.71 724.55,1066.60 725.49,1067.48 726.43,1068.34 727.38,1069.18 728.32,1070.01 729.26,1070.82 730.20,1071.62 731.14,1072.41 732.08,1073.18 733.02,1073.93 733.96,1074.67 734.90,1075.40 735.84,1076.11 736.78,1076.81 737.72,1077.49 738.66,1078.17 739.60,1078.83 740.54,1079.47 741.48,1080.11 742.42,1080.73 743.36,1081.34 744.30,1081.94 745.24,1082.52 746.18,1083.10 747.12,1083.66 748.06,1084.21 749.00,1084.75 749.94,1085.28 750.88,1085.80 751.82,1086.31 752.76,1086.81 753.70,1087.30 754.64,1087.78 755.58,1088.24 756.52,1088.70 757.46,1089.15 758.40,1089.59 759.34,1090.02 760.28,1090.45 761.22,1090.86 762.16,1091.26 763.10,1091.66 764.04,1092.05 764.99,1092.43 765.93,1092.80 766.87,1093.16 767.81,1093.52 768.75,1093.87 769.69,1094.21 770.63,1094.54 771.57,1094.87 772.51,1095.19 773.45,1095.50 774.39,1095.81 775.33,1096.11 776.27,1096.40 777.21,1096.69 778.15,1096.97 779.09,1097.24 780.03,1097.51 780.97,1097.77 781.91,1098.03 782.85,1098.28 783.79,1098.52 784.73,1098.76 785.67,1099.00 786.61,1099.23 787.55,1099.45 788.49,1099.67 789.43,1099.89 790.37,1100.10 791.31,1100.30 792.25,1100.50 793.19,1100.70 794.13,1100.89 795.07,1101.08 796.01,1101.26 796.95,1101.44 797.89,1101.61 798.83,1101.78 799.77,1101.95 800.71,1102.11 801.65,1102.27 802.60,1102.43 803.54,1102.58 804.48,1102.73 805.42,1102.88 806.36,1103.02 807.30,1103.16 808.24,1103.29 809.18,1103.43 810.12,1103.56 811.06,1103.68 812.00,1103.81 812.94,1103.93 813.88,1104.05 814.82,1104.16 815.76,1104.27 816.70,1104.38 817.64,1104.49 818.58,1104.60 819.52,1104.70 820.46,1104.80 821.40,1104.90" stroke="#0000ff" stroke-width="1.4"/>
<path d="M69.20 805.70H821.40V1108.90H69.20ZM69.20 805.70v10.90M69.20 1108.90v-10.90M106.81 805.70v5.70M106.81 1108.90v-5.70M144.42 805.70v5.70M144.42 1108.90v-5.70M182.03 805.70v5.70M182.03 1108.90v-5.70M219.64 805.70v5.70M219.64 1108.90v-5.70M257.25 805.70v10.90M257.25 1108.90v-10.90M294.86 805.70v5.70M294.86 1108.90v-5.70M332.47 805.70v5.70M332.47 1108.90v-5.70M370.08 805.70v5.70M370.08 1108.90v-5.70M407.69 805.70v5.70M407.69 1108.90v-5.70M445.30 805.70v10.90M445.30 1108.90v-10.90M482.91 805.70v5.70M482.91 1108.90v-5.70M520.52 805.70v5.70M520.52 1108.90v-5.70M558.13 805.70v5.70M558.13 1108.90v-5.70M595.74 805.70v5.70M595.74 1108.90v-5.70M633.35 805.70v10.90M633.35 1108.90v-10.90M670.96 805.70v5.70M670.96 1108.90v-5.70M708.57 805.70v5.70M708.57 1108.90v-5.70M746.18 805.70v5.70M746.18 1108.90v-5.70M783.79 805.70v5.70M783.79 1108.90v-5.70M821.40 805.70v10.90M821.40 1108.90v-10.90M69.20 1108.90h10.90M821.40 1108.90h-10.90M69.20 1080.02h5.70M821.40 1080.02h-5.70M69.20 1051.15h5.70M821.40 1051.15h-5.70M69.20 1022.27h5.70M821.40 1022.27h-5.70M69.20 993.40h5.70M821.40 993.40h-5.70M69.20 964.52h10.90M821.40 964.52h-10.90M69.20 935.64h5.70M821.40 935.64h-5.70M69.20 906.77h5.70M821.40 906.77h-5.70M69.20 877.89h5.70M821.40 877.89h-5.70M69.20 849.01h5.70M821.40 849.01h-5.70M69.20 820.14h10.90M821.40 820.14h-10.90" stroke="#000" stroke-width="1.4" stroke-linejoin="miter"/>
<path d="M68.47 1122.07L69.93 1122.07L72.12 1122.80L73.58 1124.99L74.31 1128.64L74.31 1130.83L73.58 1134.48L72.12 1136.67L69.93 1137.40L68.47 1137.40L66.28 1136.67L64.82 1134.48L64.09 1130.83L64.09 1128.64L64.82 1124.99L66.28 1122.80L68.47 1122.07" stroke="#000" stroke-width="1.45"/>
<path d="M254.33 1124.99L255.79 1124.26L257.98 1122.07L257.98 1137.40" stroke="#000" stroke-width="1.45"/>
<path d="M440.92 1125.72L440.92 1124.99L441.65 1123.53L442.38 1122.80L443.84 1122.07L446.76 1122.07L448.22 1122.80L448.95 1123.53L449.68 1124.99L449.68 1126.45L448.95 1127.91L447.49 1130.10L440.19 1137.40L450.41 1137.40" stroke="#000" stroke-width="1.45"/>
<path d="M629.70 1122.07L637.73 1122.07L633.35 1127.91L635.54 1127.91L637.00 1128.64L637.73 1129.37L638.46 1131.56L638.46 1133.02L637.73 1135.21L636.27 1136.67L634.08 1137.40L631.89 1137.40L629.70 1136.67L628.97 1135.94L628.24 1134.48" stroke="#000" stroke-width="1.45"/>
<path d="M827.24 1132.29L823.59 1132.29L823.59 1122.07L816.29 1132.29L823.59 1132.29L823.59 1137.40" stroke="#000" stroke-width="1.45"/>
<path d="M37.77 1109.63L37.77 1108.17L38.50 1105.98L40.69 1104.52L44.34 1103.79L46.53 1103.79L50.18 1104.52L52.37 1105.98L53.10 1108.17L53.10 1109.63L52.37 1111.82L50.18 1113.28L46.53 1114.01L44.34 1114.01L40.69 1113.28L38.50 1111.82L37.77 1109.63" stroke="#000" stroke-width="1.45"/>
<path d="M37.77 976.20L37.77 974.74L38.50 972.55L40.69 971.09L44.34 970.36L46.53 970.36L50.18 971.09L52.37 972.55L53.10 974.74L53.10 976.20L52.37 978.39L50.18 979.85L46.53 980.58L44.34 980.58L40.69 979.85L38.50 978.39L37.77 976.20M51.64 964.52L52.37 965.25L53.10 964.52L52.37 963.79L51.64 964.52M52.37 964.52L52.37 964.52M37.77 949.92L37.77 957.22L44.34 957.95L43.61 957.22L42.88 955.03L42.88 952.84L43.61 950.65L45.07 949.19L47.26 948.46L48.72 948.46L50.91 949.19L52.37 950.65L53.10 952.84L53.10 955.03L52.37 957.22L51.64 957.95L50.18 958.68" stroke="#000" stroke-width="1.45"/>
<path d="M40.69 823.06L39.96 821.60L37.77 819.41L53.10 819.41" stroke="#000" stroke-width="1.45"/>
<path d="M8.73 1053.90L13.56 1053.90L11.14 1053.10L9.53 1051.49L8.73 1049.88L8.73 1047.46M13.56 1053.90L20.00 1053.90M13.56 1044.24L11.14 1043.44L9.53 1041.83L8.73 1040.22L8.73 1037.80L9.53 1036.19L10.34 1035.38L11.95 1034.58L13.56 1034.58L13.56 1044.24L15.17 1044.24L17.58 1043.44L19.19 1041.83L20.00 1040.22L20.00 1037.80L19.19 1036.19L17.58 1034.58M3.09 1028.95L20.00 1028.95M8.73 1013.65L11.14 1013.65L9.53 1015.26L8.73 1016.87L8.73 1019.29L9.53 1020.90L11.14 1022.51L13.56 1023.31L15.17 1023.31L17.58 1022.51L19.19 1020.90L20.00 1019.29L20.00 1016.87L19.19 1015.26L17.58 1013.65L11.14 1013.65M17.58 1013.65L20.00 1013.65M3.09 1006.41L8.73 1006.41L8.73 1008.82M8.73 1003.19L8.73 1006.41L16.78 1006.41L19.19 1005.60L20.00 1003.99L20.00 1002.38M8.73 997.55L20.00 997.55M2.29 997.55L3.09 998.36L3.90 997.55L3.09 996.75L2.29 997.55M8.73 992.72L20.00 987.89L8.73 983.06M13.56 979.04L11.14 978.23L9.54 976.62L8.73 975.01L8.73 972.60L9.54 970.99L10.34 970.18L11.95 969.38L13.56 969.38L13.56 979.04L15.17 979.04L17.59 978.23L19.20 976.62L20.00 975.01L20.00 972.60L19.20 970.99L17.59 969.38M3.09 946.03L3.09 947.64L3.90 949.25L6.31 950.06L8.73 950.06L8.73 952.47M8.73 946.84L8.73 950.06L20.00 950.06M8.73 941.20L13.56 941.20L11.14 940.40L9.54 938.79L8.73 937.18L8.73 934.76M13.56 941.20L20.00 941.20M8.73 921.88L11.15 921.88L9.54 923.49L8.73 925.10L8.73 927.52L9.54 929.13L11.14 930.74L13.56 931.54L15.17 931.54L17.59 930.74L19.20 929.13L20.00 927.52L20.00 925.10L19.20 923.49L17.59 921.88L11.15 921.88M17.59 921.88L20.00 921.88M11.15 906.59L9.54 908.20L8.73 909.81L8.73 912.22L9.54 913.83L11.15 915.44L13.56 916.25L15.17 916.25L17.59 915.44L19.20 913.83L20.00 912.22L20.00 909.81L19.20 908.20L17.59 906.59M3.10 900.15L8.73 900.15L8.73 902.56M8.73 896.93L8.73 900.15L16.78 900.15L19.20 899.34L20.00 897.73L20.00 896.12M8.73 891.29L20.00 891.29M2.29 891.29L3.10 892.10L3.90 891.29L3.10 890.49L2.29 891.29M8.73 881.63L8.73 879.22L9.54 877.61L11.15 876.00L13.56 875.19L15.17 875.19L17.59 876.00L19.20 877.61L20.00 879.22L20.00 881.63L19.20 883.24L17.59 884.85L15.17 885.66L13.56 885.66L11.15 884.85L9.54 883.24L8.73 881.63M8.73 869.56L11.95 869.56L9.54 867.14L8.73 865.53L8.73 863.12L9.54 861.51L11.95 860.70L20.00 860.70M11.95 869.56L20.00 869.56" stroke="#000" stroke-width="1.45"/>
<path d="M72.40 12.30L72.40 3.50L79.60 3.50L82.00 4.30L82.80 5.10L83.60 6.70L83.60 9.10L82.80 10.70L82.00 11.50L79.60 12.30L72.40 12.30L72.40 20.30M99.60 5.90L98.00 4.30L95.60 3.50L92.40 3.50L90.00 4.30L88.40 5.90L88.40 7.50L89.20 9.10L90.00 9.90L91.60 10.70L96.40 12.30L98.00 13.10L98.80 13.90L99.60 15.50L99.60 17.90L98.00 19.50L95.60 20.30L92.40 20.30L90.00 19.50L88.40 17.90M105.20 11.50L105.20 3.50L112.40 3.50L114.80 4.30L115.60 5.10L116.40 6.70L116.40 8.30L115.60 9.90L114.80 10.70L112.40 11.50L105.20 11.50L105.20 20.30M110.80 11.50L116.40 20.30M122.00 11.50L122.00 3.50L129.20 3.50L131.60 4.30L132.40 5.10L133.20 6.70L133.20 8.30L132.40 9.90L131.60 10.70L129.20 11.50L122.00 11.50L122.00 20.30L129.20 20.30L131.60 19.50L132.40 18.70L133.20 17.10L133.20 14.70L132.40 13.10L131.60 12.30L129.20 11.50M142.80 3.50L144.40 3.50L146.80 4.30L148.40 6.70L149.20 10.70L149.20 13.10L148.40 17.10L146.80 19.50L144.40 20.30L142.80 20.30L140.40 19.50L138.80 17.10L138.00 13.10L138.00 10.70L138.80 6.70L140.40 4.30L142.80 3.50M156.40 6.70L158.00 5.90L160.40 3.50L160.40 20.30M171.60 3.50L180.40 3.50L175.60 9.90L178.00 9.90L179.60 10.70L180.40 11.50L181.20 13.90L181.20 15.50L180.40 17.90L178.80 19.50L176.40 20.30L174.00 20.30L171.60 19.50L170.80 18.70L170.00 17.10M196.40 5.90L195.60 4.30L193.20 3.50L191.60 3.50L189.20 4.30L187.60 6.70L186.80 10.70L186.80 14.70L187.60 12.30L189.20 10.70L191.60 9.90L192.40 9.90L194.80 10.70L196.40 12.30L197.20 14.70L197.20 15.50L196.40 17.90L194.80 19.50L192.40 20.30L191.60 20.30L189.20 19.50L187.60 17.90L186.80 14.70M210.00 5.90L210.00 13.10L202.80 13.10M217.20 13.10L210.00 13.10L210.00 20.30M232.40 3.50L224.40 3.50L223.60 10.70L224.40 9.90L226.80 9.10L229.20 9.10L231.60 9.90L233.20 11.50L234.00 13.90L234.00 15.50L233.20 17.90L231.60 19.50L229.20 20.30L226.80 20.30L224.40 19.50L223.60 18.70L222.80 17.10M238.80 3.50L250.00 3.50L242.00 20.30" stroke="#000" stroke-width="1.45"/>
<path d="M335.86 6.40L335.86 21.60M341.66 12.91L354.69 12.91M341.66 17.26L354.69 17.26M361.93 9.29L363.38 8.57L365.55 6.40L365.55 21.60M374.96 10.02L374.96 9.29L375.68 7.84L376.41 7.12L377.86 6.40L380.75 6.40L382.20 7.12L382.92 7.84L383.65 9.29L383.65 10.74L382.92 12.19L381.48 14.36L374.24 21.60L384.37 21.60M398.13 11.46L397.40 8.57L395.96 7.12L393.78 6.40L393.06 6.40L390.89 7.12L389.44 8.57L388.72 10.74L388.72 11.46L389.44 13.64L390.89 15.08L393.06 15.81L393.78 15.81L395.96 15.08L397.40 13.64L398.13 11.46L398.13 15.08L397.40 18.70L395.96 20.88L393.78 21.60L392.34 21.60L390.16 20.88L389.44 19.43M404.64 20.15L403.92 20.88L404.64 21.60L405.37 20.88L404.64 20.15M404.64 20.88L404.64 20.88M411.16 10.02L411.16 9.29L411.88 7.84L412.61 7.12L414.06 6.40L416.95 6.40L418.40 7.12L419.12 7.84L419.85 9.29L419.85 10.74L419.12 12.19L417.68 14.36L410.44 21.60L420.57 21.60M425.64 10.02L425.64 9.29L426.36 7.84L427.09 7.12L428.54 6.40L431.43 6.40L432.88 7.12L433.60 7.84L434.33 9.29L434.33 10.74L433.60 12.19L432.16 14.36L424.92 21.60L435.05 21.60M441.57 2.41L443.20 2.41L444.28 2.96L445.37 4.04L445.91 5.67L445.91 6.76L445.37 8.39L444.28 9.47L443.20 10.02L441.57 10.02L440.48 9.47L439.40 8.39L438.85 6.76L438.85 5.67L439.40 4.04L440.48 2.96L441.57 2.41M451.88 20.88L451.16 20.15L450.44 20.88L451.16 21.60L451.88 20.88L451.88 22.32L451.16 23.77L450.44 24.50M451.16 20.88L451.16 20.88M457.68 6.40L457.68 13.64L459.12 12.19L460.57 11.46L462.75 11.46L464.19 12.19L465.64 13.64L466.37 15.81L466.37 17.26L465.64 19.43L464.19 20.88L462.75 21.60L460.57 21.60L459.12 20.88L457.68 19.43L457.68 13.64M457.68 19.43L457.68 21.60M471.43 12.91L484.46 12.91M471.43 17.26L484.46 17.26M501.84 15.08L514.87 15.08M530.80 16.53L527.18 16.53L527.18 6.40L519.94 16.53L527.18 16.53L527.18 21.60M535.87 20.15L535.14 20.88L535.87 21.60L536.59 20.88L535.87 20.15M535.87 20.88L535.87 20.88M546.00 6.40L547.45 6.40L549.62 7.12L551.07 9.29L551.80 12.91L551.80 15.08L551.07 18.70L549.62 20.88L547.45 21.60L546.00 21.60L543.83 20.88L542.38 18.70L541.66 15.08L541.66 12.91L542.38 9.29L543.83 7.12L546.00 6.40M567.00 16.53L563.38 16.53L563.38 6.40L556.14 16.53L563.38 16.53L563.38 21.60M572.79 2.41L574.42 2.41L575.51 2.96L576.59 4.04L577.14 5.67L577.14 6.76L576.59 8.39L575.51 9.47L574.42 10.02L572.79 10.02L571.71 9.47L570.62 8.39L570.08 6.76L570.08 5.67L570.62 4.04L571.71 2.96L572.79 2.41M583.11 20.88L582.39 20.15L581.66 20.88L582.39 21.60L583.11 20.88L583.11 22.32L582.39 23.77L581.66 24.50M582.39 20.88L582.39 20.88M600.49 11.46L600.49 13.64L601.93 12.19L603.38 11.46L605.55 11.46L607.00 12.19L608.45 13.64L609.17 15.81L609.17 17.26L608.45 19.43L607.00 20.88L605.55 21.60L603.38 21.60L601.93 20.88L600.49 19.43L600.49 13.64M600.49 19.43L600.49 26.67M614.24 6.40L614.24 11.46M625.10 3.50L623.65 4.95L622.21 7.12L620.76 10.02L620.03 13.64L620.03 16.53L620.76 20.15L622.21 23.05L623.65 25.22L625.10 26.67M630.17 11.46L630.17 14.36L632.34 12.19L633.79 11.46L635.96 11.46L637.41 12.19L638.13 14.36L640.31 12.19L641.75 11.46L643.93 11.46L645.37 12.19L646.10 14.36L646.10 21.60M638.13 14.36L638.13 21.60M630.17 14.36L630.17 21.60M659.85 11.46L659.85 13.64L658.41 12.19L656.96 11.46L654.79 11.46L653.34 12.19L651.89 13.64L651.17 15.81L651.17 17.26L651.89 19.43L653.34 20.88L654.79 21.60L656.96 21.60L658.41 20.88L659.85 19.43L659.85 13.64M659.85 19.43L659.85 21.60M672.89 13.64L672.16 12.19L669.99 11.46L667.82 11.46L665.65 12.19L664.92 13.64L665.65 15.08L667.09 15.81L670.71 16.53L672.16 17.26L672.89 18.70L672.89 19.43L672.16 20.88L669.99 21.60L667.82 21.60L665.65 20.88L664.92 19.43M677.23 3.50L678.68 4.95L680.13 7.12L681.57 10.02L682.30 13.64L682.30 16.53L681.57 20.15L680.13 23.05L678.68 25.22L677.23 26.67M688.09 12.91L701.12 12.91M688.09 17.26L701.12 17.26M710.53 6.40L711.98 6.40L714.15 7.12L715.60 9.29L716.33 12.91L716.33 15.08L715.60 18.70L714.15 20.88L711.98 21.60L710.53 21.60L708.36 20.88L706.91 18.70L706.19 15.08L706.19 12.91L706.91 9.29L708.36 7.12L710.53 6.40M722.12 20.15L721.39 20.88L722.12 21.60L722.84 20.88L722.12 20.15M722.12 20.88L722.12 20.88M729.36 6.40L737.32 6.40L732.98 12.19L735.15 12.19L736.60 12.91L737.32 13.64L738.05 15.81L738.05 17.26L737.32 19.43L735.87 20.88L733.70 21.60L731.53 21.60L729.36 20.88L728.63 20.15L727.91 18.70M742.39 6.40L752.53 6.40L745.29 21.60M762.66 3.50L761.21 4.95L759.77 7.12L758.32 10.02L757.59 13.64L757.59 16.53L758.32 20.15L759.77 23.05L761.21 25.22L762.66 26.67M771.35 6.40L772.80 6.40L774.97 7.12L776.42 9.29L777.14 12.91L777.14 15.08L776.42 18.70L774.97 20.88L772.80 21.60L771.35 21.60L769.18 20.88L767.73 18.70L767.01 15.08L767.01 12.91L767.73 9.29L769.18 7.12L771.35 6.40M782.93 20.15L782.21 20.88L782.93 21.60L783.66 20.88L782.93 20.15M782.93 20.88L782.93 20.88M793.07 6.40L794.52 6.40L796.69 7.12L798.14 9.29L798.86 12.91L798.86 15.08L798.14 18.70L796.69 20.88L794.52 21.60L793.07 21.60L790.90 20.88L789.45 18.70L788.73 15.08L788.73 12.91L789.45 9.29L790.90 7.12L793.07 6.40M814.07 16.53L810.45 16.53L810.45 6.40L803.21 16.53L810.45 16.53L810.45 21.60M817.69 3.50L819.13 4.95L820.58 7.12L822.03 10.02L822.75 13.64L822.75 16.53L822.03 20.15L820.58 23.05L819.13 25.22L817.69 26.67" stroke="#000" stroke-width="1.45"/>
<path d="M74.47 403.86L70.12 419.07M73.74 406.76L73.02 410.38L73.02 412.55L73.74 413.64L75.19 414.00L76.64 414.00L78.09 413.28L79.54 411.83L80.98 408.93M82.79 403.86L80.98 410.38L80.77 412.55L81.20 413.64L82.07 414.00L83.16 413.64L84.24 412.19M87.50 398.80L87.50 403.86M89.49 415.09L88.41 415.63L87.32 416.71L86.78 417.80L86.23 419.43L86.23 421.06L86.78 422.14L87.86 422.69L88.95 422.69L90.03 422.14L91.12 420.52L92.21 418.34L93.29 415.09M89.49 415.09L90.58 415.09L91.12 415.63L91.66 416.71L92.75 421.06L93.29 422.14L93.84 422.69L94.38 422.69M100.35 414.54L100.35 417.80L97.64 416.17M103.07 416.17L100.35 417.80L100.35 421.06M97.64 419.43L100.35 417.80L103.07 419.43M112.66 395.90L111.21 397.35L109.76 399.52L108.31 402.42L107.59 406.04L107.59 408.93L108.31 412.55L109.76 415.45L111.21 417.62L112.66 419.07M117.73 398.80L117.73 411.10L124.97 403.86M120.62 408.21L125.69 414.00M117.73 411.10L117.73 414.00M130.03 403.86L130.03 406.76L132.21 404.59L133.66 403.86L135.83 403.86L137.28 404.59L138.00 406.76L140.17 404.59L141.62 403.86L143.79 403.86L145.24 404.59L145.96 406.76L145.96 414.00M138.00 406.76L138.00 414.00M130.03 406.76L130.03 414.00M163.34 395.90L150.31 419.07M174.92 406.04L174.20 404.59L172.03 403.86L169.86 403.86L167.68 404.59L166.96 406.04L167.68 407.48L169.13 408.21L172.75 408.93L174.20 409.66L174.92 411.10L174.92 411.83L174.20 413.28L172.03 414.00L169.86 414.00L167.68 413.28L166.96 411.83M191.57 395.90L178.54 419.07M195.92 398.80L195.92 411.10L203.16 403.86M198.81 408.21L203.88 414.00M195.92 411.10L195.92 414.00M208.23 403.86L208.23 406.04L209.68 404.59L211.12 403.86L213.29 403.86L214.74 404.59L216.19 406.04L216.91 408.21L216.91 409.66L216.19 411.83L214.74 413.28L213.29 414.00L211.12 414.00L209.68 413.28L208.23 411.83L208.23 406.04M208.23 411.83L208.23 419.07M229.95 406.04L228.50 404.59L227.05 403.86L224.88 403.86L223.43 404.59L221.98 406.04L221.26 408.21L221.26 409.66L221.98 411.83L223.43 413.28L224.88 414.00L227.05 414.00L228.50 413.28L229.95 411.83M234.29 395.90L235.74 397.35L237.19 399.52L238.63 402.42L239.36 406.04L239.36 408.93L238.63 412.55L237.19 415.45L235.74 417.62L234.29 419.07M245.15 405.31L258.18 405.31M245.15 409.66L258.18 409.66M275.56 407.48L288.59 407.48M303.07 403.86L302.35 400.97L300.90 399.52L298.73 398.80L298.00 398.80L295.83 399.52L294.38 400.97L293.66 403.14L293.66 403.86L294.38 406.04L295.83 407.48L298.00 408.21L298.73 408.21L300.90 407.48L302.35 406.04L303.07 403.86L303.07 407.48L302.35 411.10L300.90 413.28L298.73 414.00L297.28 414.00L295.11 413.28L294.38 411.83M312.48 398.80L313.93 398.80L316.10 399.52L317.55 401.69L318.27 405.31L318.27 407.48L317.55 411.10L316.10 413.28L313.93 414.00L312.48 414.00L310.31 413.28L308.86 411.10L308.14 407.48L308.14 405.31L308.86 401.69L310.31 399.52L312.48 398.80M324.07 412.55L323.34 413.28L324.07 414.00L324.79 413.28L324.07 412.55M324.07 413.28L324.07 413.28M338.55 398.80L331.31 398.80L330.58 405.31L331.31 404.59L333.48 403.86L335.65 403.86L337.82 404.59L339.27 406.04L340.00 408.21L340.00 409.66L339.27 411.83L337.82 413.28L335.65 414.00L333.48 414.00L331.31 413.28L330.58 412.55L329.86 411.10M347.96 398.80L350.86 398.80L353.03 399.52L353.75 400.97L353.75 402.42L353.03 403.86L351.58 404.59L348.68 405.31L346.51 406.04L345.06 407.48L344.34 408.93L344.34 411.10L345.06 412.55L345.79 413.28L347.96 414.00L350.86 414.00L353.03 413.28L353.75 412.55L354.48 411.10L354.48 408.93L353.75 407.48L352.30 406.04L350.13 405.31L347.24 404.59L345.79 403.86L345.06 402.42L345.06 400.97L345.79 399.52L347.96 398.80M364.61 395.90L363.16 397.35L361.72 399.52L360.27 402.42L359.54 406.04L359.54 408.93L360.27 412.55L361.72 415.45L363.16 417.62L364.61 419.07M373.30 398.80L374.75 398.80L376.92 399.52L378.37 401.69L379.09 405.31L379.09 407.48L378.37 411.10L376.92 413.28L374.75 414.00L373.30 414.00L371.13 413.28L369.68 411.10L368.96 407.48L368.96 405.31L369.68 401.69L371.13 399.52L373.30 398.80M384.88 412.55L384.16 413.28L384.88 414.00L385.61 413.28L384.88 412.55M384.88 413.28L384.88 413.28M392.12 398.80L400.09 398.80L395.74 404.59L397.91 404.59L399.36 405.31L400.09 406.04L400.81 408.21L400.81 409.66L400.09 411.83L398.64 413.28L396.47 414.00L394.29 414.00L392.12 413.28L391.40 412.55L390.67 411.10M406.60 398.80L414.57 398.80L410.22 404.59L412.39 404.59L413.84 405.31L414.57 406.04L415.29 408.21L415.29 409.66L414.57 411.83L413.12 413.28L410.95 414.00L408.77 414.00L406.60 413.28L405.88 412.55L405.15 411.10M419.63 395.90L421.08 397.35L422.53 399.52L423.98 402.42L424.70 406.04L424.70 408.93L423.98 412.55L422.53 415.45L421.08 417.62L419.63 419.07" stroke="#000" stroke-width="1.45"/>
<path d="M475.47 403.66L471.12 418.87M474.74 406.56L474.02 410.18L474.02 412.35L474.74 413.44L476.19 413.80L477.64 413.80L479.09 413.08L480.54 411.63L481.98 408.73M483.79 403.66L481.98 410.18L481.77 412.35L482.20 413.44L483.07 413.80L484.16 413.44L485.24 411.99M488.50 398.60L488.50 403.66M493.75 413.53L492.66 412.33L491.31 411.63L490.33 411.74L489.73 412.44L489.95 413.64L491.31 414.99L492.66 416.19L493.48 417.93L493.37 419.94L492.39 421.62L490.65 422.49L489.08 422.27L487.78 420.97L487.40 419.23L487.94 417.17L489.24 415.70L490.65 414.99L491.31 414.99M503.34 395.70L501.89 397.15L500.45 399.32L499.00 402.22L498.27 405.84L498.27 408.73L499.00 412.35L500.45 415.25L501.89 417.42L503.34 418.87M508.41 398.60L508.41 410.90L515.65 403.66M511.31 408.01L516.37 413.80M508.41 410.90L508.41 413.80M520.72 403.66L520.72 406.56L522.89 404.39L524.34 403.66L526.51 403.66L527.96 404.39L528.68 406.56L530.85 404.39L532.30 403.66L534.47 403.66L535.92 404.39L536.65 406.56L536.65 413.80M528.68 406.56L528.68 413.80M520.72 406.56L520.72 413.80M554.02 395.70L540.99 418.87M565.61 405.84L564.88 404.39L562.71 403.66L560.54 403.66L558.37 404.39L557.64 405.84L558.37 407.28L559.81 408.01L563.43 408.73L564.88 409.46L565.61 410.90L565.61 411.63L564.88 413.08L562.71 413.80L560.54 413.80L558.37 413.08L557.64 411.63M582.26 395.70L569.23 418.87M586.60 398.60L586.60 410.90L593.84 403.66M589.50 408.01L594.57 413.80M586.60 410.90L586.60 413.80M598.91 403.66L598.91 405.84L600.36 404.39L601.81 403.66L603.98 403.66L605.43 404.39L606.87 405.84L607.60 408.01L607.60 409.46L606.87 411.63L605.43 413.08L603.98 413.80L601.81 413.80L600.36 413.08L598.91 411.63L598.91 405.84M598.91 411.63L598.91 418.87M620.63 405.84L619.18 404.39L617.73 403.66L615.56 403.66L614.11 404.39L612.67 405.84L611.94 408.01L611.94 409.46L612.67 411.63L614.11 413.08L615.56 413.80L617.73 413.80L619.18 413.08L620.63 411.63M624.97 395.70L626.42 397.15L627.87 399.32L629.32 402.22L630.04 405.84L630.04 408.73L629.32 412.35L627.87 415.25L626.42 417.42L624.97 418.87M635.83 405.11L648.87 405.11M635.83 409.46L648.87 409.46M666.24 407.28L679.27 407.28M684.34 398.60L694.48 398.60L687.24 413.80M702.44 398.60L705.34 398.60L707.51 399.32L708.23 400.77L708.23 402.22L707.51 403.66L706.06 404.39L703.17 405.11L700.99 405.84L699.55 407.28L698.82 408.73L698.82 410.90L699.55 412.35L700.27 413.08L702.44 413.80L705.34 413.80L707.51 413.08L708.23 412.35L708.96 410.90L708.96 408.73L708.23 407.28L706.79 405.84L704.61 405.11L701.72 404.39L700.27 403.66L699.55 402.22L699.55 400.77L700.27 399.32L702.44 398.60M714.75 412.35L714.03 413.08L714.75 413.80L715.47 413.08L714.75 412.35M714.75 413.08L714.75 413.08M729.95 400.77L729.23 399.32L727.06 398.60L725.61 398.60L723.44 399.32L721.99 401.49L721.27 405.11L721.27 408.73L721.99 406.56L723.44 405.11L725.61 404.39L726.33 404.39L728.51 405.11L729.95 406.56L730.68 408.73L730.68 409.46L729.95 411.63L728.51 413.08L726.33 413.80L725.61 413.80L723.44 413.08L721.99 411.63L721.27 408.73M738.64 398.60L741.54 398.60L743.71 399.32L744.43 400.77L744.43 402.22L743.71 403.66L742.26 404.39L739.37 405.11L737.19 405.84L735.75 407.28L735.02 408.73L735.02 410.90L735.75 412.35L736.47 413.08L738.64 413.80L741.54 413.80L743.71 413.08L744.43 412.35L745.16 410.90L745.16 408.73L744.43 407.28L742.99 405.84L740.81 405.11L737.92 404.39L736.47 403.66L735.75 402.22L735.75 400.77L736.47 399.32L738.64 398.60M755.29 395.70L753.85 397.15L752.40 399.32L750.95 402.22L750.23 405.84L750.23 408.73L750.95 412.35L752.40 415.25L753.85 417.42L755.29 418.87M763.98 398.60L765.43 398.60L767.60 399.32L769.05 401.49L769.77 405.11L769.77 407.28L769.05 410.90L767.60 413.08L765.43 413.80L763.98 413.80L761.81 413.08L760.36 410.90L759.64 407.28L759.64 405.11L760.36 401.49L761.81 399.32L763.98 398.60M775.57 412.35L774.84 413.08L775.57 413.80L776.29 413.08L775.57 412.35M775.57 413.08L775.57 413.08M782.81 398.60L790.77 398.60L786.43 404.39L788.60 404.39L790.05 405.11L790.77 405.84L791.49 408.01L791.49 409.46L790.77 411.63L789.32 413.08L787.15 413.80L784.98 413.80L782.81 413.08L782.08 412.35L781.36 410.90M797.29 398.60L805.25 398.60L800.91 404.39L803.08 404.39L804.53 405.11L805.25 405.84L805.97 408.01L805.97 409.46L805.25 411.63L803.80 413.08L801.63 413.80L799.46 413.80L797.29 413.08L796.56 412.35L795.84 410.90M810.32 395.70L811.77 397.15L813.21 399.32L814.66 402.22L815.39 405.84L815.39 408.73L814.66 412.35L813.21 415.25L811.77 417.42L810.32 418.87" stroke="#000" stroke-width="1.45"/>
<path d="M82.36 783.83L75.57 783.83L73.53 784.56L72.14 786.02L71.41 788.21L71.41 790.40L72.14 792.59L72.80 793.32L74.11 794.05L75.57 794.05L77.54 793.32L78.93 791.86L79.58 789.67L79.58 787.48L78.93 785.29L78.27 784.56L77.03 783.83M103.31 775.80L101.85 777.26L100.39 779.45L98.93 782.37L98.20 786.02L98.20 788.94L98.93 792.59L100.39 795.51L101.85 797.70L103.31 799.16M108.42 778.72L108.42 791.13L115.72 783.83M111.34 788.21L116.45 794.05M108.42 791.13L108.42 794.05M120.83 783.83L120.83 786.75L123.02 784.56L124.48 783.83L126.67 783.83L128.13 784.56L128.86 786.75L131.05 784.56L132.51 783.83L134.70 783.83L136.16 784.56L136.89 786.75L136.89 794.05M128.86 786.75L128.86 794.05M120.83 786.75L120.83 794.05M154.41 775.80L141.27 799.16M166.09 786.02L165.36 784.56L163.17 783.83L160.98 783.83L158.79 784.56L158.06 786.02L158.79 787.48L160.25 788.21L163.90 788.94L165.36 789.67L166.09 791.13L166.09 791.86L165.36 793.32L163.17 794.05L160.98 794.05L158.79 793.32L158.06 791.86M170.47 775.80L171.93 777.26L173.39 779.45L174.85 782.37L175.58 786.02L175.58 788.94L174.85 792.59L173.39 795.51L171.93 797.70L170.47 799.16M193.10 785.29L206.24 785.29M193.10 789.67L206.24 789.67M243.47 778.72L236.17 778.72L235.44 785.29L236.17 784.56L238.36 783.83L240.55 783.83L242.74 784.56L244.20 786.02L244.93 788.21L244.93 789.67L244.20 791.86L242.74 793.32L240.55 794.05L238.36 794.05L236.17 793.32L235.44 792.59L234.71 791.13M253.69 778.72L255.15 778.72L257.34 779.45L258.80 781.64L259.53 785.29L259.53 787.48L258.80 791.13L257.34 793.32L255.15 794.05L253.69 794.05L251.50 793.32L250.04 791.13L249.31 787.48L249.31 785.29L250.04 781.64L251.50 779.45L253.69 778.72M265.37 792.59L264.64 793.32L265.37 794.05L266.10 793.32L265.37 792.59M265.37 793.32L265.37 793.32M275.59 778.72L277.05 778.72L279.24 779.45L280.70 781.64L281.43 785.29L281.43 787.48L280.70 791.13L279.24 793.32L277.05 794.05L275.59 794.05L273.40 793.32L271.94 791.13L271.21 787.48L271.21 785.29L271.94 781.64L273.40 779.45L275.59 778.72" stroke="#000" stroke-width="1.45"/>
<path d="M416.71 781.59L418.18 780.86L420.38 778.66L420.38 794.05M433.57 778.66L435.04 778.66L437.24 779.39L438.70 781.59L439.44 785.25L439.44 787.45L438.70 791.12L437.24 793.32L435.04 794.05L433.57 794.05L431.37 793.32L429.91 791.12L429.17 787.45L429.17 785.25L429.91 781.59L431.37 779.39L433.57 778.66M448.23 778.66L449.70 778.66L451.90 779.39L453.36 781.59L454.10 785.25L454.10 787.45L453.36 791.12L451.90 793.32L449.70 794.05L448.23 794.05L446.03 793.32L444.57 791.12L443.83 787.45L443.83 785.25L444.57 781.59L446.03 779.39L448.23 778.66M459.96 792.58L459.23 793.32L459.96 794.05L460.69 793.32L459.96 792.58M459.96 793.32L459.96 793.32M470.22 778.66L471.69 778.66L473.89 779.39L475.35 781.59L476.09 785.25L476.09 787.45L475.35 791.12L473.89 793.32L471.69 794.05L470.22 794.05L468.02 793.32L466.56 791.12L465.82 787.45L465.82 785.25L466.56 781.59L468.02 779.39L470.22 778.66" stroke="#ff0000" stroke-width="1.45"/>
<path d="M759.47 778.70L767.51 778.70L763.12 784.55L765.31 784.55L766.77 785.28L767.51 786.01L768.24 788.20L768.24 789.66L767.51 791.86L766.04 793.32L763.85 794.05L761.66 794.05L759.47 793.32L758.73 792.59L758.00 791.13M777.01 778.70L778.47 778.70L780.66 779.43L782.13 781.62L782.86 785.28L782.86 787.47L782.13 791.13L780.66 793.32L778.47 794.05L777.01 794.05L774.82 793.32L773.35 791.13L772.62 787.47L772.62 785.28L773.35 781.62L774.82 779.43L777.01 778.70M791.63 778.70L793.09 778.70L795.28 779.43L796.75 781.62L797.48 785.28L797.48 787.47L796.75 791.13L795.28 793.32L793.09 794.05L791.63 794.05L789.44 793.32L787.97 791.13L787.24 787.47L787.24 785.28L787.97 781.62L789.44 779.43L791.63 778.70M803.33 792.59L802.59 793.32L803.33 794.05L804.06 793.32L803.33 792.59M803.33 793.32L803.33 793.32M813.56 778.70L815.02 778.70L817.21 779.43L818.68 781.62L819.41 785.28L819.41 787.47L818.68 791.13L817.21 793.32L815.02 794.05L813.56 794.05L811.37 793.32L809.90 791.13L809.17 787.47L809.17 785.28L809.90 781.62L811.37 779.43L813.56 778.70" stroke="#0000ff" stroke-width="1.45"/>
<path d="M400.90 1154.50L406.50 1154.50L408.90 1155.30L410.50 1156.90L411.30 1158.50L412.10 1160.90L412.10 1164.90L411.30 1167.30L410.50 1168.90L408.90 1170.50L406.50 1171.30L400.90 1171.30L400.90 1154.50M436.10 1151.30L434.50 1152.90L432.90 1155.30L431.30 1158.50L430.50 1162.50L430.50 1165.70L431.30 1169.70L432.90 1172.90L434.50 1175.30L436.10 1176.90M441.70 1154.50L441.70 1168.10L449.70 1160.10M444.90 1164.90L450.50 1171.30M441.70 1168.10L441.70 1171.30M455.30 1160.10L455.30 1162.50L456.90 1160.90L458.50 1160.10L460.90 1160.10L462.50 1160.90L464.10 1162.50L464.90 1164.90L464.90 1166.50L464.10 1168.90L462.50 1170.50L460.90 1171.30L458.50 1171.30L456.90 1170.50L455.30 1168.90L455.30 1162.50M455.30 1168.90L455.30 1176.90M479.30 1162.50L477.70 1160.90L476.10 1160.10L473.70 1160.10L472.10 1160.90L470.50 1162.50L469.70 1164.90L469.70 1166.50L470.50 1168.90L472.10 1170.50L473.70 1171.30L476.10 1171.30L477.70 1170.50L479.30 1168.90M484.10 1151.30L485.70 1152.90L487.30 1155.30L488.90 1158.50L489.70 1162.50L489.70 1165.70L488.90 1169.70L487.30 1172.90L485.70 1175.30L484.10 1176.90" stroke="#000" stroke-width="1.45"/>
<path d="M117.6 76.6H175" stroke="#000" stroke-width="2.8" stroke-dasharray="2.4 15.35"/>
<path d="M106.4 119.8H172.9" stroke="#000" stroke-width="1.4" stroke-linecap="butt"/>
<path d="M187.25 67.08L185.80 67.08L184.35 67.80L183.62 69.97L183.62 72.15L181.45 72.15M186.53 72.15L183.62 72.15L183.62 82.30M190.88 79.58L194.68 79.58L196.31 80.12L197.40 81.21L197.94 82.30L198.49 83.93L198.49 86.65L197.94 88.28L197.40 89.37L196.31 90.46L194.68 91.00L190.88 91.00L190.88 79.58" stroke="#000" stroke-width="1.45"/>
<path d="M187.25 110.38L185.80 110.38L184.35 111.10L183.62 113.27L183.62 115.45L181.45 115.45M186.53 115.45L183.62 115.45L183.62 125.60M190.88 122.88L194.68 122.88L196.31 123.42L197.40 124.51L197.94 125.60L198.49 127.23L198.49 129.95L197.94 131.58L197.40 132.67L196.31 133.76L194.68 134.30L190.88 134.30L190.88 122.88M210.99 115.45L210.99 117.62L209.54 116.17L208.09 115.45L205.92 115.45L204.47 116.17L203.02 117.62L202.29 119.80L202.29 121.25L203.02 123.42L204.47 124.88L205.92 125.60L208.09 125.60L209.54 124.88L210.99 123.42L210.99 117.62M210.99 123.42L210.99 127.05L210.27 129.22L209.54 129.95L208.09 130.67L205.92 130.67L204.47 129.95M216.07 122.88L219.88 122.88L221.51 123.42L222.59 124.51L223.14 125.60L223.68 127.23L223.68 129.95L223.14 131.58L222.59 132.67L221.51 133.76L219.88 134.30L216.07 134.30L216.07 122.88" stroke="#000" stroke-width="1.45"/>
<path d="M689 508.8H746.2" stroke="#000" stroke-width="1.4" stroke-linecap="butt"/>
<path d="M689.6 550.3H748" stroke="#000" stroke-width="2.8" stroke-dasharray="2.4 15.35"/>
<path d="M756.80 497.70L762.40 497.70M759.20 497.70L759.20 514.50L756.80 514.50M760.00 497.70L760.00 514.50L759.20 514.50M760.00 514.50L762.40 514.50M769.40 515.70L768.20 516.30L767.00 517.50L766.40 518.70L765.80 520.50L765.80 522.30L766.40 523.50L767.60 524.10L768.80 524.10L770.00 523.50L771.20 521.70L772.40 519.30L773.60 515.70M769.40 515.70L770.60 515.70L771.20 516.30L771.80 517.50L773.00 522.30L773.60 523.50L774.20 524.10L774.80 524.10" stroke="#000" stroke-width="1.45"/>
<path d="M756.80 539.90L762.40 539.90M759.20 539.90L759.20 556.70L756.80 556.70M760.00 539.90L760.00 556.70L759.20 556.70M760.00 556.70L762.40 556.70M773.00 556.40L771.80 555.08L770.30 554.30L769.22 554.42L768.56 555.20L768.80 556.52L770.30 558.02L771.80 559.34L772.70 561.26L772.58 563.48L771.50 565.34L769.58 566.30L767.84 566.06L766.40 564.62L765.98 562.70L766.58 560.42L768.02 558.80L769.58 558.02L770.30 558.02" stroke="#000" stroke-width="1.45"/>
<path d="M115.20 859.58L113.46 859.58L111.72 860.45L110.85 863.06L110.85 865.67L108.24 865.67M114.33 865.67L110.85 865.67L110.85 877.85M119.55 874.59L124.12 874.59L126.08 875.24L127.38 876.55L128.03 877.85L128.69 879.81L128.69 883.07L128.03 885.03L127.38 886.33L126.08 887.64L124.12 888.29L119.55 888.29L119.55 874.59M143.69 865.67L143.69 868.28L141.95 866.54L140.21 865.67L137.60 865.67L135.86 866.54L134.12 868.28L133.25 870.89L133.25 872.63L134.12 875.24L135.86 876.98L137.60 877.85L140.21 877.85L141.95 876.98L143.69 875.24L143.69 868.28M143.69 875.24L143.69 879.59L142.82 882.20L141.95 883.07L140.21 883.94L137.60 883.94L135.86 883.07M149.78 874.59L154.35 874.59L156.31 875.24L157.61 876.55L158.26 877.85L158.92 879.81L158.92 883.07L158.26 885.03L157.61 886.33L156.31 887.64L154.35 888.29L149.78 888.29L149.78 874.59M162.62 859.58L168.70 859.58M165.22 859.58L165.22 877.85L162.62 877.85M166.09 859.58L166.09 877.85L165.22 877.85M166.09 877.85L168.70 877.85M176.63 879.15L175.22 879.81L173.81 881.11L173.11 882.42L172.40 884.38L172.40 886.33L173.11 887.64L174.52 888.29L175.93 888.29L177.34 887.64L178.74 885.68L180.15 883.07L181.56 879.15M176.63 879.15L178.04 879.15L178.74 879.81L179.45 881.11L180.86 886.33L181.56 887.64L182.27 888.29L182.97 888.29M177.22 879.15L175.81 879.81L174.40 881.11L173.69 882.42L172.99 884.38L172.99 886.33L173.69 887.64L175.10 888.29L176.51 888.29L177.92 887.64L179.33 885.68L180.74 883.07L182.15 879.15M177.22 879.15L178.63 879.15L179.33 879.81L180.04 881.11L181.45 886.33L182.15 887.64L182.86 888.29L183.56 888.29M176.92 879.02L175.51 879.68L174.11 880.98L173.40 882.29L172.70 884.24L172.70 886.20L173.40 887.51L174.81 888.16L176.22 888.16L177.63 887.51L179.04 885.55L180.45 882.94L181.86 879.02M176.92 879.02L178.33 879.02L179.04 879.68L179.74 880.98L181.15 886.20L181.86 887.51L182.56 888.16L183.27 888.16M187.52 859.58L193.61 859.58M190.13 859.58L190.13 877.85L187.52 877.85M191.00 859.58L191.00 877.85L190.13 877.85M191.00 877.85L193.61 877.85M205.14 877.52L203.83 876.09L202.20 875.24L201.03 875.37L200.31 876.22L200.57 877.65L202.20 879.29L203.83 880.72L204.81 882.81L204.68 885.22L203.50 887.25L201.42 888.29L199.52 888.03L197.96 886.46L197.50 884.38L198.15 881.90L199.72 880.13L201.42 879.29L202.20 879.29" stroke="#000" stroke-width="1.45"/>
</g>
</svg>
</body></html>
